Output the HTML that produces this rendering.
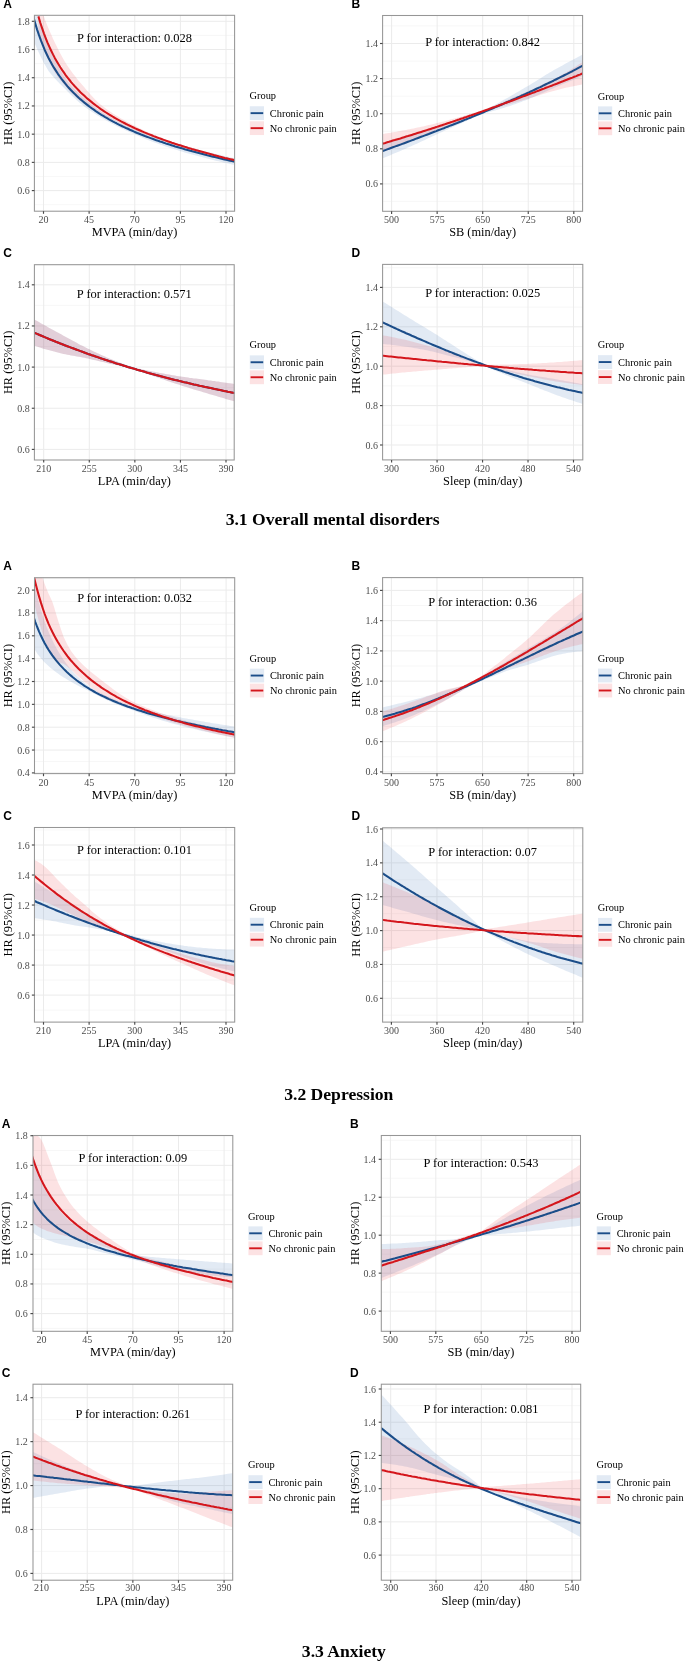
<!DOCTYPE html>
<html><head><meta charset="utf-8"><title>Spline plots</title><style>html,body{margin:0;padding:0;background:#fff;width:685px;height:1661px;overflow:hidden}svg{display:block;will-change:transform}</style></head><body>
<svg width="685" height="1661" viewBox="0 0 685 1661"><style>
.tk{font-family:"Liberation Serif",serif;font-size:10px;fill:#4d4d4d}
.at{font-family:"Liberation Serif",serif;font-size:12.35px;fill:#000}
.pt{font-family:"Liberation Serif",serif;font-size:12.45px;fill:#000}
.lg{font-family:"Liberation Serif",serif;font-size:10.4px;fill:#000}
.lt{font-family:"Liberation Sans",sans-serif;font-size:12px;font-weight:bold;fill:#000}
.cap{font-family:"Liberation Serif",serif;font-size:17.6px;font-weight:bold;fill:#000}
</style><defs><clipPath id="c1A"><rect x="34.4" y="15.3" width="200.2" height="195.9"/></clipPath><clipPath id="c1B"><rect x="382.6" y="15.5" width="200" height="195.8"/></clipPath><clipPath id="c1C"><rect x="34.4" y="264.7" width="199.8" height="195.3"/></clipPath><clipPath id="c1D"><rect x="382.6" y="264.4" width="200.2" height="195.5"/></clipPath><clipPath id="c2A"><rect x="34.5" y="577.7" width="200.2" height="195.9"/></clipPath><clipPath id="c2B"><rect x="382.6" y="577.6" width="200.2" height="196"/></clipPath><clipPath id="c2C"><rect x="34.45" y="827.5" width="200.25" height="194.6"/></clipPath><clipPath id="c2D"><rect x="382.6" y="827.8" width="200.2" height="194.3"/></clipPath><clipPath id="c3A"><rect x="33" y="1135.5" width="199.8" height="195.8"/></clipPath><clipPath id="c3B"><rect x="381.3" y="1135.5" width="199.2" height="195.8"/></clipPath><clipPath id="c3C"><rect x="33" y="1384.2" width="199.7" height="196"/></clipPath><clipPath id="c3D"><rect x="381.3" y="1384.2" width="199.4" height="196"/></clipPath></defs>
<rect width="685" height="1661" fill="#fff"/>
<line x1="34.4" y1="204.71" x2="234.6" y2="204.71" stroke="#f3f3f3" stroke-width="0.7"/>
<line x1="34.4" y1="176.49" x2="234.6" y2="176.49" stroke="#f3f3f3" stroke-width="0.7"/>
<line x1="34.4" y1="148.27" x2="234.6" y2="148.27" stroke="#f3f3f3" stroke-width="0.7"/>
<line x1="34.4" y1="120.06" x2="234.6" y2="120.06" stroke="#f3f3f3" stroke-width="0.7"/>
<line x1="34.4" y1="91.84" x2="234.6" y2="91.84" stroke="#f3f3f3" stroke-width="0.7"/>
<line x1="34.4" y1="63.63" x2="234.6" y2="63.63" stroke="#f3f3f3" stroke-width="0.7"/>
<line x1="34.4" y1="35.41" x2="234.6" y2="35.41" stroke="#f3f3f3" stroke-width="0.7"/>
<line x1="43.5" y1="15.3" x2="43.5" y2="211.2" stroke="#ebebeb" stroke-width="1"/>
<line x1="89.12" y1="15.3" x2="89.12" y2="211.2" stroke="#ebebeb" stroke-width="1"/>
<line x1="134.75" y1="15.3" x2="134.75" y2="211.2" stroke="#ebebeb" stroke-width="1"/>
<line x1="180.38" y1="15.3" x2="180.38" y2="211.2" stroke="#ebebeb" stroke-width="1"/>
<line x1="226" y1="15.3" x2="226" y2="211.2" stroke="#ebebeb" stroke-width="1"/>
<line x1="34.4" y1="190.6" x2="234.6" y2="190.6" stroke="#ebebeb" stroke-width="1"/>
<line x1="34.4" y1="162.38" x2="234.6" y2="162.38" stroke="#ebebeb" stroke-width="1"/>
<line x1="34.4" y1="134.17" x2="234.6" y2="134.17" stroke="#ebebeb" stroke-width="1"/>
<line x1="34.4" y1="105.95" x2="234.6" y2="105.95" stroke="#ebebeb" stroke-width="1"/>
<line x1="34.4" y1="77.73" x2="234.6" y2="77.73" stroke="#ebebeb" stroke-width="1"/>
<line x1="34.4" y1="49.52" x2="234.6" y2="49.52" stroke="#ebebeb" stroke-width="1"/>
<line x1="34.4" y1="21.3" x2="234.6" y2="21.3" stroke="#ebebeb" stroke-width="1"/>
<g clip-path="url(#c1A)">
<path d="M31.4,-18.7 33.3,-8.8 35.2,0.3 37.1,8.5 39,16 40.9,22.7 42.8,28.7 44.6,34.1 46.5,39.1 48.4,43.9 50.3,48.6 52.2,53.2 54.1,57.6 56,61.6 57.9,65.4 59.8,68.9 61.7,72.3 63.6,75.4 65.5,78.3 67.3,80.8 69.2,83.2 71.1,85.5 73,87.6 74.9,89.6 76.8,91.6 78.7,93.4 80.6,95.2 82.5,97 84.4,98.6 86.3,100.3 88.2,101.9 90,103.4 91.9,104.9 93.8,106.4 95.7,107.8 97.6,109.2 99.5,110.5 101.4,111.8 103.3,113 105.2,114.2 107.1,115.4 109,116.5 110.9,117.6 112.7,118.7 114.6,119.7 116.5,120.7 118.4,121.7 120.3,122.7 122.2,123.6 124.1,124.5 126,125.4 127.9,126.3 129.8,127.2 131.7,128 133.6,128.9 135.4,129.6 137.3,130.4 139.2,131.1 141.1,131.8 143,132.5 144.9,133.2 146.8,133.9 148.7,134.6 150.6,135.3 152.5,135.9 154.4,136.6 156.3,137.2 158.1,137.8 160,138.4 161.9,139 163.8,139.6 165.7,140.2 167.6,140.8 169.5,141.4 171.4,142 173.3,142.6 175.2,143.1 177.1,143.7 179,144.2 180.8,144.8 182.7,145.3 184.6,145.9 186.5,146.4 188.4,146.9 190.3,147.5 192.2,148 194.1,148.5 196,149 197.9,149.5 199.8,150 201.7,150.5 203.5,150.9 205.4,151.4 207.3,151.9 209.2,152.4 211.1,152.8 213,153.3 214.9,153.7 216.8,154.2 218.7,154.6 220.6,155.1 222.5,155.5 224.4,156 226.2,156.4 228.1,156.8 230,157.2 231.9,157.7 233.8,158.1 235.7,158.5 237.6,158.9 L237.6,165.7 235.7,165.2 233.8,164.8 231.9,164.4 230,164 228.1,163.6 226.2,163.1 224.4,162.7 222.5,162.2 220.6,161.8 218.7,161.3 216.8,160.9 214.9,160.4 213,160 211.1,159.5 209.2,159 207.3,158.5 205.4,158.1 203.5,157.6 201.7,157.1 199.8,156.6 197.9,156.1 196,155.6 194.1,155 192.2,154.5 190.3,154 188.4,153.5 186.5,152.9 184.6,152.4 182.7,151.8 180.8,151.3 179,150.7 177.1,150.1 175.2,149.5 173.3,148.9 171.4,148.3 169.5,147.7 167.6,147.1 165.7,146.4 163.8,145.8 161.9,145.1 160,144.4 158.1,143.8 156.3,143.1 154.4,142.4 152.5,141.7 150.6,140.9 148.7,140.2 146.8,139.4 144.9,138.7 143,137.9 141.1,137.1 139.2,136.3 137.3,135.5 135.4,134.6 133.6,133.8 131.7,133 129.8,132.2 127.9,131.3 126,130.5 124.1,129.6 122.2,128.7 120.3,127.8 118.4,126.9 116.5,125.9 114.6,125 112.7,124 110.9,123 109,121.9 107.1,120.9 105.2,119.8 103.3,118.8 101.4,117.7 99.5,116.6 97.6,115.4 95.7,114.3 93.8,113.1 91.9,111.8 90,110.5 88.2,109.2 86.3,107.9 84.4,106.5 82.5,105 80.6,103.5 78.7,101.9 76.8,100.2 74.9,98.5 73,96.8 71.1,95 69.2,93.1 67.3,91.2 65.5,89.2 63.6,87.4 61.7,85.6 59.8,83.7 57.9,81.8 56,79.8 54.1,77.7 52.2,75.6 50.3,73.3 48.4,70.7 46.5,67.6 44.6,64.3 42.8,60.7 40.9,56.9 39,53.1 37.1,49 35.2,44.5 33.3,39.5 31.4,33.9Z" fill="#3b6fb6" fill-opacity="0.15"/>
<path d="M38.4,0 40.2,6 42.1,11.4 43.9,16.6 45.7,21.5 47.5,26.1 49.4,30.4 51.2,34.6 53,38.7 54.8,42.6 56.7,46.3 58.5,50 60.3,53.5 62.2,57 64,60.2 65.8,63.2 67.6,66 69.5,68.7 71.3,71.2 73.1,73.7 75,76.1 76.8,78.4 78.6,80.7 80.4,82.8 82.3,85 84.1,87.1 85.9,89.2 87.7,91.3 89.6,93.4 91.4,95.5 93.2,97.5 95.1,99.4 96.9,101.2 98.7,102.9 100.5,104.4 102.4,105.9 104.2,107.3 106,108.7 107.8,110 109.7,111.3 111.5,112.5 113.3,113.7 115.2,114.9 117,116 118.8,117.1 120.6,118.2 122.5,119.3 124.3,120.3 126.1,121.3 127.9,122.3 129.8,123.3 131.6,124.3 133.4,125.2 135.3,126.1 137.1,127 138.9,127.9 140.7,128.8 142.6,129.7 144.4,130.5 146.2,131.4 148.1,132.2 149.9,133 151.7,133.8 153.5,134.6 155.4,135.4 157.2,136.1 159,136.9 160.8,137.6 162.7,138.3 164.5,139 166.3,139.7 168.2,140.4 170,141.1 171.8,141.8 173.6,142.4 175.5,143.1 177.3,143.7 179.1,144.3 180.9,144.9 182.8,145.5 184.6,146 186.4,146.6 188.3,147.1 190.1,147.7 191.9,148.2 193.7,148.7 195.6,149.2 197.4,149.8 199.2,150.3 201,150.8 202.9,151.3 204.7,151.8 206.5,152.2 208.4,152.7 210.2,153.2 212,153.7 213.8,154.2 215.7,154.6 217.5,155.1 219.3,155.5 221.2,156 223,156.4 224.8,156.9 226.6,157.3 228.5,157.8 230.3,158.2 232.1,158.6 233.9,159 235.8,159.5 237.6,159.9 L237.6,161.9 235.8,161.5 233.9,161.1 232.1,160.6 230.3,160.2 228.5,159.7 226.6,159.3 224.8,158.8 223,158.4 221.2,157.9 219.3,157.4 217.5,156.9 215.7,156.5 213.8,156 212,155.5 210.2,155 208.4,154.5 206.5,154 204.7,153.5 202.9,153 201,152.5 199.2,151.9 197.4,151.4 195.6,150.9 193.7,150.3 191.9,149.8 190.1,149.2 188.3,148.7 186.4,148.1 184.6,147.5 182.8,147 180.9,146.4 179.1,145.8 177.3,145.2 175.5,144.7 173.6,144.1 171.8,143.5 170,143 168.2,142.4 166.3,141.8 164.5,141.2 162.7,140.6 160.8,140 159,139.4 157.2,138.8 155.4,138.1 153.5,137.5 151.7,136.9 149.9,136.2 148.1,135.5 146.2,134.9 144.4,134.2 142.6,133.5 140.7,132.8 138.9,132 137.1,131.3 135.3,130.5 133.4,129.8 131.6,129 129.8,128.2 127.9,127.4 126.1,126.5 124.3,125.7 122.5,124.8 120.6,123.9 118.8,123 117,122.1 115.2,121.2 113.3,120.2 111.5,119.3 109.7,118.3 107.8,117.3 106,116.2 104.2,115.2 102.4,114.1 100.5,113.1 98.7,112 96.9,111 95.1,110 93.2,109.1 91.4,108.2 89.6,107.2 87.7,106.2 85.9,105 84.1,103.8 82.3,102.5 80.4,101 78.6,99.5 76.8,98 75,96.3 73.1,94.6 71.3,92.7 69.5,90.8 67.6,88.7 65.8,86.6 64,84.5 62.2,82.3 60.3,80.1 58.5,77.7 56.7,75.1 54.8,72.2 53,69.1 51.2,65.7 49.4,62.1 47.5,58 45.7,53.7 43.9,48.9 42.1,43.7 40.2,38 38.4,31.8Z" fill="#e8202a" fill-opacity="0.13"/>
<path d="M31.4,8.9 33.3,16.5 35.2,23.3 37.1,29.6 39,35.2 40.9,40.4 42.8,45.2 44.6,49.7 46.5,53.8 48.4,57.7 50.3,61.3 52.2,64.7 54.1,67.9 56,70.9 57.9,73.8 59.8,76.5 61.7,79.1 63.6,81.5 65.5,83.8 67.3,86.1 69.2,88.2 71.1,90.3 73,92.2 74.9,94.1 76.8,95.9 78.7,97.7 80.6,99.4 82.5,101 84.4,102.6 86.3,104.1 88.2,105.6 90,107 91.9,108.4 93.8,109.7 95.7,111.1 97.6,112.3 99.5,113.6 101.4,114.8 103.3,115.9 105.2,117.1 107.1,118.2 109,119.3 110.9,120.3 112.7,121.4 114.6,122.4 116.5,123.3 118.4,124.3 120.3,125.3 122.2,126.2 124.1,127.1 126,128 127.9,128.8 129.8,129.7 131.7,130.5 133.6,131.4 135.4,132.2 137.3,133 139.2,133.7 141.1,134.5 143,135.2 144.9,136 146.8,136.7 148.7,137.4 150.6,138.1 152.5,138.8 154.4,139.5 156.3,140.2 158.1,140.8 160,141.5 161.9,142.1 163.8,142.7 165.7,143.4 167.6,144 169.5,144.6 171.4,145.2 173.3,145.8 175.2,146.4 177.1,146.9 179,147.5 180.8,148.1 182.7,148.6 184.6,149.2 186.5,149.7 188.4,150.2 190.3,150.8 192.2,151.3 194.1,151.8 196,152.3 197.9,152.8 199.8,153.3 201.7,153.8 203.5,154.3 205.4,154.8 207.3,155.3 209.2,155.7 211.1,156.2 213,156.7 214.9,157.1 216.8,157.6 218.7,158 220.6,158.5 222.5,158.9 224.4,159.4 226.2,159.8 228.1,160.2 230,160.7 231.9,161.1 233.8,161.5 235.7,161.9 237.6,162.3" fill="none" stroke="#1b4d89" stroke-width="2.05" stroke-linejoin="round"/>
<path d="M38.4,16.4 40.2,22.5 42.1,28.1 43.9,33.3 45.7,38.1 47.5,42.6 49.4,46.8 51.2,50.7 53,54.4 54.8,57.9 56.7,61.2 58.5,64.3 60.3,67.2 62.2,70.1 64,72.7 65.8,75.3 67.6,77.7 69.5,80 71.3,82.3 73.1,84.4 75,86.5 76.8,88.4 78.6,90.3 80.4,92.2 82.3,93.9 84.1,95.6 85.9,97.3 87.7,98.9 89.6,100.4 91.4,101.9 93.2,103.4 95.1,104.8 96.9,106.2 98.7,107.5 100.5,108.8 102.4,110.1 104.2,111.3 106,112.5 107.8,113.7 109.7,114.8 111.5,115.9 113.3,117 115.2,118.1 117,119.1 118.8,120.1 120.6,121.1 122.5,122.1 124.3,123 126.1,124 127.9,124.9 129.8,125.8 131.6,126.6 133.4,127.5 135.3,128.4 137.1,129.2 138.9,130 140.7,130.8 142.6,131.6 144.4,132.4 146.2,133.1 148.1,133.9 149.9,134.6 151.7,135.3 153.5,136.1 155.4,136.8 157.2,137.5 159,138.1 160.8,138.8 162.7,139.5 164.5,140.1 166.3,140.8 168.2,141.4 170,142 171.8,142.7 173.6,143.3 175.5,143.9 177.3,144.5 179.1,145.1 180.9,145.6 182.8,146.2 184.6,146.8 186.4,147.3 188.3,147.9 190.1,148.4 191.9,149 193.7,149.5 195.6,150.1 197.4,150.6 199.2,151.1 201,151.6 202.9,152.1 204.7,152.6 206.5,153.1 208.4,153.6 210.2,154.1 212,154.6 213.8,155.1 215.7,155.5 217.5,156 219.3,156.5 221.2,156.9 223,157.4 224.8,157.9 226.6,158.3 228.5,158.8 230.3,159.2 232.1,159.6 233.9,160.1 235.8,160.5 237.6,160.9" fill="none" stroke="#d4161c" stroke-width="2.05" stroke-linejoin="round"/>
</g>
<rect x="34.4" y="15.3" width="200.2" height="195.9" fill="none" stroke="#969696" stroke-width="1.05"/>
<line x1="31.8" y1="190.6" x2="34.4" y2="190.6" stroke="#4a4a4a" stroke-width="1.15"/>
<text x="29.7" y="194.1" class="tk" text-anchor="end">0.6</text>
<line x1="31.8" y1="162.38" x2="34.4" y2="162.38" stroke="#4a4a4a" stroke-width="1.15"/>
<text x="29.7" y="165.88" class="tk" text-anchor="end">0.8</text>
<line x1="31.8" y1="134.17" x2="34.4" y2="134.17" stroke="#4a4a4a" stroke-width="1.15"/>
<text x="29.7" y="137.67" class="tk" text-anchor="end">1.0</text>
<line x1="31.8" y1="105.95" x2="34.4" y2="105.95" stroke="#4a4a4a" stroke-width="1.15"/>
<text x="29.7" y="109.45" class="tk" text-anchor="end">1.2</text>
<line x1="31.8" y1="77.73" x2="34.4" y2="77.73" stroke="#4a4a4a" stroke-width="1.15"/>
<text x="29.7" y="81.23" class="tk" text-anchor="end">1.4</text>
<line x1="31.8" y1="49.52" x2="34.4" y2="49.52" stroke="#4a4a4a" stroke-width="1.15"/>
<text x="29.7" y="53.02" class="tk" text-anchor="end">1.6</text>
<line x1="31.8" y1="21.3" x2="34.4" y2="21.3" stroke="#4a4a4a" stroke-width="1.15"/>
<text x="29.7" y="24.8" class="tk" text-anchor="end">1.8</text>
<line x1="43.5" y1="211.2" x2="43.5" y2="213.8" stroke="#4a4a4a" stroke-width="1.15"/>
<text x="43.5" y="223.2" class="tk" text-anchor="middle">20</text>
<line x1="89.12" y1="211.2" x2="89.12" y2="213.8" stroke="#4a4a4a" stroke-width="1.15"/>
<text x="89.12" y="223.2" class="tk" text-anchor="middle">45</text>
<line x1="134.75" y1="211.2" x2="134.75" y2="213.8" stroke="#4a4a4a" stroke-width="1.15"/>
<text x="134.75" y="223.2" class="tk" text-anchor="middle">70</text>
<line x1="180.38" y1="211.2" x2="180.38" y2="213.8" stroke="#4a4a4a" stroke-width="1.15"/>
<text x="180.38" y="223.2" class="tk" text-anchor="middle">95</text>
<line x1="226" y1="211.2" x2="226" y2="213.8" stroke="#4a4a4a" stroke-width="1.15"/>
<text x="226" y="223.2" class="tk" text-anchor="middle">120</text>
<text x="134.5" y="236.2" class="at" text-anchor="middle">MVPA (min/day)</text>
<text transform="translate(11.8,113.25) rotate(-90)" class="at" text-anchor="middle">HR (95%CI)</text>
<text x="134.5" y="41.9" class="pt" text-anchor="middle">P for interaction: 0.028</text>
<text x="3.2" y="7.9" class="lt">A</text>
<text x="249.5" y="99.35" class="lg">Group</text>
<rect x="249.8" y="106.25" width="14.2" height="13.8" fill="#3b6fb6" fill-opacity="0.15"/>
<line x1="250.6" y1="113.15" x2="263.2" y2="113.15" stroke="#1b4d89" stroke-width="1.9"/>
<text x="269.8" y="116.65" class="lg">Chronic pain</text>
<rect x="249.8" y="121.25" width="14.2" height="13.8" fill="#e8202a" fill-opacity="0.13"/>
<line x1="250.6" y1="128.15" x2="263.2" y2="128.15" stroke="#d4161c" stroke-width="1.9"/>
<text x="269.8" y="131.65" class="lg">No chronic pain</text>
<line x1="382.6" y1="201.45" x2="582.6" y2="201.45" stroke="#f3f3f3" stroke-width="0.7"/>
<line x1="382.6" y1="166.35" x2="582.6" y2="166.35" stroke="#f3f3f3" stroke-width="0.7"/>
<line x1="382.6" y1="131.25" x2="582.6" y2="131.25" stroke="#f3f3f3" stroke-width="0.7"/>
<line x1="382.6" y1="96.15" x2="582.6" y2="96.15" stroke="#f3f3f3" stroke-width="0.7"/>
<line x1="382.6" y1="61.05" x2="582.6" y2="61.05" stroke="#f3f3f3" stroke-width="0.7"/>
<line x1="382.6" y1="25.95" x2="582.6" y2="25.95" stroke="#f3f3f3" stroke-width="0.7"/>
<line x1="391.6" y1="15.5" x2="391.6" y2="211.3" stroke="#ebebeb" stroke-width="1"/>
<line x1="437.15" y1="15.5" x2="437.15" y2="211.3" stroke="#ebebeb" stroke-width="1"/>
<line x1="482.7" y1="15.5" x2="482.7" y2="211.3" stroke="#ebebeb" stroke-width="1"/>
<line x1="528.25" y1="15.5" x2="528.25" y2="211.3" stroke="#ebebeb" stroke-width="1"/>
<line x1="573.8" y1="15.5" x2="573.8" y2="211.3" stroke="#ebebeb" stroke-width="1"/>
<line x1="382.6" y1="183.9" x2="582.6" y2="183.9" stroke="#ebebeb" stroke-width="1"/>
<line x1="382.6" y1="148.8" x2="582.6" y2="148.8" stroke="#ebebeb" stroke-width="1"/>
<line x1="382.6" y1="113.7" x2="582.6" y2="113.7" stroke="#ebebeb" stroke-width="1"/>
<line x1="382.6" y1="78.6" x2="582.6" y2="78.6" stroke="#ebebeb" stroke-width="1"/>
<line x1="382.6" y1="43.5" x2="582.6" y2="43.5" stroke="#ebebeb" stroke-width="1"/>
<g clip-path="url(#c1B)">
<path d="M379.6,144.2 381.5,143.6 383.4,143.1 385.3,142.5 387.2,142 389,141.4 390.9,140.9 392.8,140.3 394.7,139.8 396.6,139.2 398.5,138.7 400.4,138.1 402.3,137.6 404.2,137 406.1,136.4 407.9,135.9 409.8,135.3 411.7,134.7 413.6,134.2 415.5,133.6 417.4,133 419.3,132.5 421.2,131.9 423.1,131.3 425,130.7 426.8,130.1 428.7,129.6 430.6,129 432.5,128.4 434.4,127.8 436.3,127.2 438.2,126.6 440.1,126 442,125.4 443.9,124.8 445.7,124.2 447.6,123.6 449.5,122.9 451.4,122.3 453.3,121.7 455.2,121.1 457.1,120.4 459,119.8 460.9,119.2 462.8,118.6 464.6,117.9 466.5,117.3 468.4,116.6 470.3,116 472.2,115.3 474.1,114.7 476,114 477.9,113.4 479.8,112.7 481.7,112 483.5,111.1 485.4,110 487.3,109 489.2,108 491.1,106.9 493,105.9 494.9,104.8 496.8,103.8 498.7,102.7 500.6,101.7 502.4,100.6 504.3,99.6 506.2,98.5 508.1,97.4 510,96.4 511.9,95.3 513.8,94.2 515.7,93.1 517.6,92 519.5,90.9 521.3,89.8 523.2,88.7 525.1,87.6 527,86.5 528.9,85.4 530.8,84.2 532.7,83.1 534.6,81.9 536.5,80.7 538.4,79.6 540.2,78.4 542.1,77.2 544,76 545.9,74.8 547.8,73.7 549.7,72.5 551.6,71.4 553.5,70.3 555.4,69.3 557.3,68.3 559.1,67.2 561,66.2 562.9,65.2 564.8,64.1 566.7,63.1 568.6,62.1 570.5,61 572.4,60 574.3,59 576.2,58 578,56.9 579.9,55.9 581.8,54.9 583.7,53.9 585.6,52.9 L585.6,74.8 583.7,75.5 581.8,76.3 579.9,77.1 578,77.9 576.2,78.6 574.3,79.4 572.4,80.2 570.5,81 568.6,81.7 566.7,82.5 564.8,83.3 562.9,84.1 561,84.9 559.1,85.7 557.3,86.5 555.4,87.3 553.5,88.2 551.6,89 549.7,89.8 547.8,90.7 545.9,91.5 544,92.4 542.1,93.2 540.2,94.1 538.4,94.9 536.5,95.7 534.6,96.5 532.7,97.4 530.8,98.1 528.9,98.9 527,99.7 525.1,100.4 523.2,101.1 521.3,101.9 519.5,102.6 517.6,103.3 515.7,103.9 513.8,104.6 511.9,105.2 510,105.9 508.1,106.5 506.2,107.1 504.3,107.7 502.4,108.3 500.6,108.8 498.7,109.4 496.8,110 494.9,110.5 493,111 491.1,111.5 489.2,112.1 487.3,112.5 485.4,113 483.5,113.5 481.7,114.1 479.8,114.9 477.9,115.7 476,116.6 474.1,117.4 472.2,118.3 470.3,119.2 468.4,120 466.5,120.9 464.6,121.7 462.8,122.6 460.9,123.4 459,124.3 457.1,125.1 455.2,126 453.3,126.8 451.4,127.7 449.5,128.6 447.6,129.4 445.7,130.3 443.9,131.1 442,132 440.1,132.8 438.2,133.7 436.3,134.5 434.4,135.4 432.5,136.3 430.6,137.2 428.7,138.1 426.8,139 425,139.9 423.1,140.7 421.2,141.6 419.3,142.5 417.4,143.4 415.5,144.3 413.6,145.1 411.7,146 409.8,146.8 407.9,147.6 406.1,148.4 404.2,149.3 402.3,150.1 400.4,150.9 398.5,151.7 396.6,152.5 394.7,153.3 392.8,154.1 390.9,154.9 389,155.7 387.2,156.4 385.3,157.2 383.4,158 381.5,158.7 379.6,159.5Z" fill="#3b6fb6" fill-opacity="0.15"/>
<path d="M379.6,134.5 381.5,134.2 383.4,133.9 385.3,133.6 387.2,133.3 389,133 390.9,132.7 392.8,132.3 394.7,132 396.6,131.7 398.5,131.3 400.4,131 402.3,130.6 404.2,130.3 406.1,129.9 407.9,129.6 409.8,129.2 411.7,128.8 413.6,128.4 415.5,128 417.4,127.6 419.3,127.2 421.2,126.8 423.1,126.4 425,126 426.8,125.6 428.7,125.1 430.6,124.7 432.5,124.2 434.4,123.8 436.3,123.3 438.2,122.8 440.1,122.3 442,121.8 443.9,121.4 445.7,120.9 447.6,120.4 449.5,119.8 451.4,119.3 453.3,118.8 455.2,118.3 457.1,117.8 459,117.2 460.9,116.7 462.8,116.2 464.6,115.6 466.5,115.1 468.4,114.5 470.3,113.9 472.2,113.4 474.1,112.8 476,112.2 477.9,111.6 479.8,111 481.7,110.4 483.5,109.7 485.4,109 487.3,108.2 489.2,107.5 491.1,106.7 493,106 494.9,105.2 496.8,104.4 498.7,103.7 500.6,102.9 502.4,102.1 504.3,101.3 506.2,100.5 508.1,99.7 510,98.9 511.9,98.1 513.8,97.3 515.7,96.5 517.6,95.7 519.5,94.9 521.3,94 523.2,93.2 525.1,92.4 527,91.5 528.9,90.7 530.8,89.9 532.7,89 534.6,88.2 536.5,87.3 538.4,86.5 540.2,85.6 542.1,84.7 544,83.8 545.9,83 547.8,82.1 549.7,81.1 551.6,80.2 553.5,79.3 555.4,78.3 557.3,77.3 559.1,76.3 561,75.3 562.9,74.2 564.8,73.2 566.7,72 568.6,70.9 570.5,69.8 572.4,68.6 574.3,67.4 576.2,66.2 578,65 579.9,63.8 581.8,62.5 583.7,61.3 585.6,60 L585.6,84 583.7,84.3 581.8,84.6 579.9,85 578,85.3 576.2,85.7 574.3,86 572.4,86.4 570.5,86.8 568.6,87.2 566.7,87.6 564.8,88 562.9,88.5 561,88.9 559.1,89.4 557.3,89.9 555.4,90.4 553.5,90.9 551.6,91.5 549.7,92 547.8,92.6 545.9,93.2 544,93.8 542.1,94.3 540.2,94.9 538.4,95.5 536.5,96.1 534.6,96.7 532.7,97.3 530.8,97.9 528.9,98.4 527,99 525.1,99.6 523.2,100.1 521.3,100.7 519.5,101.3 517.6,101.8 515.7,102.4 513.8,103 511.9,103.5 510,104.1 508.1,104.7 506.2,105.2 504.3,105.8 502.4,106.3 500.6,106.9 498.7,107.5 496.8,108 494.9,108.6 493,109.1 491.1,109.7 489.2,110.2 487.3,110.8 485.4,111.3 483.5,111.9 481.7,112.4 479.8,113.2 477.9,113.9 476,114.7 474.1,115.4 472.2,116.2 470.3,116.9 468.4,117.7 466.5,118.4 464.6,119.2 462.8,120 460.9,120.7 459,121.5 457.1,122.3 455.2,123.1 453.3,123.8 451.4,124.6 449.5,125.4 447.6,126.1 445.7,126.9 443.9,127.7 442,128.5 440.1,129.2 438.2,130 436.3,130.8 434.4,131.6 432.5,132.4 430.6,133.2 428.7,134 426.8,134.9 425,135.7 423.1,136.5 421.2,137.3 419.3,138.2 417.4,139 415.5,139.8 413.6,140.5 411.7,141.3 409.8,142 407.9,142.8 406.1,143.5 404.2,144.2 402.3,144.9 400.4,145.7 398.5,146.4 396.6,147.1 394.7,147.8 392.8,148.4 390.9,149.1 389,149.8 387.2,150.4 385.3,151.1 383.4,151.7 381.5,152.4 379.6,153Z" fill="#e8202a" fill-opacity="0.13"/>
<path d="M379.6,152.2 381.5,151.5 383.4,150.8 385.3,150.1 387.2,149.4 389,148.7 390.9,148 392.8,147.3 394.7,146.6 396.6,145.9 398.5,145.3 400.4,144.6 402.3,143.9 404.2,143.2 406.1,142.5 407.9,141.8 409.8,141.1 411.7,140.4 413.6,139.7 415.5,138.9 417.4,138.2 419.3,137.5 421.2,136.8 423.1,136.1 425,135.4 426.8,134.7 428.7,134 430.6,133.2 432.5,132.5 434.4,131.8 436.3,131.1 438.2,130.3 440.1,129.6 442,128.9 443.9,128.2 445.7,127.4 447.6,126.7 449.5,125.9 451.4,125.2 453.3,124.5 455.2,123.7 457.1,123 459,122.2 460.9,121.5 462.8,120.7 464.6,119.9 466.5,119.2 468.4,118.4 470.3,117.7 472.2,116.9 474.1,116.1 476,115.3 477.9,114.6 479.8,113.8 481.7,113 483.5,112.2 485.4,111.4 487.3,110.6 489.2,109.8 491.1,109 493,108.2 494.9,107.4 496.8,106.6 498.7,105.8 500.6,105 502.4,104.2 504.3,103.4 506.2,102.5 508.1,101.7 510,100.9 511.9,100 513.8,99.2 515.7,98.4 517.6,97.5 519.5,96.7 521.3,95.8 523.2,95 525.1,94.1 527,93.2 528.9,92.4 530.8,91.5 532.7,90.6 534.6,89.7 536.5,88.8 538.4,87.9 540.2,87.1 542.1,86.2 544,85.2 545.9,84.3 547.8,83.4 549.7,82.5 551.6,81.6 553.5,80.7 555.4,79.7 557.3,78.8 559.1,77.9 561,76.9 562.9,76 564.8,75 566.7,74.1 568.6,73.1 570.5,72.1 572.4,71.2 574.3,70.2 576.2,69.2 578,68.2 579.9,67.2 581.8,66.2 583.7,65.2 585.6,64.2" fill="none" stroke="#1b4d89" stroke-width="2.05" stroke-linejoin="round"/>
<path d="M379.6,144.5 381.5,143.9 383.4,143.4 385.3,142.9 387.2,142.3 389,141.8 390.9,141.2 392.8,140.6 394.7,140.1 396.6,139.5 398.5,138.9 400.4,138.4 402.3,137.8 404.2,137.2 406.1,136.6 407.9,136.1 409.8,135.5 411.7,134.9 413.6,134.3 415.5,133.7 417.4,133.1 419.3,132.5 421.2,131.9 423.1,131.3 425,130.7 426.8,130.1 428.7,129.5 430.6,128.9 432.5,128.3 434.4,127.7 436.3,127.1 438.2,126.4 440.1,125.8 442,125.2 443.9,124.6 445.7,123.9 447.6,123.3 449.5,122.7 451.4,122.1 453.3,121.4 455.2,120.8 457.1,120.1 459,119.5 460.9,118.8 462.8,118.2 464.6,117.5 466.5,116.9 468.4,116.2 470.3,115.6 472.2,114.9 474.1,114.3 476,113.6 477.9,112.9 479.8,112.3 481.7,111.6 483.5,110.9 485.4,110.3 487.3,109.6 489.2,108.9 491.1,108.2 493,107.5 494.9,106.9 496.8,106.2 498.7,105.5 500.6,104.8 502.4,104.1 504.3,103.4 506.2,102.7 508.1,102 510,101.4 511.9,100.7 513.8,100 515.7,99.3 517.6,98.6 519.5,97.8 521.3,97.1 523.2,96.4 525.1,95.7 527,95 528.9,94.3 530.8,93.6 532.7,92.9 534.6,92.2 536.5,91.4 538.4,90.7 540.2,90 542.1,89.3 544,88.6 545.9,87.8 547.8,87.1 549.7,86.4 551.6,85.7 553.5,84.9 555.4,84.2 557.3,83.5 559.1,82.7 561,82 562.9,81.3 564.8,80.5 566.7,79.8 568.6,79 570.5,78.3 572.4,77.6 574.3,76.8 576.2,76.1 578,75.3 579.9,74.6 581.8,73.8 583.7,73.1 585.6,72.3" fill="none" stroke="#d4161c" stroke-width="2.05" stroke-linejoin="round"/>
</g>
<rect x="382.6" y="15.5" width="200" height="195.8" fill="none" stroke="#969696" stroke-width="1.05"/>
<line x1="380" y1="183.9" x2="382.6" y2="183.9" stroke="#4a4a4a" stroke-width="1.15"/>
<text x="377.9" y="187.4" class="tk" text-anchor="end">0.6</text>
<line x1="380" y1="148.8" x2="382.6" y2="148.8" stroke="#4a4a4a" stroke-width="1.15"/>
<text x="377.9" y="152.3" class="tk" text-anchor="end">0.8</text>
<line x1="380" y1="113.7" x2="382.6" y2="113.7" stroke="#4a4a4a" stroke-width="1.15"/>
<text x="377.9" y="117.2" class="tk" text-anchor="end">1.0</text>
<line x1="380" y1="78.6" x2="382.6" y2="78.6" stroke="#4a4a4a" stroke-width="1.15"/>
<text x="377.9" y="82.1" class="tk" text-anchor="end">1.2</text>
<line x1="380" y1="43.5" x2="382.6" y2="43.5" stroke="#4a4a4a" stroke-width="1.15"/>
<text x="377.9" y="47" class="tk" text-anchor="end">1.4</text>
<line x1="391.6" y1="211.3" x2="391.6" y2="213.9" stroke="#4a4a4a" stroke-width="1.15"/>
<text x="391.6" y="223.3" class="tk" text-anchor="middle">500</text>
<line x1="437.15" y1="211.3" x2="437.15" y2="213.9" stroke="#4a4a4a" stroke-width="1.15"/>
<text x="437.15" y="223.3" class="tk" text-anchor="middle">575</text>
<line x1="482.7" y1="211.3" x2="482.7" y2="213.9" stroke="#4a4a4a" stroke-width="1.15"/>
<text x="482.7" y="223.3" class="tk" text-anchor="middle">650</text>
<line x1="528.25" y1="211.3" x2="528.25" y2="213.9" stroke="#4a4a4a" stroke-width="1.15"/>
<text x="528.25" y="223.3" class="tk" text-anchor="middle">725</text>
<line x1="573.8" y1="211.3" x2="573.8" y2="213.9" stroke="#4a4a4a" stroke-width="1.15"/>
<text x="573.8" y="223.3" class="tk" text-anchor="middle">800</text>
<text x="482.6" y="236.3" class="at" text-anchor="middle">SB (min/day)</text>
<text transform="translate(360,113.4) rotate(-90)" class="at" text-anchor="middle">HR (95%CI)</text>
<text x="482.6" y="45.7" class="pt" text-anchor="middle">P for interaction: 0.842</text>
<text x="351.4" y="8.1" class="lt">B</text>
<text x="597.7" y="99.5" class="lg">Group</text>
<rect x="598" y="106.4" width="14.2" height="13.8" fill="#3b6fb6" fill-opacity="0.15"/>
<line x1="598.8" y1="113.3" x2="611.4" y2="113.3" stroke="#1b4d89" stroke-width="1.9"/>
<text x="618" y="116.8" class="lg">Chronic pain</text>
<rect x="598" y="121.4" width="14.2" height="13.8" fill="#e8202a" fill-opacity="0.13"/>
<line x1="598.8" y1="128.3" x2="611.4" y2="128.3" stroke="#d4161c" stroke-width="1.9"/>
<text x="618" y="131.8" class="lg">No chronic pain</text>
<line x1="34.4" y1="428.82" x2="234.2" y2="428.82" stroke="#f3f3f3" stroke-width="0.7"/>
<line x1="34.4" y1="387.67" x2="234.2" y2="387.67" stroke="#f3f3f3" stroke-width="0.7"/>
<line x1="34.4" y1="346.52" x2="234.2" y2="346.52" stroke="#f3f3f3" stroke-width="0.7"/>
<line x1="34.4" y1="305.38" x2="234.2" y2="305.38" stroke="#f3f3f3" stroke-width="0.7"/>
<line x1="43.7" y1="264.7" x2="43.7" y2="460" stroke="#ebebeb" stroke-width="1"/>
<line x1="89.28" y1="264.7" x2="89.28" y2="460" stroke="#ebebeb" stroke-width="1"/>
<line x1="134.85" y1="264.7" x2="134.85" y2="460" stroke="#ebebeb" stroke-width="1"/>
<line x1="180.43" y1="264.7" x2="180.43" y2="460" stroke="#ebebeb" stroke-width="1"/>
<line x1="226" y1="264.7" x2="226" y2="460" stroke="#ebebeb" stroke-width="1"/>
<line x1="34.4" y1="449.4" x2="234.2" y2="449.4" stroke="#ebebeb" stroke-width="1"/>
<line x1="34.4" y1="408.25" x2="234.2" y2="408.25" stroke="#ebebeb" stroke-width="1"/>
<line x1="34.4" y1="367.1" x2="234.2" y2="367.1" stroke="#ebebeb" stroke-width="1"/>
<line x1="34.4" y1="325.95" x2="234.2" y2="325.95" stroke="#ebebeb" stroke-width="1"/>
<line x1="34.4" y1="284.8" x2="234.2" y2="284.8" stroke="#ebebeb" stroke-width="1"/>
<g clip-path="url(#c1C)">
<path d="M31.4,317.8 33.3,318.9 35.2,319.9 37.1,321 39,322.1 40.8,323.2 42.7,324.2 44.6,325.3 46.5,326.3 48.4,327.4 50.3,328.4 52.2,329.5 54.1,330.5 55.9,331.6 57.8,332.6 59.7,333.6 61.6,334.6 63.5,335.7 65.4,336.7 67.3,337.7 69.2,338.7 71,339.8 72.9,340.8 74.8,341.8 76.7,342.8 78.6,343.9 80.5,344.9 82.4,345.8 84.3,346.8 86.2,347.8 88,348.7 89.9,349.6 91.8,350.5 93.7,351.4 95.6,352.3 97.5,353.2 99.4,354 101.3,354.9 103.1,355.7 105,356.5 106.9,357.4 108.8,358.2 110.7,358.9 112.6,359.7 114.5,360.5 116.4,361.2 118.3,361.9 120.1,362.7 122,363.4 123.9,364.1 125.8,364.8 127.7,365.4 129.6,366.1 131.5,366.7 133.4,367.4 135.2,367.9 137.1,368.3 139,368.7 140.9,369.1 142.8,369.5 144.7,369.9 146.6,370.3 148.5,370.7 150.3,371.1 152.2,371.5 154.1,371.8 156,372.2 157.9,372.6 159.8,372.9 161.7,373.3 163.6,373.6 165.5,373.9 167.3,374.3 169.2,374.6 171.1,374.9 173,375.2 174.9,375.6 176.8,375.9 178.7,376.2 180.6,376.5 182.4,376.8 184.3,377.1 186.2,377.3 188.1,377.6 190,377.9 191.9,378.1 193.8,378.4 195.7,378.6 197.6,378.8 199.4,379.1 201.3,379.3 203.2,379.6 205.1,379.8 207,380.1 208.9,380.4 210.8,380.6 212.7,380.9 214.5,381.1 216.4,381.4 218.3,381.6 220.2,381.9 222.1,382.2 224,382.4 225.9,382.7 227.8,382.9 229.6,383.2 231.5,383.4 233.4,383.7 235.3,384 237.2,384.2 L237.2,402.2 235.3,401.6 233.4,401.1 231.5,400.5 229.6,400 227.8,399.4 225.9,398.9 224,398.3 222.1,397.8 220.2,397.2 218.3,396.7 216.4,396.1 214.5,395.5 212.7,395 210.8,394.4 208.9,393.9 207,393.3 205.1,392.7 203.2,392.2 201.3,391.6 199.4,391.1 197.6,390.5 195.7,389.9 193.8,389.4 191.9,388.8 190,388.2 188.1,387.6 186.2,387 184.3,386.5 182.4,385.9 180.6,385.3 178.7,384.6 176.8,384 174.9,383.4 173,382.8 171.1,382.2 169.2,381.5 167.3,380.9 165.5,380.2 163.6,379.6 161.7,378.9 159.8,378.3 157.9,377.6 156,377 154.1,376.3 152.2,375.6 150.3,374.9 148.5,374.2 146.6,373.5 144.7,372.8 142.8,372.1 140.9,371.4 139,370.7 137.1,370 135.2,369.3 133.4,368.7 131.5,368.3 129.6,367.9 127.7,367.5 125.8,367.1 123.9,366.8 122,366.4 120.1,366 118.3,365.6 116.4,365.1 114.5,364.7 112.6,364.3 110.7,363.9 108.8,363.5 106.9,363 105,362.6 103.1,362.1 101.3,361.7 99.4,361.2 97.5,360.8 95.6,360.3 93.7,359.9 91.8,359.4 89.9,359 88,358.6 86.2,358.2 84.3,357.8 82.4,357.5 80.5,357.1 78.6,356.8 76.7,356.5 74.8,356.1 72.9,355.8 71,355.4 69.2,355.1 67.3,354.7 65.4,354.3 63.5,353.9 61.6,353.4 59.7,353 57.8,352.5 55.9,352 54.1,351.5 52.2,351 50.3,350.5 48.4,350 46.5,349.5 44.6,348.9 42.7,348.4 40.8,347.8 39,347.2 37.1,346.6 35.2,346.1 33.3,345.4 31.4,344.8Z" fill="#3b6fb6" fill-opacity="0.15"/>
<path d="M31.4,317.8 33.3,318.9 35.2,319.9 37.1,321 39,322.1 40.8,323.2 42.7,324.2 44.6,325.3 46.5,326.3 48.4,327.4 50.3,328.4 52.2,329.5 54.1,330.5 55.9,331.6 57.8,332.6 59.7,333.6 61.6,334.6 63.5,335.7 65.4,336.7 67.3,337.7 69.2,338.7 71,339.8 72.9,340.8 74.8,341.8 76.7,342.8 78.6,343.9 80.5,344.9 82.4,345.8 84.3,346.8 86.2,347.8 88,348.7 89.9,349.6 91.8,350.5 93.7,351.4 95.6,352.3 97.5,353.2 99.4,354 101.3,354.9 103.1,355.7 105,356.5 106.9,357.4 108.8,358.2 110.7,358.9 112.6,359.7 114.5,360.5 116.4,361.2 118.3,361.9 120.1,362.7 122,363.4 123.9,364.1 125.8,364.8 127.7,365.4 129.6,366.1 131.5,366.7 133.4,367.4 135.2,367.9 137.1,368.3 139,368.7 140.9,369.1 142.8,369.5 144.7,369.9 146.6,370.3 148.5,370.7 150.3,371.1 152.2,371.5 154.1,371.8 156,372.2 157.9,372.6 159.8,372.9 161.7,373.3 163.6,373.6 165.5,373.9 167.3,374.3 169.2,374.6 171.1,374.9 173,375.2 174.9,375.6 176.8,375.9 178.7,376.2 180.6,376.5 182.4,376.8 184.3,377.1 186.2,377.3 188.1,377.6 190,377.9 191.9,378.1 193.8,378.4 195.7,378.6 197.6,378.8 199.4,379.1 201.3,379.3 203.2,379.6 205.1,379.8 207,380.1 208.9,380.4 210.8,380.6 212.7,380.9 214.5,381.1 216.4,381.4 218.3,381.6 220.2,381.9 222.1,382.2 224,382.4 225.9,382.7 227.8,382.9 229.6,383.2 231.5,383.4 233.4,383.7 235.3,384 237.2,384.2 L237.2,402.2 235.3,401.6 233.4,401.1 231.5,400.5 229.6,400 227.8,399.4 225.9,398.9 224,398.3 222.1,397.8 220.2,397.2 218.3,396.7 216.4,396.1 214.5,395.5 212.7,395 210.8,394.4 208.9,393.9 207,393.3 205.1,392.7 203.2,392.2 201.3,391.6 199.4,391.1 197.6,390.5 195.7,389.9 193.8,389.4 191.9,388.8 190,388.2 188.1,387.6 186.2,387 184.3,386.5 182.4,385.9 180.6,385.3 178.7,384.6 176.8,384 174.9,383.4 173,382.8 171.1,382.2 169.2,381.5 167.3,380.9 165.5,380.2 163.6,379.6 161.7,378.9 159.8,378.3 157.9,377.6 156,377 154.1,376.3 152.2,375.6 150.3,374.9 148.5,374.2 146.6,373.5 144.7,372.8 142.8,372.1 140.9,371.4 139,370.7 137.1,370 135.2,369.3 133.4,368.7 131.5,368.3 129.6,367.9 127.7,367.5 125.8,367.1 123.9,366.8 122,366.4 120.1,366 118.3,365.6 116.4,365.1 114.5,364.7 112.6,364.3 110.7,363.9 108.8,363.5 106.9,363 105,362.6 103.1,362.1 101.3,361.7 99.4,361.2 97.5,360.8 95.6,360.3 93.7,359.9 91.8,359.4 89.9,359 88,358.6 86.2,358.2 84.3,357.8 82.4,357.5 80.5,357.1 78.6,356.8 76.7,356.5 74.8,356.1 72.9,355.8 71,355.4 69.2,355.1 67.3,354.7 65.4,354.3 63.5,353.9 61.6,353.4 59.7,353 57.8,352.5 55.9,352 54.1,351.5 52.2,351 50.3,350.5 48.4,350 46.5,349.5 44.6,348.9 42.7,348.4 40.8,347.8 39,347.2 37.1,346.6 35.2,346.1 33.3,345.4 31.4,344.8Z" fill="#e8202a" fill-opacity="0.13"/>
<path d="M31.4,331.5 33.3,332.3 35.2,333.1 37.1,333.9 39,334.7 40.8,335.5 42.7,336.3 44.6,337.1 46.5,337.9 48.4,338.7 50.3,339.5 52.2,340.2 54.1,341 55.9,341.8 57.8,342.5 59.7,343.3 61.6,344 63.5,344.7 65.4,345.5 67.3,346.2 69.2,346.9 71,347.6 72.9,348.3 74.8,349 76.7,349.7 78.6,350.4 80.5,351.1 82.4,351.8 84.3,352.5 86.2,353.2 88,353.9 89.9,354.5 91.8,355.2 93.7,355.8 95.6,356.5 97.5,357.1 99.4,357.8 101.3,358.4 103.1,359.1 105,359.7 106.9,360.3 108.8,360.9 110.7,361.5 112.6,362.1 114.5,362.8 116.4,363.4 118.3,363.9 120.1,364.5 122,365.1 123.9,365.7 125.8,366.3 127.7,366.9 129.6,367.4 131.5,368 133.4,368.6 135.2,369.1 137.1,369.7 139,370.2 140.9,370.8 142.8,371.3 144.7,371.8 146.6,372.4 148.5,372.9 150.3,373.4 152.2,373.9 154.1,374.4 156,375 157.9,375.5 159.8,376 161.7,376.5 163.6,377 165.5,377.5 167.3,377.9 169.2,378.4 171.1,378.9 173,379.4 174.9,379.9 176.8,380.3 178.7,380.8 180.6,381.2 182.4,381.7 184.3,382.2 186.2,382.6 188.1,383.1 190,383.5 191.9,383.9 193.8,384.4 195.7,384.8 197.6,385.2 199.4,385.7 201.3,386.1 203.2,386.5 205.1,386.9 207,387.3 208.9,387.7 210.8,388.1 212.7,388.5 214.5,388.9 216.4,389.3 218.3,389.7 220.2,390.1 222.1,390.5 224,390.9 225.9,391.3 227.8,391.7 229.6,392 231.5,392.4 233.4,392.8 235.3,393.1 237.2,393.5" fill="none" stroke="#1b4d89" stroke-width="2.05" stroke-linejoin="round"/>
<path d="M31.4,331.5 33.3,332.3 35.2,333.1 37.1,333.9 39,334.7 40.8,335.5 42.7,336.3 44.6,337.1 46.5,337.9 48.4,338.7 50.3,339.5 52.2,340.2 54.1,341 55.9,341.8 57.8,342.5 59.7,343.3 61.6,344 63.5,344.7 65.4,345.5 67.3,346.2 69.2,346.9 71,347.6 72.9,348.3 74.8,349 76.7,349.7 78.6,350.4 80.5,351.1 82.4,351.8 84.3,352.5 86.2,353.2 88,353.9 89.9,354.5 91.8,355.2 93.7,355.8 95.6,356.5 97.5,357.1 99.4,357.8 101.3,358.4 103.1,359.1 105,359.7 106.9,360.3 108.8,360.9 110.7,361.5 112.6,362.1 114.5,362.8 116.4,363.4 118.3,363.9 120.1,364.5 122,365.1 123.9,365.7 125.8,366.3 127.7,366.9 129.6,367.4 131.5,368 133.4,368.6 135.2,369.1 137.1,369.7 139,370.2 140.9,370.8 142.8,371.3 144.7,371.8 146.6,372.4 148.5,372.9 150.3,373.4 152.2,373.9 154.1,374.4 156,375 157.9,375.5 159.8,376 161.7,376.5 163.6,377 165.5,377.5 167.3,377.9 169.2,378.4 171.1,378.9 173,379.4 174.9,379.9 176.8,380.3 178.7,380.8 180.6,381.2 182.4,381.7 184.3,382.2 186.2,382.6 188.1,383.1 190,383.5 191.9,383.9 193.8,384.4 195.7,384.8 197.6,385.2 199.4,385.7 201.3,386.1 203.2,386.5 205.1,386.9 207,387.3 208.9,387.7 210.8,388.1 212.7,388.5 214.5,388.9 216.4,389.3 218.3,389.7 220.2,390.1 222.1,390.5 224,390.9 225.9,391.3 227.8,391.7 229.6,392 231.5,392.4 233.4,392.8 235.3,393.1 237.2,393.5" fill="none" stroke="#d4161c" stroke-width="2.05" stroke-linejoin="round"/>
</g>
<rect x="34.4" y="264.7" width="199.8" height="195.3" fill="none" stroke="#969696" stroke-width="1.05"/>
<line x1="31.8" y1="449.4" x2="34.4" y2="449.4" stroke="#4a4a4a" stroke-width="1.15"/>
<text x="29.7" y="452.9" class="tk" text-anchor="end">0.6</text>
<line x1="31.8" y1="408.25" x2="34.4" y2="408.25" stroke="#4a4a4a" stroke-width="1.15"/>
<text x="29.7" y="411.75" class="tk" text-anchor="end">0.8</text>
<line x1="31.8" y1="367.1" x2="34.4" y2="367.1" stroke="#4a4a4a" stroke-width="1.15"/>
<text x="29.7" y="370.6" class="tk" text-anchor="end">1.0</text>
<line x1="31.8" y1="325.95" x2="34.4" y2="325.95" stroke="#4a4a4a" stroke-width="1.15"/>
<text x="29.7" y="329.45" class="tk" text-anchor="end">1.2</text>
<line x1="31.8" y1="284.8" x2="34.4" y2="284.8" stroke="#4a4a4a" stroke-width="1.15"/>
<text x="29.7" y="288.3" class="tk" text-anchor="end">1.4</text>
<line x1="43.7" y1="460" x2="43.7" y2="462.6" stroke="#4a4a4a" stroke-width="1.15"/>
<text x="43.7" y="472" class="tk" text-anchor="middle">210</text>
<line x1="89.28" y1="460" x2="89.28" y2="462.6" stroke="#4a4a4a" stroke-width="1.15"/>
<text x="89.28" y="472" class="tk" text-anchor="middle">255</text>
<line x1="134.85" y1="460" x2="134.85" y2="462.6" stroke="#4a4a4a" stroke-width="1.15"/>
<text x="134.85" y="472" class="tk" text-anchor="middle">300</text>
<line x1="180.43" y1="460" x2="180.43" y2="462.6" stroke="#4a4a4a" stroke-width="1.15"/>
<text x="180.43" y="472" class="tk" text-anchor="middle">345</text>
<line x1="226" y1="460" x2="226" y2="462.6" stroke="#4a4a4a" stroke-width="1.15"/>
<text x="226" y="472" class="tk" text-anchor="middle">390</text>
<text x="134.3" y="485" class="at" text-anchor="middle">LPA (min/day)</text>
<text transform="translate(11.8,362.35) rotate(-90)" class="at" text-anchor="middle">HR (95%CI)</text>
<text x="134.3" y="297.6" class="pt" text-anchor="middle">P for interaction: 0.571</text>
<text x="3.2" y="257.3" class="lt">C</text>
<text x="249.5" y="348.45" class="lg">Group</text>
<rect x="249.8" y="355.35" width="14.2" height="13.8" fill="#3b6fb6" fill-opacity="0.15"/>
<line x1="250.6" y1="362.25" x2="263.2" y2="362.25" stroke="#1b4d89" stroke-width="1.9"/>
<text x="269.8" y="365.75" class="lg">Chronic pain</text>
<rect x="249.8" y="370.35" width="14.2" height="13.8" fill="#e8202a" fill-opacity="0.13"/>
<line x1="250.6" y1="377.25" x2="263.2" y2="377.25" stroke="#d4161c" stroke-width="1.9"/>
<text x="269.8" y="380.75" class="lg">No chronic pain</text>
<line x1="382.6" y1="425.3" x2="582.8" y2="425.3" stroke="#f3f3f3" stroke-width="0.7"/>
<line x1="382.6" y1="385.9" x2="582.8" y2="385.9" stroke="#f3f3f3" stroke-width="0.7"/>
<line x1="382.6" y1="346.5" x2="582.8" y2="346.5" stroke="#f3f3f3" stroke-width="0.7"/>
<line x1="382.6" y1="307.1" x2="582.8" y2="307.1" stroke="#f3f3f3" stroke-width="0.7"/>
<line x1="382.6" y1="267.7" x2="582.8" y2="267.7" stroke="#f3f3f3" stroke-width="0.7"/>
<line x1="391.6" y1="264.4" x2="391.6" y2="459.9" stroke="#ebebeb" stroke-width="1"/>
<line x1="437.08" y1="264.4" x2="437.08" y2="459.9" stroke="#ebebeb" stroke-width="1"/>
<line x1="482.55" y1="264.4" x2="482.55" y2="459.9" stroke="#ebebeb" stroke-width="1"/>
<line x1="528.02" y1="264.4" x2="528.02" y2="459.9" stroke="#ebebeb" stroke-width="1"/>
<line x1="573.5" y1="264.4" x2="573.5" y2="459.9" stroke="#ebebeb" stroke-width="1"/>
<line x1="382.6" y1="445" x2="582.8" y2="445" stroke="#ebebeb" stroke-width="1"/>
<line x1="382.6" y1="405.6" x2="582.8" y2="405.6" stroke="#ebebeb" stroke-width="1"/>
<line x1="382.6" y1="366.2" x2="582.8" y2="366.2" stroke="#ebebeb" stroke-width="1"/>
<line x1="382.6" y1="326.8" x2="582.8" y2="326.8" stroke="#ebebeb" stroke-width="1"/>
<line x1="382.6" y1="287.4" x2="582.8" y2="287.4" stroke="#ebebeb" stroke-width="1"/>
<g clip-path="url(#c1D)">
<path d="M379.6,299.5 381.5,300.7 383.4,301.9 385.3,303.1 387.2,304.3 389.1,305.4 391,306.6 392.8,307.8 394.7,309 396.6,310.2 398.5,311.3 400.4,312.5 402.3,313.7 404.2,314.9 406.1,316 408,317.2 409.9,318.4 411.8,319.5 413.7,320.7 415.5,321.9 417.4,323 419.3,324.2 421.2,325.3 423.1,326.5 425,327.6 426.9,328.8 428.8,329.9 430.7,331.1 432.6,332.2 434.5,333.4 436.4,334.6 438.2,335.8 440.1,337 442,338.2 443.9,339.4 445.8,340.6 447.7,341.9 449.6,343.1 451.5,344.3 453.4,345.6 455.3,346.8 457.2,348 459.1,349.2 460.9,350.4 462.8,351.6 464.7,352.8 466.6,354 468.5,355.2 470.4,356.3 472.3,357.5 474.2,358.7 476.1,359.8 478,361 479.9,362.1 481.8,363.3 483.6,363.9 485.5,364.4 487.4,364.9 489.3,365.4 491.2,366 493.1,366.5 495,367 496.9,367.5 498.8,367.9 500.7,368.4 502.6,368.9 504.5,369.4 506.3,369.8 508.2,370.3 510.1,370.7 512,371.1 513.9,371.6 515.8,372 517.7,372.4 519.6,372.8 521.5,373.2 523.4,373.6 525.3,374 527.2,374.4 529,374.8 530.9,375.1 532.8,375.5 534.7,375.8 536.6,376.1 538.5,376.4 540.4,376.7 542.3,377 544.2,377.3 546.1,377.6 548,377.9 549.9,378.2 551.7,378.5 553.6,378.8 555.5,379.2 557.4,379.6 559.3,379.9 561.2,380.3 563.1,380.6 565,380.9 566.9,381.3 568.8,381.6 570.7,382 572.6,382.3 574.4,382.7 576.3,383 578.2,383.3 580.1,383.7 582,384.1 583.9,384.4 585.8,384.8 L585.8,404.8 583.9,404.2 582,403.7 580.1,403.1 578.2,402.5 576.3,401.9 574.4,401.2 572.6,400.6 570.7,400 568.8,399.4 566.9,398.7 565,398.1 563.1,397.4 561.2,396.7 559.3,396.1 557.4,395.4 555.5,394.7 553.6,394 551.7,393.3 549.9,392.6 548,391.8 546.1,391.1 544.2,390.4 542.3,389.6 540.4,388.9 538.5,388.1 536.6,387.3 534.7,386.6 532.8,385.8 530.9,385.1 529,384.3 527.2,383.6 525.3,382.8 523.4,382.1 521.5,381.3 519.6,380.6 517.7,379.8 515.8,379 513.9,378.3 512,377.5 510.1,376.7 508.2,376 506.3,375.2 504.5,374.4 502.6,373.6 500.7,372.8 498.8,372 496.9,371.2 495,370.5 493.1,369.7 491.2,368.9 489.3,368.1 487.4,367.3 485.5,366.5 483.6,365.7 481.8,364.9 479.9,364.3 478,363.7 476.1,363.2 474.2,362.6 472.3,362 470.4,361.5 468.5,360.9 466.6,360.4 464.7,359.9 462.8,359.4 460.9,358.8 459.1,358.3 457.2,357.8 455.3,357.3 453.4,356.9 451.5,356.4 449.6,355.9 447.7,355.4 445.8,354.9 443.9,354.4 442,353.9 440.1,353.5 438.2,353 436.4,352.5 434.5,352 432.6,351.6 430.7,351.2 428.8,350.7 426.9,350.3 425,349.9 423.1,349.6 421.2,349.2 419.3,348.9 417.4,348.5 415.5,348.2 413.7,347.9 411.8,347.6 409.9,347.3 408,347 406.1,346.7 404.2,346.4 402.3,346.2 400.4,345.9 398.5,345.7 396.6,345.5 394.7,345.2 392.8,345 391,344.8 389.1,344.6 387.2,344.4 385.3,344.3 383.4,344.1 381.5,343.9 379.6,343.7Z" fill="#3b6fb6" fill-opacity="0.15"/>
<path d="M379.6,334.8 381.5,335.1 383.4,335.4 385.3,335.8 387.2,336.1 389.1,336.4 391,336.8 392.8,337.2 394.7,337.6 396.6,338 398.5,338.4 400.4,338.8 402.3,339.2 404.2,339.6 406.1,340.1 408,340.5 409.9,341 411.8,341.5 413.7,341.9 415.5,342.4 417.4,342.9 419.3,343.4 421.2,343.9 423.1,344.4 425,344.9 426.9,345.4 428.8,346 430.7,346.5 432.6,347 434.5,347.5 436.4,348.1 438.2,348.6 440.1,349.2 442,349.7 443.9,350.3 445.8,350.9 447.7,351.5 449.6,352.2 451.5,352.8 453.4,353.5 455.3,354.2 457.2,354.8 459.1,355.5 460.9,356.3 462.8,357 464.7,357.7 466.6,358.5 468.5,359.2 470.4,360 472.3,360.7 474.2,361.5 476.1,362.3 478,363.1 479.9,363.9 481.8,364.7 483.6,364.8 485.5,364.8 487.4,364.8 489.3,364.8 491.2,364.8 493.1,364.7 495,364.7 496.9,364.7 498.8,364.7 500.7,364.6 502.6,364.6 504.5,364.6 506.3,364.5 508.2,364.5 510.1,364.4 512,364.4 513.9,364.3 515.8,364.3 517.7,364.2 519.6,364.1 521.5,364.1 523.4,364 525.3,363.9 527.2,363.9 529,363.8 530.9,363.7 532.8,363.6 534.7,363.5 536.6,363.4 538.5,363.3 540.4,363.2 542.3,363.1 544.2,363 546.1,362.9 548,362.8 549.9,362.6 551.7,362.5 553.6,362.4 555.5,362.3 557.4,362.1 559.3,362 561.2,361.9 563.1,361.7 565,361.6 566.9,361.4 568.8,361.3 570.7,361.1 572.6,361 574.4,360.8 576.3,360.7 578.2,360.5 580.1,360.3 582,360.2 583.9,360 585.8,359.8 L585.8,385.3 583.9,385.1 582,384.9 580.1,384.7 578.2,384.5 576.3,384.3 574.4,384.1 572.6,383.8 570.7,383.6 568.8,383.3 566.9,383.1 565,382.8 563.1,382.5 561.2,382.2 559.3,382 557.4,381.7 555.5,381.4 553.6,381.1 551.7,380.8 549.9,380.4 548,380.1 546.1,379.7 544.2,379.4 542.3,379 540.4,378.6 538.5,378.2 536.6,377.8 534.7,377.4 532.8,377.1 530.9,376.7 529,376.3 527.2,375.9 525.3,375.5 523.4,375.1 521.5,374.7 519.6,374.3 517.7,373.9 515.8,373.5 513.9,373.1 512,372.7 510.1,372.3 508.2,371.9 506.3,371.5 504.5,371.1 502.6,370.7 500.7,370.2 498.8,369.8 496.9,369.4 495,369 493.1,368.6 491.2,368.1 489.3,367.7 487.4,367.3 485.5,366.8 483.6,366.4 481.8,366 479.9,366.2 478,366.3 476.1,366.5 474.2,366.6 472.3,366.8 470.4,366.9 468.5,367.1 466.6,367.2 464.7,367.4 462.8,367.5 460.9,367.7 459.1,367.8 457.2,368 455.3,368.2 453.4,368.3 451.5,368.5 449.6,368.6 447.7,368.8 445.8,368.9 443.9,369.1 442,369.2 440.1,369.4 438.2,369.5 436.4,369.7 434.5,369.8 432.6,370 430.7,370.2 428.8,370.3 426.9,370.5 425,370.6 423.1,370.8 421.2,370.9 419.3,371.1 417.4,371.2 415.5,371.4 413.7,371.6 411.8,371.7 409.9,371.9 408,372.1 406.1,372.3 404.2,372.5 402.3,372.6 400.4,372.8 398.5,373 396.6,373.2 394.7,373.4 392.8,373.6 391,373.8 389.1,374 387.2,374.2 385.3,374.4 383.4,374.6 381.5,374.8 379.6,375Z" fill="#e8202a" fill-opacity="0.13"/>
<path d="M379.6,321 381.5,321.9 383.4,322.8 385.3,323.6 387.2,324.5 389.1,325.4 391,326.3 392.8,327.1 394.7,328 396.6,328.9 398.5,329.7 400.4,330.6 402.3,331.5 404.2,332.3 406.1,333.2 408,334 409.9,334.8 411.8,335.7 413.7,336.5 415.5,337.3 417.4,338.2 419.3,339 421.2,339.8 423.1,340.6 425,341.4 426.9,342.3 428.8,343.1 430.7,343.9 432.6,344.7 434.5,345.5 436.4,346.3 438.2,347 440.1,347.8 442,348.6 443.9,349.4 445.8,350.2 447.7,350.9 449.6,351.7 451.5,352.4 453.4,353.2 455.3,354 457.2,354.7 459.1,355.4 460.9,356.2 462.8,356.9 464.7,357.6 466.6,358.4 468.5,359.1 470.4,359.8 472.3,360.5 474.2,361.2 476.1,361.9 478,362.6 479.9,363.3 481.8,364 483.6,364.7 485.5,365.4 487.4,366 489.3,366.7 491.2,367.4 493.1,368 495,368.7 496.9,369.3 498.8,370 500.7,370.6 502.6,371.2 504.5,371.9 506.3,372.5 508.2,373.1 510.1,373.7 512,374.3 513.9,374.9 515.8,375.5 517.7,376.1 519.6,376.7 521.5,377.3 523.4,377.9 525.3,378.4 527.2,379 529,379.5 530.9,380.1 532.8,380.6 534.7,381.2 536.6,381.7 538.5,382.2 540.4,382.8 542.3,383.3 544.2,383.8 546.1,384.3 548,384.8 549.9,385.3 551.7,385.8 553.6,386.2 555.5,386.7 557.4,387.2 559.3,387.6 561.2,388.1 563.1,388.5 565,389 566.9,389.4 568.8,389.9 570.7,390.3 572.6,390.7 574.4,391.1 576.3,391.5 578.2,391.9 580.1,392.3 582,392.7 583.9,393 585.8,393.4" fill="none" stroke="#1b4d89" stroke-width="2.05" stroke-linejoin="round"/>
<path d="M379.6,355.4 381.5,355.6 383.4,355.8 385.3,356 387.2,356.2 389.1,356.4 391,356.6 392.8,356.8 394.7,357 396.6,357.2 398.5,357.4 400.4,357.6 402.3,357.8 404.2,358 406.1,358.2 408,358.3 409.9,358.5 411.8,358.7 413.7,358.9 415.5,359.1 417.4,359.3 419.3,359.5 421.2,359.7 423.1,359.9 425,360.1 426.9,360.3 428.8,360.4 430.7,360.6 432.6,360.8 434.5,361 436.4,361.2 438.2,361.4 440.1,361.6 442,361.8 443.9,361.9 445.8,362.1 447.7,362.3 449.6,362.5 451.5,362.7 453.4,362.8 455.3,363 457.2,363.2 459.1,363.4 460.9,363.6 462.8,363.7 464.7,363.9 466.6,364.1 468.5,364.3 470.4,364.4 472.3,364.6 474.2,364.8 476.1,365 478,365.1 479.9,365.3 481.8,365.5 483.6,365.6 485.5,365.8 487.4,366 489.3,366.2 491.2,366.3 493.1,366.5 495,366.7 496.9,366.8 498.8,367 500.7,367.1 502.6,367.3 504.5,367.5 506.3,367.6 508.2,367.8 510.1,367.9 512,368.1 513.9,368.3 515.8,368.4 517.7,368.6 519.6,368.7 521.5,368.9 523.4,369 525.3,369.2 527.2,369.3 529,369.5 530.9,369.6 532.8,369.8 534.7,369.9 536.6,370.1 538.5,370.2 540.4,370.4 542.3,370.5 544.2,370.6 546.1,370.8 548,370.9 549.9,371.1 551.7,371.2 553.6,371.3 555.5,371.5 557.4,371.6 559.3,371.7 561.2,371.9 563.1,372 565,372.1 566.9,372.3 568.8,372.4 570.7,372.5 572.6,372.6 574.4,372.8 576.3,372.9 578.2,373 580.1,373.1 582,373.3 583.9,373.4 585.8,373.5" fill="none" stroke="#d4161c" stroke-width="2.05" stroke-linejoin="round"/>
</g>
<rect x="382.6" y="264.4" width="200.2" height="195.5" fill="none" stroke="#969696" stroke-width="1.05"/>
<line x1="380" y1="445" x2="382.6" y2="445" stroke="#4a4a4a" stroke-width="1.15"/>
<text x="377.9" y="448.5" class="tk" text-anchor="end">0.6</text>
<line x1="380" y1="405.6" x2="382.6" y2="405.6" stroke="#4a4a4a" stroke-width="1.15"/>
<text x="377.9" y="409.1" class="tk" text-anchor="end">0.8</text>
<line x1="380" y1="366.2" x2="382.6" y2="366.2" stroke="#4a4a4a" stroke-width="1.15"/>
<text x="377.9" y="369.7" class="tk" text-anchor="end">1.0</text>
<line x1="380" y1="326.8" x2="382.6" y2="326.8" stroke="#4a4a4a" stroke-width="1.15"/>
<text x="377.9" y="330.3" class="tk" text-anchor="end">1.2</text>
<line x1="380" y1="287.4" x2="382.6" y2="287.4" stroke="#4a4a4a" stroke-width="1.15"/>
<text x="377.9" y="290.9" class="tk" text-anchor="end">1.4</text>
<line x1="391.6" y1="459.9" x2="391.6" y2="462.5" stroke="#4a4a4a" stroke-width="1.15"/>
<text x="391.6" y="471.9" class="tk" text-anchor="middle">300</text>
<line x1="437.08" y1="459.9" x2="437.08" y2="462.5" stroke="#4a4a4a" stroke-width="1.15"/>
<text x="437.08" y="471.9" class="tk" text-anchor="middle">360</text>
<line x1="482.55" y1="459.9" x2="482.55" y2="462.5" stroke="#4a4a4a" stroke-width="1.15"/>
<text x="482.55" y="471.9" class="tk" text-anchor="middle">420</text>
<line x1="528.02" y1="459.9" x2="528.02" y2="462.5" stroke="#4a4a4a" stroke-width="1.15"/>
<text x="528.02" y="471.9" class="tk" text-anchor="middle">480</text>
<line x1="573.5" y1="459.9" x2="573.5" y2="462.5" stroke="#4a4a4a" stroke-width="1.15"/>
<text x="573.5" y="471.9" class="tk" text-anchor="middle">540</text>
<text x="482.7" y="484.9" class="at" text-anchor="middle">Sleep (min/day)</text>
<text transform="translate(360,362.15) rotate(-90)" class="at" text-anchor="middle">HR (95%CI)</text>
<text x="482.7" y="296.7" class="pt" text-anchor="middle">P for interaction: 0.025</text>
<text x="351.4" y="257" class="lt">D</text>
<text x="597.7" y="348.25" class="lg">Group</text>
<rect x="598" y="355.15" width="14.2" height="13.8" fill="#3b6fb6" fill-opacity="0.15"/>
<line x1="598.8" y1="362.05" x2="611.4" y2="362.05" stroke="#1b4d89" stroke-width="1.9"/>
<text x="618" y="365.55" class="lg">Chronic pain</text>
<rect x="598" y="370.15" width="14.2" height="13.8" fill="#e8202a" fill-opacity="0.13"/>
<line x1="598.8" y1="377.05" x2="611.4" y2="377.05" stroke="#d4161c" stroke-width="1.9"/>
<text x="618" y="380.55" class="lg">No chronic pain</text>
<line x1="34.5" y1="761.48" x2="234.7" y2="761.48" stroke="#f3f3f3" stroke-width="0.7"/>
<line x1="34.5" y1="738.62" x2="234.7" y2="738.62" stroke="#f3f3f3" stroke-width="0.7"/>
<line x1="34.5" y1="715.77" x2="234.7" y2="715.77" stroke="#f3f3f3" stroke-width="0.7"/>
<line x1="34.5" y1="692.92" x2="234.7" y2="692.92" stroke="#f3f3f3" stroke-width="0.7"/>
<line x1="34.5" y1="670.08" x2="234.7" y2="670.08" stroke="#f3f3f3" stroke-width="0.7"/>
<line x1="34.5" y1="647.23" x2="234.7" y2="647.23" stroke="#f3f3f3" stroke-width="0.7"/>
<line x1="34.5" y1="624.38" x2="234.7" y2="624.38" stroke="#f3f3f3" stroke-width="0.7"/>
<line x1="34.5" y1="601.53" x2="234.7" y2="601.53" stroke="#f3f3f3" stroke-width="0.7"/>
<line x1="34.5" y1="578.67" x2="234.7" y2="578.67" stroke="#f3f3f3" stroke-width="0.7"/>
<line x1="43.5" y1="577.7" x2="43.5" y2="773.6" stroke="#ebebeb" stroke-width="1"/>
<line x1="89.15" y1="577.7" x2="89.15" y2="773.6" stroke="#ebebeb" stroke-width="1"/>
<line x1="134.8" y1="577.7" x2="134.8" y2="773.6" stroke="#ebebeb" stroke-width="1"/>
<line x1="180.45" y1="577.7" x2="180.45" y2="773.6" stroke="#ebebeb" stroke-width="1"/>
<line x1="226.1" y1="577.7" x2="226.1" y2="773.6" stroke="#ebebeb" stroke-width="1"/>
<line x1="34.5" y1="772.9" x2="234.7" y2="772.9" stroke="#ebebeb" stroke-width="1"/>
<line x1="34.5" y1="750.05" x2="234.7" y2="750.05" stroke="#ebebeb" stroke-width="1"/>
<line x1="34.5" y1="727.2" x2="234.7" y2="727.2" stroke="#ebebeb" stroke-width="1"/>
<line x1="34.5" y1="704.35" x2="234.7" y2="704.35" stroke="#ebebeb" stroke-width="1"/>
<line x1="34.5" y1="681.5" x2="234.7" y2="681.5" stroke="#ebebeb" stroke-width="1"/>
<line x1="34.5" y1="658.65" x2="234.7" y2="658.65" stroke="#ebebeb" stroke-width="1"/>
<line x1="34.5" y1="635.8" x2="234.7" y2="635.8" stroke="#ebebeb" stroke-width="1"/>
<line x1="34.5" y1="612.95" x2="234.7" y2="612.95" stroke="#ebebeb" stroke-width="1"/>
<line x1="34.5" y1="590.1" x2="234.7" y2="590.1" stroke="#ebebeb" stroke-width="1"/>
<g clip-path="url(#c2A)">
<path d="M31.5,571.2 33.4,580.2 35.3,588.6 37.2,596.3 39.1,603.5 41,610.1 42.9,616.2 44.7,621.8 46.6,626.9 48.5,631.6 50.4,636 52.3,640.1 54.2,644 56.1,647.6 58,650.9 59.9,654.1 61.8,657.1 63.7,659.9 65.6,662.6 67.4,665.1 69.3,667.5 71.2,669.8 73.1,671.9 75,673.9 76.9,675.8 78.8,677.6 80.7,679.4 82.6,681.1 84.5,682.7 86.4,684.3 88.3,685.7 90.1,687.1 92,688.3 93.9,689.4 95.8,690.5 97.7,691.5 99.6,692.5 101.5,693.5 103.4,694.4 105.3,695.3 107.2,696.2 109.1,697.1 111,697.9 112.8,698.7 114.7,699.6 116.6,700.3 118.5,701.1 120.4,701.9 122.3,702.6 124.2,703.3 126.1,704 128,704.7 129.9,705.4 131.8,706 133.7,706.7 135.5,707.3 137.4,707.8 139.3,708.3 141.2,708.8 143.1,709.3 145,709.7 146.9,710.2 148.8,710.7 150.7,711.1 152.6,711.6 154.5,712 156.4,712.4 158.2,712.8 160.1,713.3 162,713.7 163.9,714.1 165.8,714.5 167.7,714.9 169.6,715.3 171.5,715.6 173.4,716 175.3,716.4 177.2,716.8 179.1,717.1 180.9,717.5 182.8,717.9 184.7,718.2 186.6,718.6 188.5,719 190.4,719.3 192.3,719.6 194.2,720 196.1,720.3 198,720.6 199.9,721 201.8,721.3 203.6,721.6 205.5,721.9 207.4,722.3 209.3,722.6 211.2,722.9 213.1,723.2 215,723.5 216.9,723.8 218.8,724.1 220.7,724.4 222.6,724.7 224.5,725 226.3,725.3 228.2,725.6 230.1,725.9 232,726.2 233.9,726.5 235.8,726.8 237.7,727.1 L237.7,738.1 235.8,737.8 233.9,737.5 232,737.1 230.1,736.8 228.2,736.4 226.3,736 224.5,735.7 222.6,735.3 220.7,734.9 218.8,734.5 216.9,734.2 215,733.8 213.1,733.4 211.2,733 209.3,732.5 207.4,732.1 205.5,731.7 203.6,731.3 201.8,730.9 199.9,730.4 198,730 196.1,729.5 194.2,729.1 192.3,728.6 190.4,728.2 188.5,727.7 186.6,727.2 184.7,726.8 182.8,726.3 180.9,725.8 179.1,725.3 177.2,724.8 175.3,724.3 173.4,723.7 171.5,723.2 169.6,722.7 167.7,722.1 165.8,721.6 163.9,721 162,720.4 160.1,719.8 158.2,719.2 156.4,718.6 154.5,718 152.6,717.4 150.7,716.7 148.8,716.1 146.9,715.4 145,714.8 143.1,714.1 141.2,713.4 139.3,712.7 137.4,712 135.5,711.3 133.7,710.6 131.8,709.9 129.9,709.3 128,708.6 126.1,707.9 124.2,707.2 122.3,706.5 120.4,705.8 118.5,705 116.6,704.3 114.7,703.5 112.8,702.7 111,701.9 109.1,701.1 107.2,700.2 105.3,699.3 103.4,698.4 101.5,697.5 99.6,696.6 97.7,695.6 95.8,694.6 93.9,693.6 92,692.5 90.1,691.6 88.3,690.6 86.4,689.7 84.5,688.8 82.6,687.9 80.7,687 78.8,686 76.9,685.1 75,684 73.1,682.9 71.2,681.8 69.3,680.8 67.4,679.7 65.6,678.5 63.7,677.4 61.8,676.2 59.9,674.9 58,673.6 56.1,672.2 54.2,670.8 52.3,669.3 50.4,667.7 48.5,666.1 46.6,664.3 44.7,662.4 42.9,660.4 41,658.3 39.1,656 37.2,653.4 35.3,650.5 33.4,647.1 31.5,643.2Z" fill="#3b6fb6" fill-opacity="0.15"/>
<path d="M31.5,537.3 33.4,545.9 35.3,553.9 37.2,561.3 39.1,568 41,573.7 42.9,579 44.7,584.1 46.6,588.9 48.5,593.4 50.4,597.6 52.3,601.8 54.2,607.4 56.1,613.9 58,620.2 59.9,626 61.8,631.7 63.7,636.9 65.6,641.1 67.4,644.8 69.3,648.1 71.2,651.2 73.1,653.8 75,656.2 76.9,658.4 78.8,660.5 80.7,662.5 82.6,664.4 84.5,666.3 86.4,668 88.3,669.6 90.1,671.2 92,672.7 93.9,674.2 95.8,675.7 97.7,677.2 99.6,678.7 101.5,680.2 103.4,681.7 105.3,683.2 107.2,684.6 109.1,686.1 111,687.5 112.8,688.9 114.7,690.3 116.6,691.7 118.5,693 120.4,694.3 122.3,695.6 124.2,696.8 126.1,698 128,699.1 129.9,700.2 131.8,701.2 133.7,702.1 135.5,703 137.4,703.8 139.3,704.7 141.2,705.5 143.1,706.3 145,707.1 146.9,707.9 148.8,708.6 150.7,709.4 152.6,710.1 154.5,710.8 156.4,711.5 158.2,712.2 160.1,712.9 162,713.6 163.9,714.2 165.8,714.8 167.7,715.5 169.6,716.1 171.5,716.7 173.4,717.3 175.3,717.8 177.2,718.4 179.1,718.9 180.9,719.5 182.8,720 184.7,720.5 186.6,721 188.5,721.5 190.4,722 192.3,722.5 194.2,723 196.1,723.4 198,723.9 199.9,724.3 201.8,724.7 203.6,725.2 205.5,725.6 207.4,726 209.3,726.4 211.2,726.8 213.1,727.1 215,727.5 216.9,727.9 218.8,728.2 220.7,728.6 222.6,728.9 224.5,729.2 226.3,729.6 228.2,729.9 230.1,730.2 232,730.5 233.9,730.8 235.8,731.1 237.7,731.4 L237.7,738.7 235.8,738.3 233.9,737.9 232,737.5 230.1,737.1 228.2,736.6 226.3,736.2 224.5,735.8 222.6,735.3 220.7,734.9 218.8,734.4 216.9,734 215,733.5 213.1,733.1 211.2,732.6 209.3,732.2 207.4,731.7 205.5,731.2 203.6,730.7 201.8,730.3 199.9,729.8 198,729.3 196.1,728.8 194.2,728.3 192.3,727.8 190.4,727.3 188.5,726.8 186.6,726.3 184.7,725.7 182.8,725.2 180.9,724.7 179.1,724.1 177.2,723.6 175.3,723 173.4,722.5 171.5,721.9 169.6,721.3 167.7,720.7 165.8,720.1 163.9,719.5 162,718.9 160.1,718.3 158.2,717.7 156.4,717 154.5,716.4 152.6,715.7 150.7,715 148.8,714.3 146.9,713.6 145,712.9 143.1,712.2 141.2,711.5 139.3,710.7 137.4,709.9 135.5,709.1 133.7,708.3 131.8,707.6 129.9,706.8 128,706.1 126.1,705.3 124.2,704.6 122.3,703.9 120.4,703.2 118.5,702.4 116.6,701.7 114.7,700.9 112.8,700.1 111,699.3 109.1,698.4 107.2,697.5 105.3,696.6 103.4,695.6 101.5,694.5 99.6,693.4 97.7,692.2 95.8,690.9 93.9,689.6 92,688.1 90.1,686.6 88.3,685.1 86.4,683.5 84.5,681.9 82.6,680.3 80.7,678.6 78.8,676.9 76.9,675.2 75,673.4 73.1,671.5 71.2,669.8 69.3,668.2 67.4,666.7 65.6,665.2 63.7,663.9 61.8,663.2 59.9,662.6 58,661.7 56.1,660.9 54.2,659.8 52.3,657.6 50.4,653.8 48.5,649.7 46.6,645.1 44.7,640.1 42.9,634.6 41,628.6 39.1,621.9 37.2,615.1 35.3,607.8 33.4,599.9 31.5,591.3Z" fill="#e8202a" fill-opacity="0.13"/>
<path d="M31.5,610.3 33.4,616.4 35.3,622 37.2,627 39.1,631.6 41,635.8 42.9,639.7 44.7,643.3 46.6,646.6 48.5,649.7 50.4,652.6 52.3,655.4 54.2,657.9 56.1,660.4 58,662.7 59.9,664.9 61.8,666.9 63.7,668.9 65.6,670.8 67.4,672.6 69.3,674.3 71.2,675.9 73.1,677.5 75,679 76.9,680.5 78.8,681.9 80.7,683.2 82.6,684.5 84.5,685.8 86.4,687 88.3,688.2 90.1,689.3 92,690.4 93.9,691.5 95.8,692.6 97.7,693.6 99.6,694.6 101.5,695.5 103.4,696.4 105.3,697.3 107.2,698.2 109.1,699.1 111,699.9 112.8,700.7 114.7,701.5 116.6,702.3 118.5,703.1 120.4,703.8 122.3,704.6 124.2,705.3 126.1,706 128,706.7 129.9,707.3 131.8,708 133.7,708.6 135.5,709.3 137.4,709.9 139.3,710.5 141.2,711.1 143.1,711.7 145,712.3 146.9,712.9 148.8,713.4 150.7,714 152.6,714.5 154.5,715 156.4,715.6 158.2,716.1 160.1,716.6 162,717.1 163.9,717.6 165.8,718.1 167.7,718.6 169.6,719 171.5,719.5 173.4,720 175.3,720.4 177.2,720.9 179.1,721.3 180.9,721.7 182.8,722.2 184.7,722.6 186.6,723 188.5,723.4 190.4,723.8 192.3,724.2 194.2,724.6 196.1,725 198,725.4 199.9,725.8 201.8,726.2 203.6,726.6 205.5,727 207.4,727.3 209.3,727.7 211.2,728.1 213.1,728.4 215,728.8 216.9,729.1 218.8,729.5 220.7,729.8 222.6,730.2 224.5,730.5 226.3,730.8 228.2,731.2 230.1,731.5 232,731.8 233.9,732.2 235.8,732.5 237.7,732.8" fill="none" stroke="#1b4d89" stroke-width="2.05" stroke-linejoin="round"/>
<path d="M31.5,565.8 33.4,574.4 35.3,582.4 37.2,589.8 39.1,596.6 41,602.9 42.9,608.7 44.7,614 46.6,619 48.5,623.6 50.4,627.8 52.3,631.8 54.2,635.5 56.1,638.9 58,642.2 59.9,645.3 61.8,648.2 63.7,651 65.6,653.6 67.4,656.1 69.3,658.5 71.2,660.8 73.1,662.9 75,665 76.9,667 78.8,669 80.7,670.8 82.6,672.6 84.5,674.3 86.4,676 88.3,677.6 90.1,679.1 92,680.7 93.9,682.1 95.8,683.5 97.7,684.9 99.6,686.2 101.5,687.6 103.4,688.8 105.3,690 107.2,691.2 109.1,692.4 111,693.6 112.8,694.7 114.7,695.7 116.6,696.8 118.5,697.8 120.4,698.8 122.3,699.8 124.2,700.8 126.1,701.7 128,702.6 129.9,703.5 131.8,704.4 133.7,705.3 135.5,706.1 137.4,706.9 139.3,707.7 141.2,708.5 143.1,709.3 145,710.1 146.9,710.8 148.8,711.5 150.7,712.3 152.6,713 154.5,713.6 156.4,714.3 158.2,715 160.1,715.6 162,716.3 163.9,716.9 165.8,717.5 167.7,718.1 169.6,718.7 171.5,719.3 173.4,719.9 175.3,720.5 177.2,721 179.1,721.6 180.9,722.1 182.8,722.6 184.7,723.2 186.6,723.7 188.5,724.2 190.4,724.7 192.3,725.2 194.2,725.7 196.1,726.2 198,726.6 199.9,727.1 201.8,727.5 203.6,728 205.5,728.4 207.4,728.9 209.3,729.3 211.2,729.7 213.1,730.2 215,730.6 216.9,731 218.8,731.4 220.7,731.8 222.6,732.2 224.5,732.6 226.3,732.9 228.2,733.3 230.1,733.7 232,734.1 233.9,734.4 235.8,734.8 237.7,735.1" fill="none" stroke="#d4161c" stroke-width="2.05" stroke-linejoin="round"/>
</g>
<rect x="34.5" y="577.7" width="200.2" height="195.9" fill="none" stroke="#969696" stroke-width="1.05"/>
<line x1="31.9" y1="772.9" x2="34.5" y2="772.9" stroke="#4a4a4a" stroke-width="1.15"/>
<text x="29.8" y="776.4" class="tk" text-anchor="end">0.4</text>
<line x1="31.9" y1="750.05" x2="34.5" y2="750.05" stroke="#4a4a4a" stroke-width="1.15"/>
<text x="29.8" y="753.55" class="tk" text-anchor="end">0.6</text>
<line x1="31.9" y1="727.2" x2="34.5" y2="727.2" stroke="#4a4a4a" stroke-width="1.15"/>
<text x="29.8" y="730.7" class="tk" text-anchor="end">0.8</text>
<line x1="31.9" y1="704.35" x2="34.5" y2="704.35" stroke="#4a4a4a" stroke-width="1.15"/>
<text x="29.8" y="707.85" class="tk" text-anchor="end">1.0</text>
<line x1="31.9" y1="681.5" x2="34.5" y2="681.5" stroke="#4a4a4a" stroke-width="1.15"/>
<text x="29.8" y="685" class="tk" text-anchor="end">1.2</text>
<line x1="31.9" y1="658.65" x2="34.5" y2="658.65" stroke="#4a4a4a" stroke-width="1.15"/>
<text x="29.8" y="662.15" class="tk" text-anchor="end">1.4</text>
<line x1="31.9" y1="635.8" x2="34.5" y2="635.8" stroke="#4a4a4a" stroke-width="1.15"/>
<text x="29.8" y="639.3" class="tk" text-anchor="end">1.6</text>
<line x1="31.9" y1="612.95" x2="34.5" y2="612.95" stroke="#4a4a4a" stroke-width="1.15"/>
<text x="29.8" y="616.45" class="tk" text-anchor="end">1.8</text>
<line x1="31.9" y1="590.1" x2="34.5" y2="590.1" stroke="#4a4a4a" stroke-width="1.15"/>
<text x="29.8" y="593.6" class="tk" text-anchor="end">2.0</text>
<line x1="43.5" y1="773.6" x2="43.5" y2="776.2" stroke="#4a4a4a" stroke-width="1.15"/>
<text x="43.5" y="785.6" class="tk" text-anchor="middle">20</text>
<line x1="89.15" y1="773.6" x2="89.15" y2="776.2" stroke="#4a4a4a" stroke-width="1.15"/>
<text x="89.15" y="785.6" class="tk" text-anchor="middle">45</text>
<line x1="134.8" y1="773.6" x2="134.8" y2="776.2" stroke="#4a4a4a" stroke-width="1.15"/>
<text x="134.8" y="785.6" class="tk" text-anchor="middle">70</text>
<line x1="180.45" y1="773.6" x2="180.45" y2="776.2" stroke="#4a4a4a" stroke-width="1.15"/>
<text x="180.45" y="785.6" class="tk" text-anchor="middle">95</text>
<line x1="226.1" y1="773.6" x2="226.1" y2="776.2" stroke="#4a4a4a" stroke-width="1.15"/>
<text x="226.1" y="785.6" class="tk" text-anchor="middle">120</text>
<text x="134.6" y="798.6" class="at" text-anchor="middle">MVPA (min/day)</text>
<text transform="translate(11.9,675.65) rotate(-90)" class="at" text-anchor="middle">HR (95%CI)</text>
<text x="134.6" y="601.8" class="pt" text-anchor="middle">P for interaction: 0.032</text>
<text x="3.3" y="570.3" class="lt">A</text>
<text x="249.6" y="661.75" class="lg">Group</text>
<rect x="249.9" y="668.65" width="14.2" height="13.8" fill="#3b6fb6" fill-opacity="0.15"/>
<line x1="250.7" y1="675.55" x2="263.3" y2="675.55" stroke="#1b4d89" stroke-width="1.9"/>
<text x="269.9" y="679.05" class="lg">Chronic pain</text>
<rect x="249.9" y="683.65" width="14.2" height="13.8" fill="#e8202a" fill-opacity="0.13"/>
<line x1="250.7" y1="690.55" x2="263.3" y2="690.55" stroke="#d4161c" stroke-width="1.9"/>
<text x="269.9" y="694.05" class="lg">No chronic pain</text>
<line x1="382.6" y1="756.77" x2="582.8" y2="756.77" stroke="#f3f3f3" stroke-width="0.7"/>
<line x1="382.6" y1="726.52" x2="582.8" y2="726.52" stroke="#f3f3f3" stroke-width="0.7"/>
<line x1="382.6" y1="696.27" x2="582.8" y2="696.27" stroke="#f3f3f3" stroke-width="0.7"/>
<line x1="382.6" y1="666.02" x2="582.8" y2="666.02" stroke="#f3f3f3" stroke-width="0.7"/>
<line x1="382.6" y1="635.78" x2="582.8" y2="635.78" stroke="#f3f3f3" stroke-width="0.7"/>
<line x1="382.6" y1="605.52" x2="582.8" y2="605.52" stroke="#f3f3f3" stroke-width="0.7"/>
<line x1="391.4" y1="577.6" x2="391.4" y2="773.6" stroke="#ebebeb" stroke-width="1"/>
<line x1="436.98" y1="577.6" x2="436.98" y2="773.6" stroke="#ebebeb" stroke-width="1"/>
<line x1="482.55" y1="577.6" x2="482.55" y2="773.6" stroke="#ebebeb" stroke-width="1"/>
<line x1="528.12" y1="577.6" x2="528.12" y2="773.6" stroke="#ebebeb" stroke-width="1"/>
<line x1="573.7" y1="577.6" x2="573.7" y2="773.6" stroke="#ebebeb" stroke-width="1"/>
<line x1="382.6" y1="771.9" x2="582.8" y2="771.9" stroke="#ebebeb" stroke-width="1"/>
<line x1="382.6" y1="741.65" x2="582.8" y2="741.65" stroke="#ebebeb" stroke-width="1"/>
<line x1="382.6" y1="711.4" x2="582.8" y2="711.4" stroke="#ebebeb" stroke-width="1"/>
<line x1="382.6" y1="681.15" x2="582.8" y2="681.15" stroke="#ebebeb" stroke-width="1"/>
<line x1="382.6" y1="650.9" x2="582.8" y2="650.9" stroke="#ebebeb" stroke-width="1"/>
<line x1="382.6" y1="620.65" x2="582.8" y2="620.65" stroke="#ebebeb" stroke-width="1"/>
<line x1="382.6" y1="590.4" x2="582.8" y2="590.4" stroke="#ebebeb" stroke-width="1"/>
<g clip-path="url(#c2B)">
<path d="M379.6,708.1 381.5,707.7 383.4,707.2 385.3,706.8 387.2,706.3 389.1,705.9 391,705.4 392.8,705 394.7,704.5 396.6,704.1 398.5,703.6 400.4,703.2 402.3,702.7 404.2,702.2 406.1,701.7 408,701.3 409.9,700.8 411.8,700.3 413.7,699.8 415.5,699.3 417.4,698.8 419.3,698.3 421.2,697.7 423.1,697.2 425,696.7 426.9,696.1 428.8,695.6 430.7,695 432.6,694.5 434.5,693.9 436.4,693.4 438.2,692.8 440.1,692.2 442,691.6 443.9,691.1 445.8,690.6 447.7,690 449.6,689.5 451.5,689 453.4,688.5 455.3,687.9 457.2,687.4 459.1,686.9 460.9,686.4 462.8,685.9 464.7,685.4 466.6,684.9 468.5,684.4 470.4,683.8 472.3,682.6 474.2,681.4 476.1,680.2 478,679.1 479.9,677.9 481.8,676.7 483.6,675.5 485.5,674.4 487.4,673.2 489.3,672 491.2,670.8 493.1,669.7 495,668.5 496.9,667.3 498.8,666.2 500.7,665 502.6,663.8 504.5,662.7 506.3,661.5 508.2,660.3 510.1,659.2 512,658 513.9,656.9 515.8,655.8 517.7,654.6 519.6,653.5 521.5,652.3 523.4,651.2 525.3,650.1 527.2,648.9 529,647.8 530.9,646.7 532.8,645.5 534.7,644.4 536.6,643.3 538.5,642.2 540.4,641.1 542.3,640 544.2,638.9 546.1,637.8 548,636.6 549.9,635.5 551.7,634.3 553.6,633.2 555.5,632 557.4,630.7 559.3,629.4 561.2,628.1 563.1,626.8 565,625.4 566.9,624 568.8,622.5 570.7,621.1 572.6,619.6 574.4,618.1 576.3,616.5 578.2,615 580.1,613.4 582,611.9 583.9,610.3 585.8,608.7 L585.8,651.1 583.9,651.2 582,651.3 580.1,651.5 578.2,651.6 576.3,651.8 574.4,652 572.6,652.2 570.7,652.5 568.8,652.8 566.9,653.1 565,653.4 563.1,653.8 561.2,654.2 559.3,654.6 557.4,655.1 555.5,655.6 553.6,656.1 551.7,656.6 549.9,657.2 548,657.8 546.1,658.5 544.2,659.1 542.3,659.8 540.4,660.5 538.5,661.1 536.6,661.8 534.7,662.5 532.8,663.1 530.9,663.8 529,664.4 527.2,665 525.3,665.6 523.4,666.1 521.5,666.6 519.6,667.1 517.7,667.7 515.8,668.2 513.9,668.7 512,669.3 510.1,669.8 508.2,670.4 506.3,671.1 504.5,671.8 502.6,672.5 500.7,673.3 498.8,674 496.9,674.7 495,675.5 493.1,676.2 491.2,677 489.3,677.7 487.4,678.5 485.5,679.3 483.6,680.1 481.8,680.9 479.9,681.7 478,682.5 476.1,683.3 474.2,684.1 472.3,685 470.4,685.8 468.5,686.9 466.6,688 464.7,689.2 462.8,690.3 460.9,691.4 459.1,692.5 457.2,693.6 455.3,694.7 453.4,695.8 451.5,696.8 449.6,697.9 447.7,698.9 445.8,699.9 443.9,700.9 442,701.9 440.1,702.9 438.2,703.8 436.4,704.8 434.5,705.7 432.6,706.6 430.7,707.5 428.8,708.4 426.9,709.3 425,710.2 423.1,711 421.2,711.9 419.3,712.7 417.4,713.6 415.5,714.4 413.7,715.2 411.8,716 409.9,716.7 408,717.5 406.1,718.2 404.2,719 402.3,719.7 400.4,720.4 398.5,721.1 396.6,721.7 394.7,722.4 392.8,723 391,723.6 389.1,724.2 387.2,724.8 385.3,725.3 383.4,725.9 381.5,726.4 379.6,726.9Z" fill="#3b6fb6" fill-opacity="0.15"/>
<path d="M379.6,712.4 381.5,711.8 383.4,711.3 385.3,710.7 387.2,710.1 389.1,709.6 391,709 392.8,708.4 394.7,707.8 396.6,707.2 398.5,706.6 400.4,705.9 402.3,705.3 404.2,704.7 406.1,704 408,703.4 409.9,702.8 411.8,702.1 413.7,701.4 415.5,700.8 417.4,700.1 419.3,699.4 421.2,698.7 423.1,698 425,697.3 426.9,696.6 428.8,695.9 430.7,695.2 432.6,694.5 434.5,693.8 436.4,693 438.2,692.3 440.1,691.6 442,691 443.9,690.4 445.8,689.8 447.7,689.3 449.6,688.8 451.5,688.3 453.4,687.9 455.3,687.5 457.2,687.1 459.1,686.7 460.9,686.3 462.8,685.9 464.7,685.6 466.6,685.2 468.5,684.8 470.4,684.2 472.3,682.8 474.2,681.4 476.1,680 478,678.6 479.9,677.2 481.8,675.8 483.6,674.4 485.5,672.9 487.4,671.5 489.3,670 491.2,668.6 493.1,667.1 495,665.6 496.9,664.2 498.8,662.7 500.7,661.2 502.6,659.7 504.5,658.2 506.3,656.6 508.2,655.1 510.1,653.6 512,652.1 513.9,650.6 515.8,649 517.7,647.5 519.6,645.9 521.5,644.4 523.4,642.8 525.3,641.2 527.2,639.5 529,637.9 530.9,636.2 532.8,634.4 534.7,632.6 536.6,630.8 538.5,628.9 540.4,627.1 542.3,625.2 544.2,623.3 546.1,621.5 548,619.7 549.9,617.9 551.7,616.2 553.6,614.5 555.5,613 557.4,611.4 559.3,609.9 561.2,608.3 563.1,606.8 565,605.3 566.9,603.8 568.8,602.4 570.7,600.9 572.6,599.5 574.4,598.1 576.3,596.7 578.2,595.3 580.1,594 582,592.7 583.9,591.5 585.8,590.2 L585.8,643.4 583.9,643.8 582,644.2 580.1,644.6 578.2,645 576.3,645.4 574.4,645.8 572.6,646.3 570.7,646.8 568.8,647.2 566.9,647.7 565,648.3 563.1,648.8 561.2,649.4 559.3,649.9 557.4,650.5 555.5,651.1 553.6,651.8 551.7,652.4 549.9,653.1 548,653.7 546.1,654.4 544.2,655.1 542.3,655.9 540.4,656.6 538.5,657.3 536.6,658 534.7,658.7 532.8,659.5 530.9,660.2 529,660.9 527.2,661.6 525.3,662.2 523.4,662.9 521.5,663.5 519.6,664.2 517.7,664.8 515.8,665.4 513.9,666.1 512,666.8 510.1,667.5 508.2,668.2 506.3,669 504.5,669.8 502.6,670.6 500.7,671.4 498.8,672.2 496.9,673.1 495,673.9 493.1,674.7 491.2,675.6 489.3,676.4 487.4,677.3 485.5,678.1 483.6,679 481.8,679.8 479.9,680.7 478,681.6 476.1,682.5 474.2,683.4 472.3,684.4 470.4,685.3 468.5,686.4 466.6,687.6 464.7,688.8 462.8,690 460.9,691.2 459.1,692.4 457.2,693.5 455.3,694.7 453.4,695.8 451.5,696.9 449.6,698.1 447.7,699.2 445.8,700.3 443.9,701.4 442,702.4 440.1,703.5 438.2,704.6 436.4,705.6 434.5,706.7 432.6,707.7 430.7,708.7 428.8,709.8 426.9,710.8 425,711.8 423.1,712.8 421.2,713.7 419.3,714.7 417.4,715.7 415.5,716.6 413.7,717.5 411.8,718.5 409.9,719.4 408,720.3 406.1,721.2 404.2,722 402.3,722.9 400.4,723.8 398.5,724.6 396.6,725.4 394.7,726.2 392.8,727.1 391,727.8 389.1,728.6 387.2,729.4 385.3,730.2 383.4,730.9 381.5,731.6 379.6,732.3Z" fill="#e8202a" fill-opacity="0.13"/>
<path d="M379.6,717.6 381.5,717.1 383.4,716.7 385.3,716.2 387.2,715.7 389.1,715.2 391,714.7 392.8,714.2 394.7,713.7 396.6,713.1 398.5,712.6 400.4,712 402.3,711.4 404.2,710.8 406.1,710.2 408,709.6 409.9,709 411.8,708.4 413.7,707.7 415.5,707.1 417.4,706.4 419.3,705.7 421.2,705 423.1,704.3 425,703.6 426.9,702.9 428.8,702.2 430.7,701.5 432.6,700.7 434.5,700 436.4,699.2 438.2,698.5 440.1,697.7 442,696.9 443.9,696.1 445.8,695.3 447.7,694.5 449.6,693.7 451.5,692.9 453.4,692.1 455.3,691.3 457.2,690.4 459.1,689.6 460.9,688.8 462.8,687.9 464.7,687.1 466.6,686.2 468.5,685.3 470.4,684.5 472.3,683.6 474.2,682.7 476.1,681.8 478,681 479.9,680.1 481.8,679.2 483.6,678.3 485.5,677.4 487.4,676.5 489.3,675.6 491.2,674.7 493.1,673.8 495,672.8 496.9,671.9 498.8,671 500.7,670.1 502.6,669.2 504.5,668.3 506.3,667.3 508.2,666.4 510.1,665.5 512,664.6 513.9,663.7 515.8,662.7 517.7,661.8 519.6,660.9 521.5,660 523.4,659.1 525.3,658.1 527.2,657.2 529,656.3 530.9,655.4 532.8,654.5 534.7,653.6 536.6,652.6 538.5,651.7 540.4,650.8 542.3,649.9 544.2,649 546.1,648.1 548,647.2 549.9,646.3 551.7,645.5 553.6,644.6 555.5,643.7 557.4,642.8 559.3,641.9 561.2,641.1 563.1,640.2 565,639.4 566.9,638.5 568.8,637.7 570.7,636.8 572.6,636 574.4,635.2 576.3,634.3 578.2,633.5 580.1,632.7 582,631.9 583.9,631.1 585.8,630.3" fill="none" stroke="#1b4d89" stroke-width="2.05" stroke-linejoin="round"/>
<path d="M379.6,721 381.5,720.4 383.4,719.9 385.3,719.3 387.2,718.7 389.1,718.1 391,717.5 392.8,716.9 394.7,716.3 396.6,715.6 398.5,715 400.4,714.3 402.3,713.7 404.2,713 406.1,712.3 408,711.6 409.9,710.9 411.8,710.2 413.7,709.4 415.5,708.7 417.4,707.9 419.3,707.2 421.2,706.4 423.1,705.6 425,704.8 426.9,704 428.8,703.2 430.7,702.4 432.6,701.6 434.5,700.8 436.4,699.9 438.2,699.1 440.1,698.2 442,697.3 443.9,696.5 445.8,695.6 447.7,694.7 449.6,693.8 451.5,692.9 453.4,692 455.3,691 457.2,690.1 459.1,689.2 460.9,688.2 462.8,687.3 464.7,686.3 466.6,685.4 468.5,684.4 470.4,683.4 472.3,682.4 474.2,681.5 476.1,680.5 478,679.5 479.9,678.5 481.8,677.4 483.6,676.4 485.5,675.4 487.4,674.4 489.3,673.3 491.2,672.3 493.1,671.3 495,670.2 496.9,669.2 498.8,668.1 500.7,667 502.6,666 504.5,664.9 506.3,663.8 508.2,662.7 510.1,661.7 512,660.6 513.9,659.5 515.8,658.4 517.7,657.3 519.6,656.2 521.5,655.1 523.4,654 525.3,652.9 527.2,651.8 529,650.6 530.9,649.5 532.8,648.4 534.7,647.3 536.6,646.2 538.5,645 540.4,643.9 542.3,642.8 544.2,641.6 546.1,640.5 548,639.4 549.9,638.2 551.7,637.1 553.6,635.9 555.5,634.8 557.4,633.6 559.3,632.5 561.2,631.4 563.1,630.2 565,629.1 566.9,627.9 568.8,626.8 570.7,625.6 572.6,624.5 574.4,623.3 576.3,622.2 578.2,621 580.1,619.9 582,618.8 583.9,617.6 585.8,616.5" fill="none" stroke="#d4161c" stroke-width="2.05" stroke-linejoin="round"/>
</g>
<rect x="382.6" y="577.6" width="200.2" height="196" fill="none" stroke="#969696" stroke-width="1.05"/>
<line x1="380" y1="771.9" x2="382.6" y2="771.9" stroke="#4a4a4a" stroke-width="1.15"/>
<text x="377.9" y="775.4" class="tk" text-anchor="end">0.4</text>
<line x1="380" y1="741.65" x2="382.6" y2="741.65" stroke="#4a4a4a" stroke-width="1.15"/>
<text x="377.9" y="745.15" class="tk" text-anchor="end">0.6</text>
<line x1="380" y1="711.4" x2="382.6" y2="711.4" stroke="#4a4a4a" stroke-width="1.15"/>
<text x="377.9" y="714.9" class="tk" text-anchor="end">0.8</text>
<line x1="380" y1="681.15" x2="382.6" y2="681.15" stroke="#4a4a4a" stroke-width="1.15"/>
<text x="377.9" y="684.65" class="tk" text-anchor="end">1.0</text>
<line x1="380" y1="650.9" x2="382.6" y2="650.9" stroke="#4a4a4a" stroke-width="1.15"/>
<text x="377.9" y="654.4" class="tk" text-anchor="end">1.2</text>
<line x1="380" y1="620.65" x2="382.6" y2="620.65" stroke="#4a4a4a" stroke-width="1.15"/>
<text x="377.9" y="624.15" class="tk" text-anchor="end">1.4</text>
<line x1="380" y1="590.4" x2="382.6" y2="590.4" stroke="#4a4a4a" stroke-width="1.15"/>
<text x="377.9" y="593.9" class="tk" text-anchor="end">1.6</text>
<line x1="391.4" y1="773.6" x2="391.4" y2="776.2" stroke="#4a4a4a" stroke-width="1.15"/>
<text x="391.4" y="785.6" class="tk" text-anchor="middle">500</text>
<line x1="436.98" y1="773.6" x2="436.98" y2="776.2" stroke="#4a4a4a" stroke-width="1.15"/>
<text x="436.98" y="785.6" class="tk" text-anchor="middle">575</text>
<line x1="482.55" y1="773.6" x2="482.55" y2="776.2" stroke="#4a4a4a" stroke-width="1.15"/>
<text x="482.55" y="785.6" class="tk" text-anchor="middle">650</text>
<line x1="528.12" y1="773.6" x2="528.12" y2="776.2" stroke="#4a4a4a" stroke-width="1.15"/>
<text x="528.12" y="785.6" class="tk" text-anchor="middle">725</text>
<line x1="573.7" y1="773.6" x2="573.7" y2="776.2" stroke="#4a4a4a" stroke-width="1.15"/>
<text x="573.7" y="785.6" class="tk" text-anchor="middle">800</text>
<text x="482.7" y="798.6" class="at" text-anchor="middle">SB (min/day)</text>
<text transform="translate(360,675.6) rotate(-90)" class="at" text-anchor="middle">HR (95%CI)</text>
<text x="482.7" y="605.6" class="pt" text-anchor="middle">P for interaction: 0.36</text>
<text x="351.4" y="570.2" class="lt">B</text>
<text x="597.7" y="661.7" class="lg">Group</text>
<rect x="598" y="668.6" width="14.2" height="13.8" fill="#3b6fb6" fill-opacity="0.15"/>
<line x1="598.8" y1="675.5" x2="611.4" y2="675.5" stroke="#1b4d89" stroke-width="1.9"/>
<text x="618" y="679" class="lg">Chronic pain</text>
<rect x="598" y="683.6" width="14.2" height="13.8" fill="#e8202a" fill-opacity="0.13"/>
<line x1="598.8" y1="690.5" x2="611.4" y2="690.5" stroke="#d4161c" stroke-width="1.9"/>
<text x="618" y="694" class="lg">No chronic pain</text>
<line x1="34.45" y1="1010.11" x2="234.7" y2="1010.11" stroke="#f3f3f3" stroke-width="0.7"/>
<line x1="34.45" y1="980.09" x2="234.7" y2="980.09" stroke="#f3f3f3" stroke-width="0.7"/>
<line x1="34.45" y1="950.07" x2="234.7" y2="950.07" stroke="#f3f3f3" stroke-width="0.7"/>
<line x1="34.45" y1="920.05" x2="234.7" y2="920.05" stroke="#f3f3f3" stroke-width="0.7"/>
<line x1="34.45" y1="890.03" x2="234.7" y2="890.03" stroke="#f3f3f3" stroke-width="0.7"/>
<line x1="34.45" y1="860.01" x2="234.7" y2="860.01" stroke="#f3f3f3" stroke-width="0.7"/>
<line x1="34.45" y1="829.99" x2="234.7" y2="829.99" stroke="#f3f3f3" stroke-width="0.7"/>
<line x1="43.5" y1="827.5" x2="43.5" y2="1022.1" stroke="#ebebeb" stroke-width="1"/>
<line x1="89.12" y1="827.5" x2="89.12" y2="1022.1" stroke="#ebebeb" stroke-width="1"/>
<line x1="134.75" y1="827.5" x2="134.75" y2="1022.1" stroke="#ebebeb" stroke-width="1"/>
<line x1="180.38" y1="827.5" x2="180.38" y2="1022.1" stroke="#ebebeb" stroke-width="1"/>
<line x1="226" y1="827.5" x2="226" y2="1022.1" stroke="#ebebeb" stroke-width="1"/>
<line x1="34.45" y1="995.1" x2="234.7" y2="995.1" stroke="#ebebeb" stroke-width="1"/>
<line x1="34.45" y1="965.08" x2="234.7" y2="965.08" stroke="#ebebeb" stroke-width="1"/>
<line x1="34.45" y1="935.06" x2="234.7" y2="935.06" stroke="#ebebeb" stroke-width="1"/>
<line x1="34.45" y1="905.04" x2="234.7" y2="905.04" stroke="#ebebeb" stroke-width="1"/>
<line x1="34.45" y1="875.02" x2="234.7" y2="875.02" stroke="#ebebeb" stroke-width="1"/>
<line x1="34.45" y1="845" x2="234.7" y2="845" stroke="#ebebeb" stroke-width="1"/>
<g clip-path="url(#c2C)">
<path d="M31.5,879.7 33.3,880.8 35.2,882 37.1,883.1 39,884.3 40.9,885.5 42.8,886.7 44.7,887.9 46.6,889 48.5,890.2 50.4,891.4 52.3,892.6 54.2,893.8 56,895.1 57.9,896.3 59.8,897.5 61.7,898.8 63.6,900.1 65.5,901.3 67.4,902.6 69.3,903.9 71.2,905.1 73.1,906.3 75,907.5 76.9,908.8 78.8,910 80.6,911.2 82.5,912.4 84.4,913.6 86.3,914.8 88.2,915.9 90.1,917.1 92,918.2 93.9,919.2 95.8,920.3 97.7,921.3 99.6,922.3 101.5,923.2 103.4,924.2 105.2,925.2 107.1,926.1 109,927 110.9,927.9 112.8,928.8 114.7,929.7 116.6,930.5 118.5,931.3 120.4,932.2 122.3,932.9 124.2,933.6 126.1,934.1 128,934.6 129.8,935.1 131.7,935.6 133.6,936.1 135.5,936.6 137.4,937 139.3,937.5 141.2,937.9 143.1,938.3 145,938.7 146.9,939.2 148.8,939.6 150.7,940 152.6,940.4 154.4,940.7 156.3,941.1 158.2,941.5 160.1,941.8 162,942.2 163.9,942.5 165.8,942.9 167.7,943.2 169.6,943.5 171.5,943.8 173.4,944.2 175.3,944.5 177.1,944.8 179,945 180.9,945.3 182.8,945.6 184.7,945.9 186.6,946.1 188.5,946.4 190.4,946.6 192.3,946.8 194.2,947 196.1,947.2 198,947.4 199.9,947.6 201.7,947.7 203.6,947.9 205.5,948.1 207.4,948.2 209.3,948.4 211.2,948.5 213.1,948.7 215,948.8 216.9,948.9 218.8,949 220.7,949.1 222.6,949.2 224.5,949.3 226.3,949.4 228.2,949.4 230.1,949.5 232,949.5 233.9,949.6 235.8,949.6 237.7,949.7 L237.7,972.1 235.8,971.7 233.9,971.3 232,970.9 230.1,970.5 228.2,970 226.3,969.6 224.5,969.1 222.6,968.7 220.7,968.2 218.8,967.7 216.9,967.2 215,966.7 213.1,966.2 211.2,965.7 209.3,965.2 207.4,964.6 205.5,964.1 203.6,963.5 201.7,962.9 199.9,962.4 198,961.8 196.1,961.2 194.2,960.5 192.3,959.9 190.4,959.3 188.5,958.6 186.6,958 184.7,957.4 182.8,956.7 180.9,956.1 179,955.4 177.1,954.8 175.3,954.1 173.4,953.5 171.5,952.8 169.6,952.1 167.7,951.5 165.8,950.8 163.9,950.1 162,949.4 160.1,948.7 158.2,948 156.3,947.3 154.4,946.6 152.6,945.9 150.7,945.2 148.8,944.5 146.9,943.8 145,943 143.1,942.3 141.2,941.6 139.3,940.8 137.4,940.1 135.5,939.3 133.6,938.6 131.7,937.8 129.8,937 128,936.3 126.1,935.5 124.2,934.7 122.3,934.2 120.4,933.7 118.5,933.3 116.6,932.8 114.7,932.4 112.8,932 110.9,931.6 109,931.2 107.1,930.8 105.2,930.5 103.4,930.1 101.5,929.7 99.6,929.3 97.7,929 95.8,928.6 93.9,928.2 92,927.9 90.1,927.6 88.2,927.3 86.3,927.1 84.4,926.8 82.5,926.6 80.6,926.3 78.8,926 76.9,925.7 75,925.4 73.1,925.1 71.2,924.7 69.3,924.3 67.4,923.9 65.5,923.5 63.6,923.2 61.7,922.8 59.8,922.4 57.9,922 56,921.6 54.2,921.3 52.3,920.9 50.4,920.6 48.5,920.3 46.6,920 44.7,919.7 42.8,919.4 40.9,919.1 39,918.8 37.1,918.6 35.2,918.3 33.3,918.1 31.5,917.8Z" fill="#3b6fb6" fill-opacity="0.15"/>
<path d="M31.5,858.8 33.3,859.5 35.2,860.4 37.1,861.3 39,862.4 40.9,863.6 42.8,865 44.7,866.5 46.6,868.2 48.5,870.1 50.4,872.1 52.3,874.1 54.2,876.1 56,878 57.9,879.9 59.8,881.8 61.7,883.7 63.6,885.5 65.5,887.4 67.4,889.2 69.3,891.1 71.2,892.9 73.1,894.6 75,896.4 76.9,898 78.8,899.6 80.6,901.2 82.5,902.8 84.4,904.4 86.3,906.1 88.2,907.8 90.1,909.6 92,911.4 93.9,913.1 95.8,914.6 97.7,916 99.6,917.5 101.5,918.9 103.4,920.3 105.2,921.6 107.1,923 109,924.3 110.9,925.6 112.8,926.8 114.7,928 116.6,929.1 118.5,930.2 120.4,931.3 122.3,932.3 124.2,933.2 126.1,934 128,934.8 129.8,935.6 131.7,936.4 133.6,937.1 135.5,937.9 137.4,938.6 139.3,939.4 141.2,940.1 143.1,940.8 145,941.5 146.9,942.2 148.8,942.9 150.7,943.6 152.6,944.3 154.4,945 156.3,945.6 158.2,946.3 160.1,946.9 162,947.6 163.9,948.2 165.8,948.8 167.7,949.4 169.6,950 171.5,950.6 173.4,951.2 175.3,951.8 177.1,952.4 179,953 180.9,953.6 182.8,954.1 184.7,954.7 186.6,955.3 188.5,955.9 190.4,956.4 192.3,957 194.2,957.5 196.1,958.1 198,958.6 199.9,959.1 201.7,959.6 203.6,960.1 205.5,960.6 207.4,961.1 209.3,961.6 211.2,962 213.1,962.4 215,962.8 216.9,963.2 218.8,963.5 220.7,963.9 222.6,964.2 224.5,964.5 226.3,964.8 228.2,965.1 230.1,965.4 232,965.6 233.9,965.9 235.8,966.1 237.7,966.4 L237.7,986.5 235.8,985.8 233.9,985.1 232,984.4 230.1,983.7 228.2,983 226.3,982.2 224.5,981.5 222.6,980.8 220.7,980 218.8,979.3 216.9,978.5 215,977.8 213.1,977 211.2,976.2 209.3,975.5 207.4,974.7 205.5,973.9 203.6,973.1 201.7,972.3 199.9,971.4 198,970.6 196.1,969.7 194.2,968.9 192.3,968 190.4,967.2 188.5,966.3 186.6,965.5 184.7,964.6 182.8,963.7 180.9,962.9 179,962.1 177.1,961.2 175.3,960.4 173.4,959.5 171.5,958.7 169.6,957.8 167.7,956.9 165.8,956 163.9,955.2 162,954.3 160.1,953.4 158.2,952.5 156.3,951.6 154.4,950.7 152.6,949.7 150.7,948.8 148.8,947.9 146.9,946.9 145,946 143.1,945.1 141.2,944.1 139.3,943.1 137.4,942.2 135.5,941.2 133.6,940.2 131.7,939.3 129.8,938.3 128,937.3 126.1,936.3 124.2,935.3 122.3,934.6 120.4,934 118.5,933.4 116.6,932.8 114.7,932.1 112.8,931.5 110.9,930.8 109,930.2 107.1,929.5 105.2,928.8 103.4,928.1 101.5,927.4 99.6,926.7 97.7,925.9 95.8,925.2 93.9,924.4 92,923.6 90.1,922.8 88.2,922 86.3,921.2 84.4,920.4 82.5,919.5 80.6,918.7 78.8,917.8 76.9,916.9 75,916 73.1,915.1 71.2,914.2 69.3,913.3 67.4,912.4 65.5,911.4 63.6,910.5 61.7,909.5 59.8,908.6 57.9,907.7 56,906.8 54.2,905.9 52.3,905.1 50.4,904.3 48.5,903.5 46.6,902.8 44.7,902.1 42.8,901.4 40.9,900.8 39,900.2 37.1,899.6 35.2,899 33.3,898.5 31.5,897.9Z" fill="#e8202a" fill-opacity="0.13"/>
<path d="M31.5,899.6 33.3,900.5 35.2,901.3 37.1,902.2 39,903 40.9,903.8 42.8,904.6 44.7,905.4 46.6,906.2 48.5,907.1 50.4,907.9 52.3,908.6 54.2,909.4 56,910.2 57.9,911 59.8,911.8 61.7,912.5 63.6,913.3 65.5,914.1 67.4,914.8 69.3,915.6 71.2,916.3 73.1,917 75,917.8 76.9,918.5 78.8,919.2 80.6,919.9 82.5,920.6 84.4,921.3 86.3,922 88.2,922.7 90.1,923.4 92,924.1 93.9,924.8 95.8,925.5 97.7,926.1 99.6,926.8 101.5,927.5 103.4,928.1 105.2,928.8 107.1,929.4 109,930 110.9,930.7 112.8,931.3 114.7,931.9 116.6,932.6 118.5,933.2 120.4,933.8 122.3,934.4 124.2,935 126.1,935.6 128,936.2 129.8,936.8 131.7,937.3 133.6,937.9 135.5,938.5 137.4,939 139.3,939.6 141.2,940.2 143.1,940.7 145,941.3 146.9,941.8 148.8,942.3 150.7,942.9 152.6,943.4 154.4,943.9 156.3,944.4 158.2,944.9 160.1,945.4 162,946 163.9,946.4 165.8,946.9 167.7,947.4 169.6,947.9 171.5,948.4 173.4,948.9 175.3,949.3 177.1,949.8 179,950.2 180.9,950.7 182.8,951.2 184.7,951.6 186.6,952 188.5,952.5 190.4,952.9 192.3,953.3 194.2,953.7 196.1,954.2 198,954.6 199.9,955 201.7,955.4 203.6,955.8 205.5,956.2 207.4,956.6 209.3,956.9 211.2,957.3 213.1,957.7 215,958.1 216.9,958.4 218.8,958.8 220.7,959.1 222.6,959.5 224.5,959.8 226.3,960.2 228.2,960.5 230.1,960.8 232,961.2 233.9,961.5 235.8,961.8 237.7,962.1" fill="none" stroke="#1b4d89" stroke-width="2.05" stroke-linejoin="round"/>
<path d="M31.5,873.3 33.3,874.9 35.2,876.6 37.1,878.2 39,879.8 40.9,881.4 42.8,882.9 44.7,884.5 46.6,886 48.5,887.5 50.4,889 52.3,890.5 54.2,891.9 56,893.4 57.9,894.8 59.8,896.2 61.7,897.6 63.6,899 65.5,900.3 67.4,901.7 69.3,903 71.2,904.3 73.1,905.6 75,906.9 76.9,908.1 78.8,909.4 80.6,910.6 82.5,911.8 84.4,913 86.3,914.2 88.2,915.4 90.1,916.6 92,917.7 93.9,918.8 95.8,919.9 97.7,921 99.6,922.1 101.5,923.2 103.4,924.3 105.2,925.3 107.1,926.4 109,927.4 110.9,928.4 112.8,929.4 114.7,930.4 116.6,931.4 118.5,932.3 120.4,933.3 122.3,934.2 124.2,935.2 126.1,936.1 128,937 129.8,937.9 131.7,938.8 133.6,939.6 135.5,940.5 137.4,941.4 139.3,942.2 141.2,943 143.1,943.9 145,944.7 146.9,945.5 148.8,946.3 150.7,947.1 152.6,947.9 154.4,948.6 156.3,949.4 158.2,950.1 160.1,950.9 162,951.6 163.9,952.4 165.8,953.1 167.7,953.8 169.6,954.5 171.5,955.2 173.4,955.9 175.3,956.6 177.1,957.3 179,957.9 180.9,958.6 182.8,959.2 184.7,959.9 186.6,960.5 188.5,961.2 190.4,961.8 192.3,962.5 194.2,963.1 196.1,963.7 198,964.3 199.9,964.9 201.7,965.5 203.6,966.1 205.5,966.7 207.4,967.3 209.3,967.9 211.2,968.5 213.1,969.1 215,969.7 216.9,970.2 218.8,970.8 220.7,971.4 222.6,971.9 224.5,972.5 226.3,973.1 228.2,973.6 230.1,974.2 232,974.7 233.9,975.3 235.8,975.8 237.7,976.4" fill="none" stroke="#d4161c" stroke-width="2.05" stroke-linejoin="round"/>
</g>
<rect x="34.45" y="827.5" width="200.25" height="194.6" fill="none" stroke="#969696" stroke-width="1.05"/>
<line x1="31.85" y1="995.1" x2="34.45" y2="995.1" stroke="#4a4a4a" stroke-width="1.15"/>
<text x="29.75" y="998.6" class="tk" text-anchor="end">0.6</text>
<line x1="31.85" y1="965.08" x2="34.45" y2="965.08" stroke="#4a4a4a" stroke-width="1.15"/>
<text x="29.75" y="968.58" class="tk" text-anchor="end">0.8</text>
<line x1="31.85" y1="935.06" x2="34.45" y2="935.06" stroke="#4a4a4a" stroke-width="1.15"/>
<text x="29.75" y="938.56" class="tk" text-anchor="end">1.0</text>
<line x1="31.85" y1="905.04" x2="34.45" y2="905.04" stroke="#4a4a4a" stroke-width="1.15"/>
<text x="29.75" y="908.54" class="tk" text-anchor="end">1.2</text>
<line x1="31.85" y1="875.02" x2="34.45" y2="875.02" stroke="#4a4a4a" stroke-width="1.15"/>
<text x="29.75" y="878.52" class="tk" text-anchor="end">1.4</text>
<line x1="31.85" y1="845" x2="34.45" y2="845" stroke="#4a4a4a" stroke-width="1.15"/>
<text x="29.75" y="848.5" class="tk" text-anchor="end">1.6</text>
<line x1="43.5" y1="1022.1" x2="43.5" y2="1024.7" stroke="#4a4a4a" stroke-width="1.15"/>
<text x="43.5" y="1034.1" class="tk" text-anchor="middle">210</text>
<line x1="89.12" y1="1022.1" x2="89.12" y2="1024.7" stroke="#4a4a4a" stroke-width="1.15"/>
<text x="89.12" y="1034.1" class="tk" text-anchor="middle">255</text>
<line x1="134.75" y1="1022.1" x2="134.75" y2="1024.7" stroke="#4a4a4a" stroke-width="1.15"/>
<text x="134.75" y="1034.1" class="tk" text-anchor="middle">300</text>
<line x1="180.38" y1="1022.1" x2="180.38" y2="1024.7" stroke="#4a4a4a" stroke-width="1.15"/>
<text x="180.38" y="1034.1" class="tk" text-anchor="middle">345</text>
<line x1="226" y1="1022.1" x2="226" y2="1024.7" stroke="#4a4a4a" stroke-width="1.15"/>
<text x="226" y="1034.1" class="tk" text-anchor="middle">390</text>
<text x="134.57" y="1047.1" class="at" text-anchor="middle">LPA (min/day)</text>
<text transform="translate(11.85,924.8) rotate(-90)" class="at" text-anchor="middle">HR (95%CI)</text>
<text x="134.57" y="854.2" class="pt" text-anchor="middle">P for interaction: 0.101</text>
<text x="3.25" y="820.1" class="lt">C</text>
<text x="249.55" y="910.9" class="lg">Group</text>
<rect x="249.85" y="917.8" width="14.2" height="13.8" fill="#3b6fb6" fill-opacity="0.15"/>
<line x1="250.65" y1="924.7" x2="263.25" y2="924.7" stroke="#1b4d89" stroke-width="1.9"/>
<text x="269.85" y="928.2" class="lg">Chronic pain</text>
<rect x="249.85" y="932.8" width="14.2" height="13.8" fill="#e8202a" fill-opacity="0.13"/>
<line x1="250.65" y1="939.7" x2="263.25" y2="939.7" stroke="#d4161c" stroke-width="1.9"/>
<text x="269.85" y="943.2" class="lg">No chronic pain</text>
<line x1="382.6" y1="1015.23" x2="582.8" y2="1015.23" stroke="#f3f3f3" stroke-width="0.7"/>
<line x1="382.6" y1="981.37" x2="582.8" y2="981.37" stroke="#f3f3f3" stroke-width="0.7"/>
<line x1="382.6" y1="947.51" x2="582.8" y2="947.51" stroke="#f3f3f3" stroke-width="0.7"/>
<line x1="382.6" y1="913.65" x2="582.8" y2="913.65" stroke="#f3f3f3" stroke-width="0.7"/>
<line x1="382.6" y1="879.79" x2="582.8" y2="879.79" stroke="#f3f3f3" stroke-width="0.7"/>
<line x1="382.6" y1="845.93" x2="582.8" y2="845.93" stroke="#f3f3f3" stroke-width="0.7"/>
<line x1="391.4" y1="827.8" x2="391.4" y2="1022.1" stroke="#ebebeb" stroke-width="1"/>
<line x1="436.98" y1="827.8" x2="436.98" y2="1022.1" stroke="#ebebeb" stroke-width="1"/>
<line x1="482.55" y1="827.8" x2="482.55" y2="1022.1" stroke="#ebebeb" stroke-width="1"/>
<line x1="528.12" y1="827.8" x2="528.12" y2="1022.1" stroke="#ebebeb" stroke-width="1"/>
<line x1="573.7" y1="827.8" x2="573.7" y2="1022.1" stroke="#ebebeb" stroke-width="1"/>
<line x1="382.6" y1="998.3" x2="582.8" y2="998.3" stroke="#ebebeb" stroke-width="1"/>
<line x1="382.6" y1="964.44" x2="582.8" y2="964.44" stroke="#ebebeb" stroke-width="1"/>
<line x1="382.6" y1="930.58" x2="582.8" y2="930.58" stroke="#ebebeb" stroke-width="1"/>
<line x1="382.6" y1="896.72" x2="582.8" y2="896.72" stroke="#ebebeb" stroke-width="1"/>
<line x1="382.6" y1="862.86" x2="582.8" y2="862.86" stroke="#ebebeb" stroke-width="1"/>
<line x1="382.6" y1="829" x2="582.8" y2="829" stroke="#ebebeb" stroke-width="1"/>
<g clip-path="url(#c2D)">
<path d="M379.6,838.3 381.5,839.8 383.4,841.3 385.3,842.9 387.2,844.5 389.1,846 391,847.6 392.8,849.2 394.7,850.8 396.6,852.4 398.5,854 400.4,855.6 402.3,857.2 404.2,858.8 406.1,860.4 408,862 409.9,863.7 411.8,865.3 413.7,866.9 415.5,868.6 417.4,870.2 419.3,871.9 421.2,873.6 423.1,875.3 425,877 426.9,878.7 428.8,880.4 430.7,882.1 432.6,883.8 434.5,885.5 436.4,887.2 438.2,888.9 440.1,890.5 442,892.2 443.9,893.8 445.8,895.5 447.7,897.2 449.6,898.8 451.5,900.5 453.4,902.2 455.3,903.8 457.2,905.5 459.1,907.2 460.9,908.9 462.8,910.6 464.7,912.3 466.6,914 468.5,915.8 470.4,917.5 472.3,919.3 474.2,921.1 476.1,922.9 478,924.7 479.9,926.5 481.8,928.3 483.6,929.1 485.5,929.9 487.4,930.6 489.3,931.2 491.2,931.9 493.1,932.5 495,933.1 496.9,933.7 498.8,934.3 500.7,934.9 502.6,935.4 504.5,935.9 506.3,936.4 508.2,936.9 510.1,937.4 512,937.8 513.9,938.3 515.8,938.7 517.7,939.1 519.6,939.5 521.5,939.9 523.4,940.3 525.3,940.7 527.2,941 529,941.4 530.9,941.7 532.8,941.9 534.7,942.2 536.6,942.4 538.5,942.6 540.4,942.7 542.3,942.8 544.2,943 546.1,943.1 548,943.2 549.9,943.2 551.7,943.3 553.6,943.4 555.5,943.5 557.4,943.6 559.3,943.7 561.2,943.8 563.1,943.9 565,943.9 566.9,944 568.8,944.1 570.7,944.1 572.6,944.1 574.4,944.2 576.3,944.2 578.2,944.2 580.1,944.2 582,944.2 583.9,944.2 585.8,944.2 L585.8,979 583.9,978.3 582,977.5 580.1,976.7 578.2,975.9 576.3,975.1 574.4,974.3 572.6,973.6 570.7,972.8 568.8,972 566.9,971.2 565,970.4 563.1,969.6 561.2,968.8 559.3,967.9 557.4,967.1 555.5,966.3 553.6,965.5 551.7,964.7 549.9,963.9 548,963.1 546.1,962.3 544.2,961.5 542.3,960.6 540.4,959.8 538.5,959 536.6,958.1 534.7,957.3 532.8,956.4 530.9,955.6 529,954.7 527.2,953.8 525.3,952.9 523.4,951.9 521.5,951 519.6,950.1 517.7,949.1 515.8,948.2 513.9,947.2 512,946.2 510.1,945.2 508.2,944.2 506.3,943.2 504.5,942.2 502.6,941.2 500.7,940.2 498.8,939.1 496.9,938.1 495,937 493.1,936 491.2,934.9 489.3,933.8 487.4,932.7 485.5,931.6 483.6,930.5 481.8,929.5 479.9,929.1 478,928.8 476.1,928.5 474.2,928.2 472.3,927.8 470.4,927.5 468.5,927.1 466.6,926.8 464.7,926.4 462.8,926 460.9,925.6 459.1,925.3 457.2,924.9 455.3,924.4 453.4,924 451.5,923.6 449.6,923.2 447.7,922.8 445.8,922.3 443.9,921.9 442,921.4 440.1,921 438.2,920.5 436.4,920 434.5,919.5 432.6,919 430.7,918.5 428.8,918 426.9,917.5 425,916.9 423.1,916.4 421.2,915.9 419.3,915.3 417.4,914.8 415.5,914.2 413.7,913.7 411.8,913.2 409.9,912.6 408,912.1 406.1,911.6 404.2,911 402.3,910.5 400.4,910 398.5,909.5 396.6,908.9 394.7,908.4 392.8,907.9 391,907.3 389.1,906.8 387.2,906.3 385.3,905.8 383.4,905.2 381.5,904.7 379.6,904.2Z" fill="#3b6fb6" fill-opacity="0.15"/>
<path d="M379.6,881.1 381.5,881.9 383.4,882.6 385.3,883.4 387.2,884.1 389.1,884.9 391,885.6 392.8,886.4 394.7,887.1 396.6,887.9 398.5,888.7 400.4,889.5 402.3,890.3 404.2,891 406.1,891.8 408,892.6 409.9,893.4 411.8,894.2 413.7,895 415.5,895.8 417.4,896.7 419.3,897.5 421.2,898.3 423.1,899.1 425,900 426.9,900.8 428.8,901.6 430.7,902.5 432.6,903.4 434.5,904.3 436.4,905.2 438.2,906.1 440.1,907 442,907.9 443.9,908.9 445.8,909.9 447.7,910.9 449.6,911.9 451.5,912.9 453.4,913.9 455.3,915 457.2,916 459.1,917 460.9,918.1 462.8,919.1 464.7,920.1 466.6,921.2 468.5,922.2 470.4,923.3 472.3,924.3 474.2,925.4 476.1,926.4 478,927.5 479.9,928.6 481.8,929.7 483.6,929.5 485.5,929.2 487.4,928.9 489.3,928.6 491.2,928.3 493.1,928 495,927.7 496.9,927.4 498.8,927.1 500.7,926.8 502.6,926.5 504.5,926.2 506.3,925.9 508.2,925.6 510.1,925.3 512,925 513.9,924.7 515.8,924.4 517.7,924.1 519.6,923.8 521.5,923.5 523.4,923.2 525.3,922.9 527.2,922.6 529,922.2 530.9,921.9 532.8,921.6 534.7,921.3 536.6,921 538.5,920.7 540.4,920.4 542.3,920.1 544.2,919.8 546.1,919.4 548,919.1 549.9,918.8 551.7,918.5 553.6,918.2 555.5,917.9 557.4,917.6 559.3,917.3 561.2,917 563.1,916.7 565,916.4 566.9,916.1 568.8,915.8 570.7,915.5 572.6,915.2 574.4,914.9 576.3,914.6 578.2,914.3 580.1,914 582,913.7 583.9,913.4 585.8,913.1 L585.8,959.5 583.9,959.1 582,958.6 580.1,958.2 578.2,957.7 576.3,957.3 574.4,956.8 572.6,956.3 570.7,955.8 568.8,955.3 566.9,954.8 565,954.3 563.1,953.8 561.2,953.3 559.3,952.7 557.4,952.2 555.5,951.7 553.6,951.1 551.7,950.5 549.9,949.9 548,949.3 546.1,948.6 544.2,948 542.3,947.3 540.4,946.6 538.5,946 536.6,945.3 534.7,944.7 532.8,944.1 530.9,943.5 529,942.9 527.2,942.4 525.3,941.8 523.4,941.3 521.5,940.7 519.6,940.2 517.7,939.7 515.8,939.2 513.9,938.6 512,938.1 510.1,937.6 508.2,937.1 506.3,936.6 504.5,936.1 502.6,935.6 500.7,935.2 498.8,934.7 496.9,934.2 495,933.7 493.1,933.3 491.2,932.9 489.3,932.4 487.4,932 485.5,931.6 483.6,931.2 481.8,930.9 479.9,931.3 478,931.7 476.1,932.1 474.2,932.5 472.3,932.9 470.4,933.3 468.5,933.7 466.6,934 464.7,934.4 462.8,934.8 460.9,935.2 459.1,935.5 457.2,935.8 455.3,936.2 453.4,936.5 451.5,936.8 449.6,937.1 447.7,937.5 445.8,937.8 443.9,938.1 442,938.5 440.1,938.8 438.2,939.2 436.4,939.5 434.5,939.9 432.6,940.3 430.7,940.7 428.8,941.1 426.9,941.5 425,942 423.1,942.4 421.2,942.8 419.3,943.2 417.4,943.7 415.5,944.1 413.7,944.5 411.8,945 409.9,945.4 408,945.8 406.1,946.3 404.2,946.7 402.3,947.1 400.4,947.6 398.5,948 396.6,948.4 394.7,948.9 392.8,949.3 391,949.7 389.1,950.2 387.2,950.6 385.3,951.1 383.4,951.5 381.5,952 379.6,952.4Z" fill="#e8202a" fill-opacity="0.13"/>
<path d="M379.6,871.4 381.5,872.6 383.4,873.9 385.3,875.2 387.2,876.4 389.1,877.6 391,878.8 392.8,880.1 394.7,881.3 396.6,882.5 398.5,883.7 400.4,884.9 402.3,886 404.2,887.2 406.1,888.4 408,889.5 409.9,890.7 411.8,891.8 413.7,892.9 415.5,894.1 417.4,895.2 419.3,896.3 421.2,897.4 423.1,898.5 425,899.6 426.9,900.7 428.8,901.7 430.7,902.8 432.6,903.8 434.5,904.9 436.4,905.9 438.2,907 440.1,908 442,909 443.9,910 445.8,911 447.7,912 449.6,913 451.5,914 453.4,915 455.3,915.9 457.2,916.9 459.1,917.8 460.9,918.8 462.8,919.7 464.7,920.6 466.6,921.5 468.5,922.5 470.4,923.4 472.3,924.3 474.2,925.1 476.1,926 478,926.9 479.9,927.8 481.8,928.6 483.6,929.5 485.5,930.3 487.4,931.2 489.3,932 491.2,932.8 493.1,933.6 495,934.4 496.9,935.2 498.8,936 500.7,936.8 502.6,937.6 504.5,938.3 506.3,939.1 508.2,939.9 510.1,940.6 512,941.3 513.9,942.1 515.8,942.8 517.7,943.5 519.6,944.2 521.5,944.9 523.4,945.6 525.3,946.3 527.2,947 529,947.7 530.9,948.3 532.8,949 534.7,949.6 536.6,950.3 538.5,950.9 540.4,951.5 542.3,952.2 544.2,952.8 546.1,953.4 548,954 549.9,954.6 551.7,955.2 553.6,955.7 555.5,956.3 557.4,956.9 559.3,957.4 561.2,958 563.1,958.5 565,959 566.9,959.6 568.8,960.1 570.7,960.6 572.6,961.1 574.4,961.6 576.3,962.1 578.2,962.6 580.1,963.1 582,963.5 583.9,964 585.8,964.4" fill="none" stroke="#1b4d89" stroke-width="2.05" stroke-linejoin="round"/>
<path d="M379.6,919.5 381.5,919.8 383.4,920 385.3,920.2 387.2,920.5 389.1,920.7 391,921 392.8,921.2 394.7,921.4 396.6,921.7 398.5,921.9 400.4,922.1 402.3,922.3 404.2,922.6 406.1,922.8 408,923 409.9,923.2 411.8,923.4 413.7,923.7 415.5,923.9 417.4,924.1 419.3,924.3 421.2,924.5 423.1,924.7 425,924.9 426.9,925.1 428.8,925.3 430.7,925.5 432.6,925.7 434.5,925.9 436.4,926 438.2,926.2 440.1,926.4 442,926.6 443.9,926.8 445.8,927 447.7,927.1 449.6,927.3 451.5,927.5 453.4,927.7 455.3,927.8 457.2,928 459.1,928.2 460.9,928.3 462.8,928.5 464.7,928.7 466.6,928.8 468.5,929 470.4,929.2 472.3,929.3 474.2,929.5 476.1,929.6 478,929.8 479.9,929.9 481.8,930.1 483.6,930.2 485.5,930.4 487.4,930.5 489.3,930.7 491.2,930.8 493.1,930.9 495,931.1 496.9,931.2 498.8,931.4 500.7,931.5 502.6,931.6 504.5,931.8 506.3,931.9 508.2,932 510.1,932.2 512,932.3 513.9,932.4 515.8,932.5 517.7,932.7 519.6,932.8 521.5,932.9 523.4,933 525.3,933.1 527.2,933.3 529,933.4 530.9,933.5 532.8,933.6 534.7,933.7 536.6,933.8 538.5,934 540.4,934.1 542.3,934.2 544.2,934.3 546.1,934.4 548,934.5 549.9,934.6 551.7,934.7 553.6,934.8 555.5,934.9 557.4,935 559.3,935.2 561.2,935.3 563.1,935.4 565,935.5 566.9,935.6 568.8,935.7 570.7,935.8 572.6,935.9 574.4,936 576.3,936.1 578.2,936.1 580.1,936.2 582,936.3 583.9,936.4 585.8,936.5" fill="none" stroke="#d4161c" stroke-width="2.05" stroke-linejoin="round"/>
</g>
<rect x="382.6" y="827.8" width="200.2" height="194.3" fill="none" stroke="#969696" stroke-width="1.05"/>
<line x1="380" y1="998.3" x2="382.6" y2="998.3" stroke="#4a4a4a" stroke-width="1.15"/>
<text x="377.9" y="1001.8" class="tk" text-anchor="end">0.6</text>
<line x1="380" y1="964.44" x2="382.6" y2="964.44" stroke="#4a4a4a" stroke-width="1.15"/>
<text x="377.9" y="967.94" class="tk" text-anchor="end">0.8</text>
<line x1="380" y1="930.58" x2="382.6" y2="930.58" stroke="#4a4a4a" stroke-width="1.15"/>
<text x="377.9" y="934.08" class="tk" text-anchor="end">1.0</text>
<line x1="380" y1="896.72" x2="382.6" y2="896.72" stroke="#4a4a4a" stroke-width="1.15"/>
<text x="377.9" y="900.22" class="tk" text-anchor="end">1.2</text>
<line x1="380" y1="862.86" x2="382.6" y2="862.86" stroke="#4a4a4a" stroke-width="1.15"/>
<text x="377.9" y="866.36" class="tk" text-anchor="end">1.4</text>
<line x1="380" y1="829" x2="382.6" y2="829" stroke="#4a4a4a" stroke-width="1.15"/>
<text x="377.9" y="832.5" class="tk" text-anchor="end">1.6</text>
<line x1="391.4" y1="1022.1" x2="391.4" y2="1024.7" stroke="#4a4a4a" stroke-width="1.15"/>
<text x="391.4" y="1034.1" class="tk" text-anchor="middle">300</text>
<line x1="436.98" y1="1022.1" x2="436.98" y2="1024.7" stroke="#4a4a4a" stroke-width="1.15"/>
<text x="436.98" y="1034.1" class="tk" text-anchor="middle">360</text>
<line x1="482.55" y1="1022.1" x2="482.55" y2="1024.7" stroke="#4a4a4a" stroke-width="1.15"/>
<text x="482.55" y="1034.1" class="tk" text-anchor="middle">420</text>
<line x1="528.12" y1="1022.1" x2="528.12" y2="1024.7" stroke="#4a4a4a" stroke-width="1.15"/>
<text x="528.12" y="1034.1" class="tk" text-anchor="middle">480</text>
<line x1="573.7" y1="1022.1" x2="573.7" y2="1024.7" stroke="#4a4a4a" stroke-width="1.15"/>
<text x="573.7" y="1034.1" class="tk" text-anchor="middle">540</text>
<text x="482.7" y="1047.1" class="at" text-anchor="middle">Sleep (min/day)</text>
<text transform="translate(360,924.95) rotate(-90)" class="at" text-anchor="middle">HR (95%CI)</text>
<text x="482.7" y="856.1" class="pt" text-anchor="middle">P for interaction: 0.07</text>
<text x="351.4" y="820.4" class="lt">D</text>
<text x="597.7" y="911.05" class="lg">Group</text>
<rect x="598" y="917.95" width="14.2" height="13.8" fill="#3b6fb6" fill-opacity="0.15"/>
<line x1="598.8" y1="924.85" x2="611.4" y2="924.85" stroke="#1b4d89" stroke-width="1.9"/>
<text x="618" y="928.35" class="lg">Chronic pain</text>
<rect x="598" y="932.95" width="14.2" height="13.8" fill="#e8202a" fill-opacity="0.13"/>
<line x1="598.8" y1="939.85" x2="611.4" y2="939.85" stroke="#d4161c" stroke-width="1.9"/>
<text x="618" y="943.35" class="lg">No chronic pain</text>
<line x1="33" y1="1328.42" x2="232.8" y2="1328.42" stroke="#f3f3f3" stroke-width="0.7"/>
<line x1="33" y1="1298.77" x2="232.8" y2="1298.77" stroke="#f3f3f3" stroke-width="0.7"/>
<line x1="33" y1="1269.12" x2="232.8" y2="1269.12" stroke="#f3f3f3" stroke-width="0.7"/>
<line x1="33" y1="1239.47" x2="232.8" y2="1239.47" stroke="#f3f3f3" stroke-width="0.7"/>
<line x1="33" y1="1209.83" x2="232.8" y2="1209.83" stroke="#f3f3f3" stroke-width="0.7"/>
<line x1="33" y1="1180.17" x2="232.8" y2="1180.17" stroke="#f3f3f3" stroke-width="0.7"/>
<line x1="33" y1="1150.53" x2="232.8" y2="1150.53" stroke="#f3f3f3" stroke-width="0.7"/>
<line x1="41.6" y1="1135.5" x2="41.6" y2="1331.3" stroke="#ebebeb" stroke-width="1"/>
<line x1="87.22" y1="1135.5" x2="87.22" y2="1331.3" stroke="#ebebeb" stroke-width="1"/>
<line x1="132.85" y1="1135.5" x2="132.85" y2="1331.3" stroke="#ebebeb" stroke-width="1"/>
<line x1="178.47" y1="1135.5" x2="178.47" y2="1331.3" stroke="#ebebeb" stroke-width="1"/>
<line x1="224.1" y1="1135.5" x2="224.1" y2="1331.3" stroke="#ebebeb" stroke-width="1"/>
<line x1="33" y1="1313.6" x2="232.8" y2="1313.6" stroke="#ebebeb" stroke-width="1"/>
<line x1="33" y1="1283.95" x2="232.8" y2="1283.95" stroke="#ebebeb" stroke-width="1"/>
<line x1="33" y1="1254.3" x2="232.8" y2="1254.3" stroke="#ebebeb" stroke-width="1"/>
<line x1="33" y1="1224.65" x2="232.8" y2="1224.65" stroke="#ebebeb" stroke-width="1"/>
<line x1="33" y1="1195" x2="232.8" y2="1195" stroke="#ebebeb" stroke-width="1"/>
<line x1="33" y1="1165.35" x2="232.8" y2="1165.35" stroke="#ebebeb" stroke-width="1"/>
<line x1="33" y1="1135.7" x2="232.8" y2="1135.7" stroke="#ebebeb" stroke-width="1"/>
<g clip-path="url(#c3A)">
<path d="M30,1149.5 31.9,1156 33.8,1161.9 35.7,1167.5 37.6,1172.7 39.4,1177.5 41.3,1181.9 43.2,1186 45.1,1189.6 47,1193 48.9,1196.1 50.8,1199 52.7,1201.7 54.5,1204.2 56.4,1206.7 58.3,1209 60.2,1211.3 62.1,1213.5 64,1215.6 65.9,1217.6 67.8,1219.4 69.6,1221.1 71.5,1222.7 73.4,1224.1 75.3,1225.5 77.2,1226.8 79.1,1228 81,1229.2 82.9,1230.3 84.8,1231.4 86.6,1232.5 88.5,1233.5 90.4,1234.6 92.3,1235.6 94.2,1236.7 96.1,1237.7 98,1238.7 99.9,1239.7 101.7,1240.7 103.6,1241.6 105.5,1242.6 107.4,1243.5 109.3,1244.5 111.2,1245.4 113.1,1246.3 115,1247.2 116.9,1248 118.7,1248.9 120.6,1249.8 122.5,1250.6 124.4,1251.5 126.3,1252.3 128.2,1253.1 130.1,1254 132,1254.8 133.8,1255.2 135.7,1255.4 137.6,1255.6 139.5,1255.8 141.4,1255.9 143.3,1256.1 145.2,1256.3 147.1,1256.5 148.9,1256.7 150.8,1256.9 152.7,1257 154.6,1257.2 156.5,1257.4 158.4,1257.5 160.3,1257.7 162.2,1257.9 164.1,1258 165.9,1258.2 167.8,1258.4 169.7,1258.5 171.6,1258.7 173.5,1258.8 175.4,1259 177.3,1259.2 179.2,1259.3 181,1259.5 182.9,1259.6 184.8,1259.8 186.7,1259.9 188.6,1260.1 190.5,1260.2 192.4,1260.4 194.3,1260.5 196.2,1260.7 198,1260.8 199.9,1261 201.8,1261.1 203.7,1261.3 205.6,1261.4 207.5,1261.5 209.4,1261.7 211.3,1261.8 213.1,1262 215,1262.1 216.9,1262.3 218.8,1262.4 220.7,1262.6 222.6,1262.7 224.5,1262.8 226.4,1263 228.2,1263.1 230.1,1263.3 232,1263.4 233.9,1263.6 235.8,1263.7 L235.8,1277.5 233.9,1277.4 232,1277.3 230.1,1277.1 228.2,1277 226.4,1276.9 224.5,1276.7 222.6,1276.6 220.7,1276.4 218.8,1276.2 216.9,1276.1 215,1275.9 213.1,1275.7 211.3,1275.5 209.4,1275.3 207.5,1275.1 205.6,1274.8 203.7,1274.6 201.8,1274.4 199.9,1274.1 198,1273.9 196.2,1273.6 194.3,1273.3 192.4,1273.1 190.5,1272.8 188.6,1272.5 186.7,1272.2 184.8,1271.9 182.9,1271.6 181,1271.3 179.2,1270.9 177.3,1270.6 175.4,1270.2 173.5,1269.8 171.6,1269.4 169.7,1269 167.8,1268.6 165.9,1268.1 164.1,1267.7 162.2,1267.2 160.3,1266.7 158.4,1266.3 156.5,1265.8 154.6,1265.3 152.7,1264.8 150.8,1264.3 148.9,1263.7 147.1,1263.2 145.2,1262.7 143.3,1262.2 141.4,1261.7 139.5,1261.3 137.6,1260.8 135.7,1260.3 133.8,1259.8 132,1259.4 130.1,1258.9 128.2,1258.5 126.3,1258 124.4,1257.6 122.5,1257.1 120.6,1256.7 118.7,1256.3 116.9,1255.8 115,1255.4 113.1,1254.9 111.2,1254.5 109.3,1254 107.4,1253.6 105.5,1253.1 103.6,1252.7 101.7,1252.2 99.9,1251.7 98,1251.2 96.1,1250.7 94.2,1250.2 92.3,1249.7 90.4,1249.3 88.5,1248.9 86.6,1248.6 84.8,1248.3 82.9,1248.1 81,1247.8 79.1,1247.6 77.2,1247.3 75.3,1246.9 73.4,1246.6 71.5,1246.3 69.6,1245.9 67.8,1245.6 65.9,1245.2 64,1244.8 62.1,1244.4 60.2,1243.9 58.3,1243.5 56.4,1242.9 54.5,1242.4 52.7,1241.8 50.8,1241.1 48.9,1240.5 47,1239.8 45.1,1239 43.2,1238.3 41.3,1237.5 39.4,1236.6 37.6,1235.6 35.7,1234.5 33.8,1233.1 31.9,1231.5 30,1229.6Z" fill="#3b6fb6" fill-opacity="0.15"/>
<path d="M30,1117 31.9,1123.4 33.8,1129.2 35.7,1133.5 37.6,1135.7 39.4,1137.2 41.3,1139.5 43.2,1143.5 45.1,1148.2 47,1153.2 48.9,1158.2 50.8,1163 52.7,1167.9 54.5,1173.2 56.4,1178.3 58.3,1182.9 60.2,1186.8 62.1,1190.4 64,1193.7 65.9,1196.8 67.8,1199.7 69.6,1202.5 71.5,1205 73.4,1207.4 75.3,1209.6 77.2,1211.8 79.1,1213.8 81,1215.7 82.9,1217.6 84.8,1219.3 86.6,1221 88.5,1222.6 90.4,1224.1 92.3,1225.7 94.2,1227.2 96.1,1228.6 98,1230.1 99.9,1231.5 101.7,1232.9 103.6,1234.3 105.5,1235.7 107.4,1237 109.3,1238.3 111.2,1239.6 113.1,1240.9 115,1242.2 116.9,1243.5 118.7,1244.7 120.6,1245.9 122.5,1247.2 124.4,1248.4 126.3,1249.6 128.2,1250.8 130.1,1252 132,1253.2 133.8,1253.9 135.7,1254.5 137.6,1255 139.5,1255.6 141.4,1256.1 143.3,1256.7 145.2,1257.2 147.1,1257.7 148.9,1258.2 150.8,1258.7 152.7,1259.2 154.6,1259.7 156.5,1260.2 158.4,1260.6 160.3,1261.1 162.2,1261.6 164.1,1262 165.9,1262.5 167.8,1262.9 169.7,1263.4 171.6,1263.8 173.5,1264.2 175.4,1264.7 177.3,1265.1 179.2,1265.5 181,1266 182.9,1266.4 184.8,1266.8 186.7,1267.2 188.6,1267.6 190.5,1268 192.4,1268.4 194.3,1268.8 196.2,1269.2 198,1269.6 199.9,1269.9 201.8,1270.3 203.7,1270.7 205.6,1271.1 207.5,1271.4 209.4,1271.8 211.3,1272.2 213.1,1272.5 215,1272.9 216.9,1273.2 218.8,1273.6 220.7,1274 222.6,1274.3 224.5,1274.7 226.4,1275 228.2,1275.4 230.1,1275.7 232,1276.1 233.9,1276.4 235.8,1276.8 L235.8,1289.6 233.9,1289.2 232,1288.7 230.1,1288.2 228.2,1287.8 226.4,1287.3 224.5,1286.8 222.6,1286.3 220.7,1285.8 218.8,1285.3 216.9,1284.8 215,1284.4 213.1,1283.9 211.3,1283.3 209.4,1282.8 207.5,1282.3 205.6,1281.8 203.7,1281.3 201.8,1280.8 199.9,1280.2 198,1279.7 196.2,1279.2 194.3,1278.6 192.4,1278.1 190.5,1277.5 188.6,1277 186.7,1276.4 184.8,1275.9 182.9,1275.3 181,1274.7 179.2,1274.1 177.3,1273.6 175.4,1273 173.5,1272.4 171.6,1271.8 169.7,1271.2 167.8,1270.5 165.9,1269.9 164.1,1269.3 162.2,1268.7 160.3,1268 158.4,1267.4 156.5,1266.7 154.6,1266 152.7,1265.4 150.8,1264.7 148.9,1264 147.1,1263.3 145.2,1262.6 143.3,1261.8 141.4,1261.1 139.5,1260.4 137.6,1259.6 135.7,1258.8 133.8,1258.1 132,1257.3 130.1,1256.6 128.2,1255.9 126.3,1255.2 124.4,1254.4 122.5,1253.7 120.6,1253 118.7,1252.3 116.9,1251.6 115,1250.8 113.1,1250.1 111.2,1249.3 109.3,1248.5 107.4,1247.8 105.5,1247.1 103.6,1246.4 101.7,1245.8 99.9,1245.2 98,1244.7 96.1,1244.1 94.2,1243.6 92.3,1243 90.4,1242.5 88.5,1241.9 86.6,1241.3 84.8,1240.7 82.9,1240.2 81,1239.6 79.1,1239.1 77.2,1238.6 75.3,1238.2 73.4,1237.7 71.5,1237.2 69.6,1236.7 67.8,1236.3 65.9,1235.9 64,1235.5 62.1,1235.1 60.2,1234.7 58.3,1234.2 56.4,1233.7 54.5,1233.2 52.7,1232.7 50.8,1232.1 48.9,1231.5 47,1230.9 45.1,1230.1 43.2,1229.3 41.3,1228.5 39.4,1227.6 37.6,1226.5 35.7,1225.1 33.8,1223.5 31.9,1221.5 30,1218.9Z" fill="#e8202a" fill-opacity="0.13"/>
<path d="M30,1194.5 31.9,1198.3 33.8,1201.7 35.7,1204.8 37.6,1207.7 39.4,1210.2 41.3,1212.6 43.2,1214.9 45.1,1216.9 47,1218.9 48.9,1220.7 50.8,1222.4 52.7,1224 54.5,1225.5 56.4,1226.9 58.3,1228.3 60.2,1229.6 62.1,1230.8 64,1232 65.9,1233.2 67.8,1234.2 69.6,1235.3 71.5,1236.3 73.4,1237.3 75.3,1238.2 77.2,1239.1 79.1,1240 81,1240.8 82.9,1241.6 84.8,1242.4 86.6,1243.2 88.5,1243.9 90.4,1244.7 92.3,1245.4 94.2,1246.1 96.1,1246.7 98,1247.4 99.9,1248 101.7,1248.6 103.6,1249.3 105.5,1249.9 107.4,1250.4 109.3,1251 111.2,1251.6 113.1,1252.1 115,1252.6 116.9,1253.2 118.7,1253.7 120.6,1254.2 122.5,1254.7 124.4,1255.2 126.3,1255.7 128.2,1256.1 130.1,1256.6 132,1257.1 133.8,1257.5 135.7,1258 137.6,1258.4 139.5,1258.8 141.4,1259.2 143.3,1259.7 145.2,1260.1 147.1,1260.5 148.9,1260.9 150.8,1261.3 152.7,1261.7 154.6,1262.1 156.5,1262.4 158.4,1262.8 160.3,1263.2 162.2,1263.6 164.1,1263.9 165.9,1264.3 167.8,1264.6 169.7,1265 171.6,1265.3 173.5,1265.7 175.4,1266 177.3,1266.4 179.2,1266.7 181,1267 182.9,1267.4 184.8,1267.7 186.7,1268 188.6,1268.3 190.5,1268.6 192.4,1269 194.3,1269.3 196.2,1269.6 198,1269.9 199.9,1270.2 201.8,1270.5 203.7,1270.8 205.6,1271.1 207.5,1271.4 209.4,1271.7 211.3,1272 213.1,1272.2 215,1272.5 216.9,1272.8 218.8,1273.1 220.7,1273.4 222.6,1273.6 224.5,1273.9 226.4,1274.2 228.2,1274.5 230.1,1274.7 232,1275 233.9,1275.3 235.8,1275.5" fill="none" stroke="#1b4d89" stroke-width="2.05" stroke-linejoin="round"/>
<path d="M30,1149 31.9,1155.4 33.8,1161.2 35.7,1166.5 37.6,1171.3 39.4,1175.8 41.3,1179.9 43.2,1183.7 45.1,1187.2 47,1190.5 48.9,1193.6 50.8,1196.6 52.7,1199.3 54.5,1201.9 56.4,1204.4 58.3,1206.7 60.2,1209 62.1,1211.1 64,1213.1 65.9,1215.1 67.8,1216.9 69.6,1218.7 71.5,1220.4 73.4,1222.1 75.3,1223.6 77.2,1225.2 79.1,1226.7 81,1228.1 82.9,1229.5 84.8,1230.8 86.6,1232.1 88.5,1233.3 90.4,1234.6 92.3,1235.7 94.2,1236.9 96.1,1238 98,1239.1 99.9,1240.1 101.7,1241.2 103.6,1242.2 105.5,1243.2 107.4,1244.1 109.3,1245 111.2,1246 113.1,1246.9 115,1247.7 116.9,1248.6 118.7,1249.4 120.6,1250.2 122.5,1251 124.4,1251.8 126.3,1252.6 128.2,1253.3 130.1,1254.1 132,1254.8 133.8,1255.5 135.7,1256.2 137.6,1256.9 139.5,1257.6 141.4,1258.3 143.3,1258.9 145.2,1259.6 147.1,1260.2 148.9,1260.8 150.8,1261.5 152.7,1262.1 154.6,1262.7 156.5,1263.2 158.4,1263.8 160.3,1264.4 162.2,1265 164.1,1265.5 165.9,1266.1 167.8,1266.6 169.7,1267.1 171.6,1267.7 173.5,1268.2 175.4,1268.7 177.3,1269.2 179.2,1269.7 181,1270.2 182.9,1270.7 184.8,1271.2 186.7,1271.7 188.6,1272.1 190.5,1272.6 192.4,1273.1 194.3,1273.5 196.2,1274 198,1274.4 199.9,1274.9 201.8,1275.3 203.7,1275.8 205.6,1276.2 207.5,1276.6 209.4,1277 211.3,1277.4 213.1,1277.9 215,1278.3 216.9,1278.7 218.8,1279.1 220.7,1279.5 222.6,1279.9 224.5,1280.3 226.4,1280.6 228.2,1281 230.1,1281.4 232,1281.8 233.9,1282.2 235.8,1282.5" fill="none" stroke="#d4161c" stroke-width="2.05" stroke-linejoin="round"/>
</g>
<rect x="33" y="1135.5" width="199.8" height="195.8" fill="none" stroke="#969696" stroke-width="1.05"/>
<line x1="30.4" y1="1313.6" x2="33" y2="1313.6" stroke="#4a4a4a" stroke-width="1.15"/>
<text x="27.7" y="1317.1" class="tk" text-anchor="end">0.6</text>
<line x1="30.4" y1="1283.95" x2="33" y2="1283.95" stroke="#4a4a4a" stroke-width="1.15"/>
<text x="27.7" y="1287.45" class="tk" text-anchor="end">0.8</text>
<line x1="30.4" y1="1254.3" x2="33" y2="1254.3" stroke="#4a4a4a" stroke-width="1.15"/>
<text x="27.7" y="1257.8" class="tk" text-anchor="end">1.0</text>
<line x1="30.4" y1="1224.65" x2="33" y2="1224.65" stroke="#4a4a4a" stroke-width="1.15"/>
<text x="27.7" y="1228.15" class="tk" text-anchor="end">1.2</text>
<line x1="30.4" y1="1195" x2="33" y2="1195" stroke="#4a4a4a" stroke-width="1.15"/>
<text x="27.7" y="1198.5" class="tk" text-anchor="end">1.4</text>
<line x1="30.4" y1="1165.35" x2="33" y2="1165.35" stroke="#4a4a4a" stroke-width="1.15"/>
<text x="27.7" y="1168.85" class="tk" text-anchor="end">1.6</text>
<line x1="30.4" y1="1135.7" x2="33" y2="1135.7" stroke="#4a4a4a" stroke-width="1.15"/>
<text x="27.7" y="1139.2" class="tk" text-anchor="end">1.8</text>
<line x1="41.6" y1="1331.3" x2="41.6" y2="1333.9" stroke="#4a4a4a" stroke-width="1.15"/>
<text x="41.6" y="1342.5" class="tk" text-anchor="middle">20</text>
<line x1="87.22" y1="1331.3" x2="87.22" y2="1333.9" stroke="#4a4a4a" stroke-width="1.15"/>
<text x="87.22" y="1342.5" class="tk" text-anchor="middle">45</text>
<line x1="132.85" y1="1331.3" x2="132.85" y2="1333.9" stroke="#4a4a4a" stroke-width="1.15"/>
<text x="132.85" y="1342.5" class="tk" text-anchor="middle">70</text>
<line x1="178.47" y1="1331.3" x2="178.47" y2="1333.9" stroke="#4a4a4a" stroke-width="1.15"/>
<text x="178.47" y="1342.5" class="tk" text-anchor="middle">95</text>
<line x1="224.1" y1="1331.3" x2="224.1" y2="1333.9" stroke="#4a4a4a" stroke-width="1.15"/>
<text x="224.1" y="1342.5" class="tk" text-anchor="middle">120</text>
<text x="132.9" y="1356.3" class="at" text-anchor="middle">MVPA (min/day)</text>
<text transform="translate(10.4,1233.4) rotate(-90)" class="at" text-anchor="middle">HR (95%CI)</text>
<text x="132.9" y="1162.3" class="pt" text-anchor="middle">P for interaction: 0.09</text>
<text x="1.8" y="1128.1" class="lt">A</text>
<text x="248.1" y="1219.5" class="lg">Group</text>
<rect x="248.4" y="1226.4" width="14.2" height="13.8" fill="#3b6fb6" fill-opacity="0.15"/>
<line x1="249.2" y1="1233.3" x2="261.8" y2="1233.3" stroke="#1b4d89" stroke-width="1.9"/>
<text x="268.4" y="1236.8" class="lg">Chronic pain</text>
<rect x="248.4" y="1241.4" width="14.2" height="13.8" fill="#e8202a" fill-opacity="0.13"/>
<line x1="249.2" y1="1248.3" x2="261.8" y2="1248.3" stroke="#d4161c" stroke-width="1.9"/>
<text x="268.4" y="1251.8" class="lg">No chronic pain</text>
<line x1="381.3" y1="1330.07" x2="580.5" y2="1330.07" stroke="#f3f3f3" stroke-width="0.7"/>
<line x1="381.3" y1="1292.12" x2="580.5" y2="1292.12" stroke="#f3f3f3" stroke-width="0.7"/>
<line x1="381.3" y1="1254.17" x2="580.5" y2="1254.17" stroke="#f3f3f3" stroke-width="0.7"/>
<line x1="381.3" y1="1216.22" x2="580.5" y2="1216.22" stroke="#f3f3f3" stroke-width="0.7"/>
<line x1="381.3" y1="1178.27" x2="580.5" y2="1178.27" stroke="#f3f3f3" stroke-width="0.7"/>
<line x1="381.3" y1="1140.32" x2="580.5" y2="1140.32" stroke="#f3f3f3" stroke-width="0.7"/>
<line x1="390.4" y1="1135.5" x2="390.4" y2="1331.3" stroke="#ebebeb" stroke-width="1"/>
<line x1="435.8" y1="1135.5" x2="435.8" y2="1331.3" stroke="#ebebeb" stroke-width="1"/>
<line x1="481.2" y1="1135.5" x2="481.2" y2="1331.3" stroke="#ebebeb" stroke-width="1"/>
<line x1="526.6" y1="1135.5" x2="526.6" y2="1331.3" stroke="#ebebeb" stroke-width="1"/>
<line x1="572" y1="1135.5" x2="572" y2="1331.3" stroke="#ebebeb" stroke-width="1"/>
<line x1="381.3" y1="1311.1" x2="580.5" y2="1311.1" stroke="#ebebeb" stroke-width="1"/>
<line x1="381.3" y1="1273.15" x2="580.5" y2="1273.15" stroke="#ebebeb" stroke-width="1"/>
<line x1="381.3" y1="1235.2" x2="580.5" y2="1235.2" stroke="#ebebeb" stroke-width="1"/>
<line x1="381.3" y1="1197.25" x2="580.5" y2="1197.25" stroke="#ebebeb" stroke-width="1"/>
<line x1="381.3" y1="1159.3" x2="580.5" y2="1159.3" stroke="#ebebeb" stroke-width="1"/>
<g clip-path="url(#c3B)">
<path d="M378.3,1244.1 380.2,1244 382.1,1244 383.9,1243.9 385.8,1243.9 387.7,1243.8 389.6,1243.7 391.5,1243.6 393.4,1243.5 395.2,1243.5 397.1,1243.4 399,1243.3 400.9,1243.2 402.8,1243.1 404.7,1243 406.5,1242.8 408.4,1242.7 410.3,1242.6 412.2,1242.5 414.1,1242.3 416,1242.2 417.8,1242 419.7,1241.9 421.6,1241.7 423.5,1241.6 425.4,1241.4 427.2,1241.2 429.1,1241.1 431,1240.9 432.9,1240.7 434.8,1240.5 436.7,1240.4 438.5,1240.2 440.4,1240.1 442.3,1240.1 444.2,1240 446.1,1239.9 448,1239.8 449.8,1239.7 451.7,1239.6 453.6,1239.4 455.5,1239.2 457.4,1239 459.3,1238.6 461.1,1238.2 463,1237.8 464.9,1237.3 466.8,1236.9 468.7,1236.4 470.5,1235.9 472.4,1235.4 474.3,1234.9 476.2,1234.4 478.1,1233.8 480,1233.3 481.8,1232.5 483.7,1231.2 485.6,1230 487.5,1228.8 489.4,1227.6 491.3,1226.4 493.1,1225.3 495,1224.1 496.9,1222.9 498.8,1221.8 500.7,1220.7 502.5,1219.5 504.4,1218.4 506.3,1217.3 508.2,1216.2 510.1,1215.1 512,1214 513.8,1212.9 515.7,1211.9 517.6,1210.8 519.5,1209.8 521.4,1208.7 523.3,1207.7 525.1,1206.7 527,1205.7 528.9,1204.7 530.8,1203.7 532.7,1202.7 534.6,1201.7 536.4,1200.8 538.3,1199.8 540.2,1198.9 542.1,1197.9 544,1197 545.8,1196.1 547.7,1195.1 549.6,1194.2 551.5,1193.3 553.4,1192.4 555.3,1191.5 557.1,1190.6 559,1189.7 560.9,1188.8 562.8,1187.9 564.7,1187 566.6,1186.1 568.4,1185.2 570.3,1184.4 572.2,1183.5 574.1,1182.6 576,1181.8 577.9,1180.9 579.7,1180 581.6,1179.2 583.5,1178.4 L583.5,1225.4 581.6,1225.6 579.7,1225.8 577.9,1226 576,1226.2 574.1,1226.4 572.2,1226.6 570.3,1226.8 568.4,1227 566.6,1227.2 564.7,1227.4 562.8,1227.6 560.9,1227.8 559,1228 557.1,1228.3 555.3,1228.5 553.4,1228.7 551.5,1228.9 549.6,1229.1 547.7,1229.3 545.8,1229.5 544,1229.7 542.1,1229.9 540.2,1230.2 538.3,1230.4 536.4,1230.6 534.6,1230.8 532.7,1231 530.8,1231.2 528.9,1231.4 527,1231.6 525.1,1231.8 523.3,1231.9 521.4,1232.1 519.5,1232.3 517.6,1232.5 515.7,1232.7 513.8,1232.8 512,1233 510.1,1233.2 508.2,1233.3 506.3,1233.5 504.4,1233.7 502.5,1233.8 500.7,1234 498.8,1234.1 496.9,1234.3 495,1234.4 493.1,1234.6 491.3,1234.7 489.4,1234.9 487.5,1235 485.6,1235.2 483.7,1235.3 481.8,1235.4 480,1235.8 478.1,1236.5 476.2,1237.2 474.3,1237.9 472.4,1238.6 470.5,1239.3 468.7,1240 466.8,1240.8 464.9,1241.5 463,1242.3 461.1,1243.1 459.3,1243.9 457.4,1244.7 455.5,1245.6 453.6,1246.5 451.7,1247.5 449.8,1248.5 448,1249.4 446.1,1250.4 444.2,1251.4 442.3,1252.4 440.4,1253.3 438.5,1254.2 436.7,1255.1 434.8,1256 432.9,1256.8 431,1257.7 429.1,1258.5 427.2,1259.3 425.4,1260.1 423.5,1260.9 421.6,1261.7 419.7,1262.5 417.8,1263.3 416,1264.1 414.1,1264.9 412.2,1265.7 410.3,1266.5 408.4,1267.2 406.5,1268 404.7,1268.8 402.8,1269.5 400.9,1270.3 399,1271.1 397.1,1271.8 395.2,1272.6 393.4,1273.3 391.5,1274.1 389.6,1274.8 387.7,1275.5 385.8,1276.3 383.9,1277 382.1,1277.7 380.2,1278.4 378.3,1279.1Z" fill="#3b6fb6" fill-opacity="0.15"/>
<path d="M378.3,1249.1 380.2,1249.1 382.1,1249.1 383.9,1249.1 385.8,1249 387.7,1249 389.6,1248.9 391.5,1248.8 393.4,1248.8 395.2,1248.7 397.1,1248.6 399,1248.5 400.9,1248.4 402.8,1248.3 404.7,1248.1 406.5,1248 408.4,1247.8 410.3,1247.7 412.2,1247.5 414.1,1247.4 416,1247.3 417.8,1247.2 419.7,1247 421.6,1246.9 423.5,1246.7 425.4,1246.6 427.2,1246.4 429.1,1246.1 431,1245.8 432.9,1245.5 434.8,1245.1 436.7,1244.7 438.5,1244.2 440.4,1243.7 442.3,1243.1 444.2,1242.6 446.1,1242.1 448,1241.5 449.8,1241 451.7,1240.4 453.6,1239.8 455.5,1239.3 457.4,1238.7 459.3,1238.1 461.1,1237.5 463,1237 464.9,1236.4 466.8,1235.9 468.7,1235.3 470.5,1234.7 472.4,1234.1 474.3,1233.6 476.2,1233 478.1,1232.4 480,1231.8 481.8,1230.9 483.7,1229.4 485.6,1228 487.5,1226.6 489.4,1225.2 491.3,1223.8 493.1,1222.4 495,1221 496.9,1219.7 498.8,1218.3 500.7,1217 502.5,1215.7 504.4,1214.5 506.3,1213.2 508.2,1212 510.1,1210.7 512,1209.5 513.8,1208.3 515.7,1207.1 517.6,1205.9 519.5,1204.7 521.4,1203.5 523.3,1202.3 525.1,1201.1 527,1199.8 528.9,1198.6 530.8,1197.4 532.7,1196.1 534.6,1194.9 536.4,1193.6 538.3,1192.4 540.2,1191.1 542.1,1189.8 544,1188.6 545.8,1187.3 547.7,1186.1 549.6,1184.8 551.5,1183.6 553.4,1182.3 555.3,1181.1 557.1,1179.8 559,1178.6 560.9,1177.3 562.8,1176.1 564.7,1174.8 566.6,1173.6 568.4,1172.4 570.3,1171.1 572.2,1169.9 574.1,1168.6 576,1167.4 577.9,1166.1 579.7,1164.9 581.6,1163.7 583.5,1162.4 L583.5,1217.3 581.6,1217.6 579.7,1217.8 577.9,1218 576,1218.3 574.1,1218.5 572.2,1218.7 570.3,1219 568.4,1219.2 566.6,1219.5 564.7,1219.7 562.8,1220 560.9,1220.3 559,1220.5 557.1,1220.8 555.3,1221.1 553.4,1221.4 551.5,1221.7 549.6,1222 547.7,1222.3 545.8,1222.6 544,1222.9 542.1,1223.2 540.2,1223.6 538.3,1223.9 536.4,1224.2 534.6,1224.5 532.7,1224.9 530.8,1225.2 528.9,1225.5 527,1225.8 525.1,1226.1 523.3,1226.4 521.4,1226.7 519.5,1227.1 517.6,1227.4 515.7,1227.7 513.8,1228 512,1228.3 510.1,1228.6 508.2,1228.9 506.3,1229.2 504.4,1229.5 502.5,1229.8 500.7,1230.1 498.8,1230.4 496.9,1230.7 495,1231 493.1,1231.3 491.3,1231.6 489.4,1231.9 487.5,1232.2 485.6,1232.5 483.7,1232.8 481.8,1233.1 480,1233.7 478.1,1234.5 476.2,1235.4 474.3,1236.3 472.4,1237.2 470.5,1238.1 468.7,1239 466.8,1239.9 464.9,1240.8 463,1241.8 461.1,1242.7 459.3,1243.6 457.4,1244.6 455.5,1245.6 453.6,1246.6 451.7,1247.6 449.8,1248.6 448,1249.6 446.1,1250.6 444.2,1251.6 442.3,1252.7 440.4,1253.7 438.5,1254.6 436.7,1255.6 434.8,1256.6 432.9,1257.6 431,1258.5 429.1,1259.5 427.2,1260.5 425.4,1261.4 423.5,1262.4 421.6,1263.3 419.7,1264.2 417.8,1265.2 416,1266.1 414.1,1267 412.2,1267.9 410.3,1268.8 408.4,1269.6 406.5,1270.5 404.7,1271.3 402.8,1272.2 400.9,1273 399,1273.8 397.1,1274.6 395.2,1275.4 393.4,1276.2 391.5,1277 389.6,1277.8 387.7,1278.6 385.8,1279.4 383.9,1280.1 382.1,1280.9 380.2,1281.6 378.3,1282.4Z" fill="#e8202a" fill-opacity="0.13"/>
<path d="M378.3,1262.6 380.2,1262.1 382.1,1261.6 383.9,1261.1 385.8,1260.7 387.7,1260.2 389.6,1259.7 391.5,1259.2 393.4,1258.7 395.2,1258.3 397.1,1257.8 399,1257.3 400.9,1256.8 402.8,1256.3 404.7,1255.8 406.5,1255.3 408.4,1254.8 410.3,1254.3 412.2,1253.8 414.1,1253.3 416,1252.8 417.8,1252.3 419.7,1251.8 421.6,1251.3 423.5,1250.8 425.4,1250.3 427.2,1249.8 429.1,1249.3 431,1248.8 432.9,1248.3 434.8,1247.8 436.7,1247.3 438.5,1246.7 440.4,1246.2 442.3,1245.7 444.2,1245.2 446.1,1244.7 448,1244.1 449.8,1243.6 451.7,1243.1 453.6,1242.6 455.5,1242 457.4,1241.5 459.3,1241 461.1,1240.4 463,1239.9 464.9,1239.3 466.8,1238.8 468.7,1238.3 470.5,1237.7 472.4,1237.2 474.3,1236.6 476.2,1236.1 478.1,1235.5 480,1235 481.8,1234.4 483.7,1233.8 485.6,1233.3 487.5,1232.7 489.4,1232.2 491.3,1231.6 493.1,1231 495,1230.5 496.9,1229.9 498.8,1229.3 500.7,1228.8 502.5,1228.2 504.4,1227.6 506.3,1227 508.2,1226.4 510.1,1225.9 512,1225.3 513.8,1224.7 515.7,1224.1 517.6,1223.5 519.5,1222.9 521.4,1222.3 523.3,1221.7 525.1,1221.1 527,1220.5 528.9,1219.9 530.8,1219.3 532.7,1218.7 534.6,1218.1 536.4,1217.5 538.3,1216.9 540.2,1216.3 542.1,1215.7 544,1215.1 545.8,1214.4 547.7,1213.8 549.6,1213.2 551.5,1212.6 553.4,1211.9 555.3,1211.3 557.1,1210.7 559,1210 560.9,1209.4 562.8,1208.8 564.7,1208.1 566.6,1207.5 568.4,1206.9 570.3,1206.2 572.2,1205.6 574.1,1204.9 576,1204.3 577.9,1203.6 579.7,1202.9 581.6,1202.3 583.5,1201.6" fill="none" stroke="#1b4d89" stroke-width="2.05" stroke-linejoin="round"/>
<path d="M378.3,1266.6 380.2,1266 382.1,1265.4 383.9,1264.8 385.8,1264.2 387.7,1263.6 389.6,1263 391.5,1262.4 393.4,1261.9 395.2,1261.3 397.1,1260.7 399,1260.1 400.9,1259.5 402.8,1258.9 404.7,1258.3 406.5,1257.7 408.4,1257.1 410.3,1256.5 412.2,1255.9 414.1,1255.3 416,1254.7 417.8,1254.1 419.7,1253.5 421.6,1252.8 423.5,1252.2 425.4,1251.6 427.2,1251 429.1,1250.4 431,1249.8 432.9,1249.2 434.8,1248.5 436.7,1247.9 438.5,1247.3 440.4,1246.7 442.3,1246 444.2,1245.4 446.1,1244.8 448,1244.1 449.8,1243.5 451.7,1242.9 453.6,1242.2 455.5,1241.6 457.4,1241 459.3,1240.3 461.1,1239.7 463,1239 464.9,1238.4 466.8,1237.7 468.7,1237 470.5,1236.4 472.4,1235.7 474.3,1235 476.2,1234.4 478.1,1233.7 480,1233 481.8,1232.4 483.7,1231.7 485.6,1231 487.5,1230.3 489.4,1229.6 491.3,1228.9 493.1,1228.2 495,1227.5 496.9,1226.8 498.8,1226.1 500.7,1225.4 502.5,1224.7 504.4,1224 506.3,1223.3 508.2,1222.6 510.1,1221.8 512,1221.1 513.8,1220.4 515.7,1219.7 517.6,1218.9 519.5,1218.2 521.4,1217.4 523.3,1216.7 525.1,1215.9 527,1215.2 528.9,1214.4 530.8,1213.6 532.7,1212.9 534.6,1212.1 536.4,1211.3 538.3,1210.5 540.2,1209.8 542.1,1209 544,1208.2 545.8,1207.4 547.7,1206.6 549.6,1205.8 551.5,1205 553.4,1204.1 555.3,1203.3 557.1,1202.5 559,1201.7 560.9,1200.8 562.8,1200 564.7,1199.2 566.6,1198.3 568.4,1197.5 570.3,1196.6 572.2,1195.7 574.1,1194.9 576,1194 577.9,1193.1 579.7,1192.2 581.6,1191.3 583.5,1190.4" fill="none" stroke="#d4161c" stroke-width="2.05" stroke-linejoin="round"/>
</g>
<rect x="381.3" y="1135.5" width="199.2" height="195.8" fill="none" stroke="#969696" stroke-width="1.05"/>
<line x1="378.7" y1="1311.1" x2="381.3" y2="1311.1" stroke="#4a4a4a" stroke-width="1.15"/>
<text x="376" y="1314.6" class="tk" text-anchor="end">0.6</text>
<line x1="378.7" y1="1273.15" x2="381.3" y2="1273.15" stroke="#4a4a4a" stroke-width="1.15"/>
<text x="376" y="1276.65" class="tk" text-anchor="end">0.8</text>
<line x1="378.7" y1="1235.2" x2="381.3" y2="1235.2" stroke="#4a4a4a" stroke-width="1.15"/>
<text x="376" y="1238.7" class="tk" text-anchor="end">1.0</text>
<line x1="378.7" y1="1197.25" x2="381.3" y2="1197.25" stroke="#4a4a4a" stroke-width="1.15"/>
<text x="376" y="1200.75" class="tk" text-anchor="end">1.2</text>
<line x1="378.7" y1="1159.3" x2="381.3" y2="1159.3" stroke="#4a4a4a" stroke-width="1.15"/>
<text x="376" y="1162.8" class="tk" text-anchor="end">1.4</text>
<line x1="390.4" y1="1331.3" x2="390.4" y2="1333.9" stroke="#4a4a4a" stroke-width="1.15"/>
<text x="390.4" y="1342.5" class="tk" text-anchor="middle">500</text>
<line x1="435.8" y1="1331.3" x2="435.8" y2="1333.9" stroke="#4a4a4a" stroke-width="1.15"/>
<text x="435.8" y="1342.5" class="tk" text-anchor="middle">575</text>
<line x1="481.2" y1="1331.3" x2="481.2" y2="1333.9" stroke="#4a4a4a" stroke-width="1.15"/>
<text x="481.2" y="1342.5" class="tk" text-anchor="middle">650</text>
<line x1="526.6" y1="1331.3" x2="526.6" y2="1333.9" stroke="#4a4a4a" stroke-width="1.15"/>
<text x="526.6" y="1342.5" class="tk" text-anchor="middle">725</text>
<line x1="572" y1="1331.3" x2="572" y2="1333.9" stroke="#4a4a4a" stroke-width="1.15"/>
<text x="572" y="1342.5" class="tk" text-anchor="middle">800</text>
<text x="480.9" y="1356.3" class="at" text-anchor="middle">SB (min/day)</text>
<text transform="translate(358.7,1233.4) rotate(-90)" class="at" text-anchor="middle">HR (95%CI)</text>
<text x="480.9" y="1167.3" class="pt" text-anchor="middle">P for interaction: 0.543</text>
<text x="350.1" y="1128.1" class="lt">B</text>
<text x="596.4" y="1219.5" class="lg">Group</text>
<rect x="596.7" y="1226.4" width="14.2" height="13.8" fill="#3b6fb6" fill-opacity="0.15"/>
<line x1="597.5" y1="1233.3" x2="610.1" y2="1233.3" stroke="#1b4d89" stroke-width="1.9"/>
<text x="616.7" y="1236.8" class="lg">Chronic pain</text>
<rect x="596.7" y="1241.4" width="14.2" height="13.8" fill="#e8202a" fill-opacity="0.13"/>
<line x1="597.5" y1="1248.3" x2="610.1" y2="1248.3" stroke="#d4161c" stroke-width="1.9"/>
<text x="616.7" y="1251.8" class="lg">No chronic pain</text>
<line x1="33" y1="1551.44" x2="232.7" y2="1551.44" stroke="#f3f3f3" stroke-width="0.7"/>
<line x1="33" y1="1507.51" x2="232.7" y2="1507.51" stroke="#f3f3f3" stroke-width="0.7"/>
<line x1="33" y1="1463.59" x2="232.7" y2="1463.59" stroke="#f3f3f3" stroke-width="0.7"/>
<line x1="33" y1="1419.66" x2="232.7" y2="1419.66" stroke="#f3f3f3" stroke-width="0.7"/>
<line x1="41.6" y1="1384.2" x2="41.6" y2="1580.2" stroke="#ebebeb" stroke-width="1"/>
<line x1="87.22" y1="1384.2" x2="87.22" y2="1580.2" stroke="#ebebeb" stroke-width="1"/>
<line x1="132.85" y1="1384.2" x2="132.85" y2="1580.2" stroke="#ebebeb" stroke-width="1"/>
<line x1="178.47" y1="1384.2" x2="178.47" y2="1580.2" stroke="#ebebeb" stroke-width="1"/>
<line x1="224.1" y1="1384.2" x2="224.1" y2="1580.2" stroke="#ebebeb" stroke-width="1"/>
<line x1="33" y1="1573.4" x2="232.7" y2="1573.4" stroke="#ebebeb" stroke-width="1"/>
<line x1="33" y1="1529.48" x2="232.7" y2="1529.48" stroke="#ebebeb" stroke-width="1"/>
<line x1="33" y1="1485.55" x2="232.7" y2="1485.55" stroke="#ebebeb" stroke-width="1"/>
<line x1="33" y1="1441.62" x2="232.7" y2="1441.62" stroke="#ebebeb" stroke-width="1"/>
<line x1="33" y1="1397.7" x2="232.7" y2="1397.7" stroke="#ebebeb" stroke-width="1"/>
<g clip-path="url(#c3C)">
<path d="M30,1450.4 31.9,1451.4 33.8,1452.3 35.7,1453.2 37.5,1454.1 39.4,1455 41.3,1455.8 43.2,1456.7 45.1,1457.6 47,1458.4 48.9,1459.3 50.8,1460.1 52.6,1461 54.5,1461.8 56.4,1462.6 58.3,1463.4 60.2,1464.2 62.1,1465 64,1465.7 65.9,1466.5 67.7,1467.2 69.6,1468 71.5,1468.7 73.4,1469.5 75.3,1470.2 77.2,1470.9 79.1,1471.6 81,1472.3 82.8,1473 84.7,1473.7 86.6,1474.3 88.5,1475 90.4,1475.7 92.3,1476.4 94.2,1477.1 96.1,1477.8 97.9,1478.5 99.8,1479.1 101.7,1479.8 103.6,1480.4 105.5,1481 107.4,1481.6 109.3,1482.1 111.1,1482.6 113,1483 114.9,1483.3 116.8,1483.6 118.7,1483.9 120.6,1484.3 122.5,1484.6 124.4,1484.9 126.2,1485.1 128.1,1485.4 130,1485.7 131.9,1485.9 133.8,1485.9 135.7,1485.6 137.6,1485.3 139.5,1485.1 141.3,1484.8 143.2,1484.5 145.1,1484.3 147,1484 148.9,1483.8 150.8,1483.5 152.7,1483.3 154.6,1483 156.4,1482.8 158.3,1482.5 160.2,1482.3 162.1,1482 164,1481.8 165.9,1481.6 167.8,1481.3 169.6,1481.1 171.5,1480.9 173.4,1480.7 175.3,1480.4 177.2,1480.2 179.1,1480 181,1479.8 182.9,1479.5 184.7,1479.3 186.6,1479.1 188.5,1478.9 190.4,1478.7 192.3,1478.5 194.2,1478.3 196.1,1478.1 198,1477.9 199.8,1477.7 201.7,1477.5 203.6,1477.3 205.5,1477.1 207.4,1476.8 209.3,1476.6 211.2,1476.3 213.1,1476.1 214.9,1475.8 216.8,1475.5 218.7,1475.3 220.6,1475 222.5,1474.7 224.4,1474.4 226.3,1474.1 228.2,1473.8 230,1473.5 231.9,1473.2 233.8,1472.9 235.7,1472.6 L235.7,1514.8 233.8,1514.4 231.9,1514 230,1513.6 228.2,1513.2 226.3,1512.8 224.4,1512.4 222.5,1512 220.6,1511.6 218.7,1511.2 216.8,1510.8 214.9,1510.4 213.1,1510 211.2,1509.6 209.3,1509.2 207.4,1508.8 205.5,1508.4 203.6,1508 201.7,1507.6 199.8,1507.3 198,1506.9 196.1,1506.5 194.2,1506.1 192.3,1505.8 190.4,1505.4 188.5,1505 186.6,1504.6 184.7,1504.2 182.9,1503.8 181,1503.3 179.1,1502.8 177.2,1502.4 175.3,1501.9 173.4,1501.4 171.5,1500.8 169.6,1500.3 167.8,1499.7 165.9,1499.2 164,1498.6 162.1,1498 160.2,1497.4 158.3,1496.8 156.4,1496.2 154.6,1495.5 152.7,1494.9 150.8,1494.2 148.9,1493.5 147,1492.9 145.1,1492.2 143.2,1491.4 141.3,1490.7 139.5,1490 137.6,1489.2 135.7,1488.5 133.8,1487.7 131.9,1487.3 130,1487.1 128.1,1486.9 126.2,1486.8 124.4,1486.7 122.5,1486.6 120.6,1486.5 118.7,1486.4 116.8,1486.3 114.9,1486.3 113,1486.2 111.1,1486.2 109.3,1486.2 107.4,1486.3 105.5,1486.4 103.6,1486.5 101.7,1486.7 99.8,1486.9 97.9,1487.2 96.1,1487.4 94.2,1487.7 92.3,1487.9 90.4,1488.2 88.5,1488.4 86.6,1488.6 84.7,1488.9 82.8,1489.2 81,1489.5 79.1,1489.8 77.2,1490.1 75.3,1490.4 73.4,1490.8 71.5,1491.1 69.6,1491.5 67.7,1491.8 65.9,1492.2 64,1492.5 62.1,1492.8 60.2,1493.1 58.3,1493.5 56.4,1493.8 54.5,1494.1 52.6,1494.4 50.8,1494.8 48.9,1495.1 47,1495.4 45.1,1495.8 43.2,1496.1 41.3,1496.4 39.4,1496.8 37.5,1497.1 35.7,1497.4 33.8,1497.8 31.9,1498.1 30,1498.4Z" fill="#3b6fb6" fill-opacity="0.15"/>
<path d="M30,1430.4 31.9,1431.5 33.8,1432.7 35.7,1433.8 37.5,1435 39.4,1436.2 41.3,1437.4 43.2,1438.5 45.1,1439.7 47,1440.9 48.9,1442.1 50.8,1443.2 52.6,1444.4 54.5,1445.6 56.4,1446.8 58.3,1448 60.2,1449.1 62.1,1450.3 64,1451.5 65.9,1452.7 67.7,1454 69.6,1455.2 71.5,1456.4 73.4,1457.7 75.3,1458.9 77.2,1460.2 79.1,1461.4 81,1462.6 82.8,1463.8 84.7,1464.9 86.6,1466.1 88.5,1467.2 90.4,1468.3 92.3,1469.4 94.2,1470.5 96.1,1471.6 97.9,1472.7 99.8,1473.7 101.7,1474.8 103.6,1475.8 105.5,1476.8 107.4,1477.7 109.3,1478.6 111.1,1479.5 113,1480.3 114.9,1481.1 116.8,1481.8 118.7,1482.6 120.6,1483.3 122.5,1484 124.4,1484.7 126.2,1485.4 128.1,1486 130,1486.6 131.9,1487.2 133.8,1487.7 135.7,1488.1 137.6,1488.6 139.5,1489 141.3,1489.3 143.2,1489.7 145.1,1490 147,1490.3 148.9,1490.6 150.8,1490.9 152.7,1491.2 154.6,1491.4 156.4,1491.6 158.3,1491.9 160.2,1492 162.1,1492.2 164,1492.4 165.9,1492.6 167.8,1492.7 169.6,1492.9 171.5,1493 173.4,1493.1 175.3,1493.2 177.2,1493.4 179.1,1493.5 181,1493.6 182.9,1493.6 184.7,1493.6 186.6,1493.5 188.5,1493.5 190.4,1493.3 192.3,1493.2 194.2,1493 196.1,1492.9 198,1492.7 199.8,1492.5 201.7,1492.3 203.6,1492.2 205.5,1492 207.4,1491.9 209.3,1491.8 211.2,1491.7 213.1,1491.5 214.9,1491.4 216.8,1491.3 218.7,1491.1 220.6,1491 222.5,1490.9 224.4,1490.7 226.3,1490.6 228.2,1490.4 230,1490.3 231.9,1490.2 233.8,1490 235.7,1489.9 L235.7,1528.5 233.8,1527.8 231.9,1527.1 230,1526.4 228.2,1525.7 226.3,1525 224.4,1524.2 222.5,1523.5 220.6,1522.8 218.7,1522.1 216.8,1521.4 214.9,1520.6 213.1,1519.9 211.2,1519.2 209.3,1518.5 207.4,1517.7 205.5,1517 203.6,1516.3 201.7,1515.5 199.8,1514.8 198,1514.1 196.1,1513.3 194.2,1512.6 192.3,1511.8 190.4,1511.1 188.5,1510.3 186.6,1509.6 184.7,1508.8 182.9,1508.1 181,1507.4 179.1,1506.7 177.2,1505.9 175.3,1505.2 173.4,1504.5 171.5,1503.8 169.6,1503.1 167.8,1502.3 165.9,1501.6 164,1500.9 162.1,1500.2 160.2,1499.4 158.3,1498.7 156.4,1498 154.6,1497.3 152.7,1496.5 150.8,1495.8 148.9,1495.1 147,1494.4 145.1,1493.6 143.2,1492.9 141.3,1492.2 139.5,1491.5 137.6,1490.7 135.7,1490 133.8,1489.3 131.9,1488.9 130,1488.7 128.1,1488.5 126.2,1488.3 124.4,1488.1 122.5,1487.9 120.6,1487.7 118.7,1487.5 116.8,1487.3 114.9,1487.1 113,1487 111.1,1486.8 109.3,1486.7 107.4,1486.5 105.5,1486.4 103.6,1486.2 101.7,1486.1 99.8,1486 97.9,1485.8 96.1,1485.7 94.2,1485.6 92.3,1485.5 90.4,1485.3 88.5,1485.2 86.6,1485.1 84.7,1485 82.8,1484.8 81,1484.7 79.1,1484.6 77.2,1484.5 75.3,1484.4 73.4,1484.3 71.5,1484.2 69.6,1484 67.7,1483.9 65.9,1483.8 64,1483.6 62.1,1483.5 60.2,1483.3 58.3,1483.2 56.4,1483 54.5,1482.8 52.6,1482.6 50.8,1482.4 48.9,1482.3 47,1482.1 45.1,1481.8 43.2,1481.6 41.3,1481.4 39.4,1481.2 37.5,1481 35.7,1480.7 33.8,1480.5 31.9,1480.3 30,1480Z" fill="#e8202a" fill-opacity="0.13"/>
<path d="M30,1475 31.9,1475.2 33.8,1475.4 35.7,1475.7 37.5,1475.9 39.4,1476.1 41.3,1476.3 43.2,1476.5 45.1,1476.7 47,1477 48.9,1477.2 50.8,1477.4 52.6,1477.6 54.5,1477.9 56.4,1478.1 58.3,1478.3 60.2,1478.5 62.1,1478.7 64,1479 65.9,1479.2 67.7,1479.4 69.6,1479.6 71.5,1479.9 73.4,1480.1 75.3,1480.3 77.2,1480.5 79.1,1480.7 81,1481 82.8,1481.2 84.7,1481.4 86.6,1481.6 88.5,1481.9 90.4,1482.1 92.3,1482.3 94.2,1482.5 96.1,1482.7 97.9,1483 99.8,1483.2 101.7,1483.4 103.6,1483.6 105.5,1483.8 107.4,1484 109.3,1484.3 111.1,1484.5 113,1484.7 114.9,1484.9 116.8,1485.1 118.7,1485.3 120.6,1485.5 122.5,1485.8 124.4,1486 126.2,1486.2 128.1,1486.4 130,1486.6 131.9,1486.8 133.8,1487 135.7,1487.2 137.6,1487.4 139.5,1487.6 141.3,1487.8 143.2,1488 145.1,1488.2 147,1488.4 148.9,1488.6 150.8,1488.8 152.7,1489 154.6,1489.2 156.4,1489.3 158.3,1489.5 160.2,1489.7 162.1,1489.9 164,1490.1 165.9,1490.3 167.8,1490.4 169.6,1490.6 171.5,1490.8 173.4,1491 175.3,1491.1 177.2,1491.3 179.1,1491.5 181,1491.6 182.9,1491.8 184.7,1492 186.6,1492.1 188.5,1492.3 190.4,1492.4 192.3,1492.6 194.2,1492.7 196.1,1492.9 198,1493 199.8,1493.2 201.7,1493.3 203.6,1493.5 205.5,1493.6 207.4,1493.7 209.3,1493.9 211.2,1494 213.1,1494.1 214.9,1494.2 216.8,1494.4 218.7,1494.5 220.6,1494.6 222.5,1494.7 224.4,1494.8 226.3,1494.9 228.2,1495 230,1495.1 231.9,1495.2 233.8,1495.3 235.7,1495.4" fill="none" stroke="#1b4d89" stroke-width="2.05" stroke-linejoin="round"/>
<path d="M30,1455.5 31.9,1456.2 33.8,1456.9 35.7,1457.7 37.5,1458.4 39.4,1459.1 41.3,1459.8 43.2,1460.6 45.1,1461.3 47,1462 48.9,1462.7 50.8,1463.3 52.6,1464 54.5,1464.7 56.4,1465.4 58.3,1466 60.2,1466.7 62.1,1467.4 64,1468 65.9,1468.7 67.7,1469.3 69.6,1469.9 71.5,1470.6 73.4,1471.2 75.3,1471.8 77.2,1472.4 79.1,1473 81,1473.7 82.8,1474.3 84.7,1474.9 86.6,1475.4 88.5,1476 90.4,1476.6 92.3,1477.2 94.2,1477.8 96.1,1478.3 97.9,1478.9 99.8,1479.5 101.7,1480 103.6,1480.6 105.5,1481.1 107.4,1481.7 109.3,1482.2 111.1,1482.7 113,1483.3 114.9,1483.8 116.8,1484.3 118.7,1484.8 120.6,1485.4 122.5,1485.9 124.4,1486.4 126.2,1486.9 128.1,1487.4 130,1487.9 131.9,1488.4 133.8,1488.9 135.7,1489.3 137.6,1489.8 139.5,1490.3 141.3,1490.8 143.2,1491.2 145.1,1491.7 147,1492.2 148.9,1492.6 150.8,1493.1 152.7,1493.5 154.6,1494 156.4,1494.4 158.3,1494.9 160.2,1495.3 162.1,1495.8 164,1496.2 165.9,1496.6 167.8,1497 169.6,1497.5 171.5,1497.9 173.4,1498.3 175.3,1498.7 177.2,1499.1 179.1,1499.6 181,1500 182.9,1500.4 184.7,1500.8 186.6,1501.2 188.5,1501.6 190.4,1502 192.3,1502.4 194.2,1502.7 196.1,1503.1 198,1503.5 199.8,1503.9 201.7,1504.3 203.6,1504.7 205.5,1505 207.4,1505.4 209.3,1505.8 211.2,1506.2 213.1,1506.5 214.9,1506.9 216.8,1507.3 218.7,1507.6 220.6,1508 222.5,1508.3 224.4,1508.7 226.3,1509 228.2,1509.4 230,1509.7 231.9,1510.1 233.8,1510.4 235.7,1510.8" fill="none" stroke="#d4161c" stroke-width="2.05" stroke-linejoin="round"/>
</g>
<rect x="33" y="1384.2" width="199.7" height="196" fill="none" stroke="#969696" stroke-width="1.05"/>
<line x1="30.4" y1="1573.4" x2="33" y2="1573.4" stroke="#4a4a4a" stroke-width="1.15"/>
<text x="27.7" y="1576.9" class="tk" text-anchor="end">0.6</text>
<line x1="30.4" y1="1529.48" x2="33" y2="1529.48" stroke="#4a4a4a" stroke-width="1.15"/>
<text x="27.7" y="1532.98" class="tk" text-anchor="end">0.8</text>
<line x1="30.4" y1="1485.55" x2="33" y2="1485.55" stroke="#4a4a4a" stroke-width="1.15"/>
<text x="27.7" y="1489.05" class="tk" text-anchor="end">1.0</text>
<line x1="30.4" y1="1441.62" x2="33" y2="1441.62" stroke="#4a4a4a" stroke-width="1.15"/>
<text x="27.7" y="1445.12" class="tk" text-anchor="end">1.2</text>
<line x1="30.4" y1="1397.7" x2="33" y2="1397.7" stroke="#4a4a4a" stroke-width="1.15"/>
<text x="27.7" y="1401.2" class="tk" text-anchor="end">1.4</text>
<line x1="41.6" y1="1580.2" x2="41.6" y2="1582.8" stroke="#4a4a4a" stroke-width="1.15"/>
<text x="41.6" y="1591.4" class="tk" text-anchor="middle">210</text>
<line x1="87.22" y1="1580.2" x2="87.22" y2="1582.8" stroke="#4a4a4a" stroke-width="1.15"/>
<text x="87.22" y="1591.4" class="tk" text-anchor="middle">255</text>
<line x1="132.85" y1="1580.2" x2="132.85" y2="1582.8" stroke="#4a4a4a" stroke-width="1.15"/>
<text x="132.85" y="1591.4" class="tk" text-anchor="middle">300</text>
<line x1="178.47" y1="1580.2" x2="178.47" y2="1582.8" stroke="#4a4a4a" stroke-width="1.15"/>
<text x="178.47" y="1591.4" class="tk" text-anchor="middle">345</text>
<line x1="224.1" y1="1580.2" x2="224.1" y2="1582.8" stroke="#4a4a4a" stroke-width="1.15"/>
<text x="224.1" y="1591.4" class="tk" text-anchor="middle">390</text>
<text x="132.85" y="1605.2" class="at" text-anchor="middle">LPA (min/day)</text>
<text transform="translate(10.4,1482.2) rotate(-90)" class="at" text-anchor="middle">HR (95%CI)</text>
<text x="132.85" y="1418.3" class="pt" text-anchor="middle">P for interaction: 0.261</text>
<text x="1.8" y="1376.8" class="lt">C</text>
<text x="248.1" y="1468.3" class="lg">Group</text>
<rect x="248.4" y="1475.2" width="14.2" height="13.8" fill="#3b6fb6" fill-opacity="0.15"/>
<line x1="249.2" y1="1482.1" x2="261.8" y2="1482.1" stroke="#1b4d89" stroke-width="1.9"/>
<text x="268.4" y="1485.6" class="lg">Chronic pain</text>
<rect x="248.4" y="1490.2" width="14.2" height="13.8" fill="#e8202a" fill-opacity="0.13"/>
<line x1="249.2" y1="1497.1" x2="261.8" y2="1497.1" stroke="#d4161c" stroke-width="1.9"/>
<text x="268.4" y="1500.6" class="lg">No chronic pain</text>
<line x1="381.3" y1="1571.71" x2="580.7" y2="1571.71" stroke="#f3f3f3" stroke-width="0.7"/>
<line x1="381.3" y1="1538.49" x2="580.7" y2="1538.49" stroke="#f3f3f3" stroke-width="0.7"/>
<line x1="381.3" y1="1505.27" x2="580.7" y2="1505.27" stroke="#f3f3f3" stroke-width="0.7"/>
<line x1="381.3" y1="1472.05" x2="580.7" y2="1472.05" stroke="#f3f3f3" stroke-width="0.7"/>
<line x1="381.3" y1="1438.83" x2="580.7" y2="1438.83" stroke="#f3f3f3" stroke-width="0.7"/>
<line x1="381.3" y1="1405.61" x2="580.7" y2="1405.61" stroke="#f3f3f3" stroke-width="0.7"/>
<line x1="390.7" y1="1384.2" x2="390.7" y2="1580.2" stroke="#ebebeb" stroke-width="1"/>
<line x1="436.02" y1="1384.2" x2="436.02" y2="1580.2" stroke="#ebebeb" stroke-width="1"/>
<line x1="481.35" y1="1384.2" x2="481.35" y2="1580.2" stroke="#ebebeb" stroke-width="1"/>
<line x1="526.67" y1="1384.2" x2="526.67" y2="1580.2" stroke="#ebebeb" stroke-width="1"/>
<line x1="572" y1="1384.2" x2="572" y2="1580.2" stroke="#ebebeb" stroke-width="1"/>
<line x1="381.3" y1="1555.1" x2="580.7" y2="1555.1" stroke="#ebebeb" stroke-width="1"/>
<line x1="381.3" y1="1521.88" x2="580.7" y2="1521.88" stroke="#ebebeb" stroke-width="1"/>
<line x1="381.3" y1="1488.66" x2="580.7" y2="1488.66" stroke="#ebebeb" stroke-width="1"/>
<line x1="381.3" y1="1455.44" x2="580.7" y2="1455.44" stroke="#ebebeb" stroke-width="1"/>
<line x1="381.3" y1="1422.22" x2="580.7" y2="1422.22" stroke="#ebebeb" stroke-width="1"/>
<line x1="381.3" y1="1389" x2="580.7" y2="1389" stroke="#ebebeb" stroke-width="1"/>
<g clip-path="url(#c3D)">
<path d="M378.3,1391.2 380.2,1393.2 382.1,1395.2 384,1397.3 385.8,1399.3 387.7,1401.4 389.6,1403.4 391.5,1405.5 393.4,1407.6 395.3,1409.7 397.1,1411.8 399,1413.9 400.9,1416 402.8,1418.1 404.7,1420.2 406.6,1422.4 408.5,1424.6 410.3,1426.9 412.2,1429.2 414.1,1431.5 416,1433.8 417.9,1436 419.8,1438.1 421.6,1440.1 423.5,1442.1 425.4,1444 427.3,1445.8 429.2,1447.6 431.1,1449.4 432.9,1451.1 434.8,1452.7 436.7,1454.3 438.6,1455.8 440.5,1457.3 442.4,1458.8 444.3,1460.2 446.1,1461.6 448,1462.9 449.9,1464.3 451.8,1465.5 453.7,1466.7 455.6,1467.9 457.4,1469.1 459.3,1470.2 461.2,1471.4 463.1,1472.7 465,1474 466.9,1475.4 468.8,1476.8 470.6,1478.2 472.5,1479.7 474.4,1481.2 476.3,1482.8 478.2,1484.4 480.1,1486 481.9,1487.1 483.8,1487.7 485.7,1488.3 487.6,1488.8 489.5,1489.4 491.4,1489.9 493.2,1490.4 495.1,1490.9 497,1491.5 498.9,1491.9 500.8,1492.4 502.7,1492.9 504.6,1493.4 506.4,1493.8 508.3,1494.3 510.2,1494.7 512.1,1495.1 514,1495.6 515.9,1496 517.7,1496.4 519.6,1496.8 521.5,1497.2 523.4,1497.5 525.3,1497.9 527.2,1498.3 529.1,1498.7 530.9,1499 532.8,1499.4 534.7,1499.7 536.6,1500 538.5,1500.4 540.4,1500.7 542.2,1501 544.1,1501.3 546,1501.6 547.9,1501.9 549.8,1502.2 551.7,1502.5 553.5,1502.7 555.4,1503 557.3,1503.3 559.2,1503.6 561.1,1503.8 563,1504.1 564.9,1504.3 566.7,1504.6 568.6,1504.8 570.5,1505.1 572.4,1505.3 574.3,1505.6 576.2,1505.8 578,1506.1 579.9,1506.3 581.8,1506.5 583.7,1506.8 L583.7,1538.7 581.8,1537.7 579.9,1536.7 578,1535.7 576.2,1534.7 574.3,1533.7 572.4,1532.7 570.5,1531.7 568.6,1530.7 566.7,1529.7 564.9,1528.7 563,1527.8 561.1,1526.8 559.2,1525.8 557.3,1524.9 555.4,1523.9 553.5,1523 551.7,1522 549.8,1521.1 547.9,1520.1 546,1519.1 544.1,1518.2 542.2,1517.2 540.4,1516.3 538.5,1515.3 536.6,1514.4 534.7,1513.5 532.8,1512.5 530.9,1511.6 529.1,1510.7 527.2,1509.9 525.3,1509 523.4,1508.1 521.5,1507.2 519.6,1506.3 517.7,1505.4 515.9,1504.5 514,1503.6 512.1,1502.7 510.2,1501.8 508.3,1500.9 506.4,1500 504.6,1499.1 502.7,1498.2 500.8,1497.3 498.9,1496.4 497,1495.5 495.1,1494.6 493.2,1493.7 491.4,1492.8 489.5,1491.9 487.6,1491 485.7,1490.1 483.8,1489.2 481.9,1488.3 480.1,1487.5 478.2,1486.8 476.3,1486.1 474.4,1485.5 472.5,1484.8 470.6,1484.2 468.8,1483.6 466.9,1483 465,1482.4 463.1,1481.8 461.2,1481.2 459.3,1480.6 457.4,1480 455.6,1479.5 453.7,1479 451.8,1478.5 449.9,1478 448,1477.6 446.1,1477.1 444.3,1476.7 442.4,1476.2 440.5,1475.7 438.6,1475.3 436.7,1474.8 434.8,1474.2 432.9,1473.7 431.1,1473.2 429.2,1472.7 427.3,1472.2 425.4,1471.6 423.5,1471.1 421.6,1470.6 419.8,1470.1 417.9,1469.6 416,1469.1 414.1,1468.6 412.2,1468.1 410.3,1467.7 408.5,1467.3 406.6,1466.8 404.7,1466.5 402.8,1466.1 400.9,1465.7 399,1465.4 397.1,1465.1 395.3,1464.8 393.4,1464.5 391.5,1464.2 389.6,1464 387.7,1463.7 385.8,1463.5 384,1463.2 382.1,1463 380.2,1462.8 378.3,1462.5Z" fill="#3b6fb6" fill-opacity="0.15"/>
<path d="M378.3,1434.3 380.2,1434.9 382.1,1435.6 384,1436.2 385.8,1436.9 387.7,1437.6 389.6,1438.4 391.5,1439.1 393.4,1439.8 395.3,1440.6 397.1,1441.4 399,1442.1 400.9,1442.9 402.8,1443.7 404.7,1444.5 406.6,1445.3 408.5,1446.1 410.3,1447 412.2,1447.8 414.1,1448.6 416,1449.5 417.9,1450.4 419.8,1451.3 421.6,1452.2 423.5,1453.2 425.4,1454.2 427.3,1455.1 429.2,1456.1 431.1,1457.1 432.9,1458.1 434.8,1459.2 436.7,1460.2 438.6,1461.3 440.5,1462.4 442.4,1463.6 444.3,1464.9 446.1,1466.1 448,1467.4 449.9,1468.7 451.8,1469.9 453.7,1471.2 455.6,1472.5 457.4,1473.7 459.3,1474.9 461.2,1476 463.1,1477.2 465,1478.3 466.9,1479.4 468.8,1480.5 470.6,1481.5 472.5,1482.6 474.4,1483.6 476.3,1484.7 478.2,1485.7 480.1,1486.7 481.9,1487.1 483.8,1487 485.7,1486.9 487.6,1486.8 489.5,1486.6 491.4,1486.5 493.2,1486.4 495.1,1486.3 497,1486.1 498.9,1486 500.8,1485.9 502.7,1485.7 504.6,1485.6 506.4,1485.4 508.3,1485.3 510.2,1485.2 512.1,1485 514,1484.9 515.9,1484.7 517.7,1484.6 519.6,1484.4 521.5,1484.3 523.4,1484.1 525.3,1484 527.2,1483.8 529.1,1483.7 530.9,1483.5 532.8,1483.4 534.7,1483.2 536.6,1483.1 538.5,1482.9 540.4,1482.8 542.2,1482.6 544.1,1482.5 546,1482.3 547.9,1482.1 549.8,1482 551.7,1481.8 553.5,1481.6 555.4,1481.5 557.3,1481.3 559.2,1481.1 561.1,1481 563,1480.8 564.9,1480.6 566.7,1480.4 568.6,1480.3 570.5,1480.1 572.4,1479.9 574.3,1479.7 576.2,1479.5 578,1479.4 579.9,1479.2 581.8,1479 583.7,1478.8 L583.7,1519.8 581.8,1519.2 579.9,1518.6 578,1517.9 576.2,1517.3 574.3,1516.7 572.4,1516.1 570.5,1515.5 568.6,1514.9 566.7,1514.3 564.9,1513.7 563,1513 561.1,1512.4 559.2,1511.8 557.3,1511.2 555.4,1510.6 553.5,1510 551.7,1509.3 549.8,1508.7 547.9,1508 546,1507.4 544.1,1506.7 542.2,1506.1 540.4,1505.4 538.5,1504.8 536.6,1504.2 534.7,1503.5 532.8,1502.9 530.9,1502.3 529.1,1501.7 527.2,1501.1 525.3,1500.6 523.4,1500 521.5,1499.4 519.6,1498.9 517.7,1498.3 515.9,1497.7 514,1497.2 512.1,1496.6 510.2,1496.1 508.3,1495.5 506.4,1495 504.6,1494.4 502.7,1493.9 500.8,1493.3 498.9,1492.8 497,1492.3 495.1,1491.8 493.2,1491.2 491.4,1490.7 489.5,1490.2 487.6,1489.7 485.7,1489.2 483.8,1488.7 481.9,1488.2 480.1,1488.1 478.2,1488.3 476.3,1488.5 474.4,1488.6 472.5,1488.8 470.6,1489 468.8,1489.2 466.9,1489.4 465,1489.6 463.1,1489.8 461.2,1490 459.3,1490.2 457.4,1490.4 455.6,1490.6 453.7,1490.8 451.8,1491.1 449.9,1491.3 448,1491.5 446.1,1491.7 444.3,1491.9 442.4,1492.2 440.5,1492.4 438.6,1492.6 436.7,1492.9 434.8,1493.1 432.9,1493.4 431.1,1493.6 429.2,1493.9 427.3,1494.1 425.4,1494.4 423.5,1494.7 421.6,1494.9 419.8,1495.2 417.9,1495.5 416,1495.8 414.1,1496 412.2,1496.3 410.3,1496.6 408.5,1496.9 406.6,1497.1 404.7,1497.4 402.8,1497.7 400.9,1498 399,1498.3 397.1,1498.5 395.3,1498.8 393.4,1499.1 391.5,1499.4 389.6,1499.7 387.7,1500 385.8,1500.3 384,1500.6 382.1,1500.9 380.2,1501.2 378.3,1501.5Z" fill="#e8202a" fill-opacity="0.13"/>
<path d="M378.3,1425.7 380.2,1427.3 382.1,1428.8 384,1430.4 385.8,1431.9 387.7,1433.4 389.6,1434.9 391.5,1436.4 393.4,1437.9 395.3,1439.3 397.1,1440.7 399,1442.1 400.9,1443.5 402.8,1444.9 404.7,1446.2 406.6,1447.6 408.5,1448.9 410.3,1450.2 412.2,1451.5 414.1,1452.7 416,1454 417.9,1455.2 419.8,1456.4 421.6,1457.6 423.5,1458.8 425.4,1460 427.3,1461.1 429.2,1462.3 431.1,1463.4 432.9,1464.5 434.8,1465.6 436.7,1466.7 438.6,1467.8 440.5,1468.8 442.4,1469.9 444.3,1470.9 446.1,1471.9 448,1472.9 449.9,1473.9 451.8,1474.9 453.7,1475.8 455.6,1476.8 457.4,1477.7 459.3,1478.7 461.2,1479.6 463.1,1480.5 465,1481.4 466.9,1482.3 468.8,1483.1 470.6,1484 472.5,1484.8 474.4,1485.7 476.3,1486.5 478.2,1487.3 480.1,1488.2 481.9,1489 483.8,1489.8 485.7,1490.5 487.6,1491.3 489.5,1492.1 491.4,1492.9 493.2,1493.6 495.1,1494.4 497,1495.1 498.9,1495.8 500.8,1496.5 502.7,1497.3 504.6,1498 506.4,1498.7 508.3,1499.4 510.2,1500.1 512.1,1500.7 514,1501.4 515.9,1502.1 517.7,1502.8 519.6,1503.4 521.5,1504.1 523.4,1504.7 525.3,1505.4 527.2,1506 529.1,1506.7 530.9,1507.3 532.8,1507.9 534.7,1508.6 536.6,1509.2 538.5,1509.8 540.4,1510.4 542.2,1511 544.1,1511.7 546,1512.3 547.9,1512.9 549.8,1513.5 551.7,1514.1 553.5,1514.7 555.4,1515.3 557.3,1515.9 559.2,1516.5 561.1,1517.1 563,1517.7 564.9,1518.3 566.7,1518.9 568.6,1519.5 570.5,1520.1 572.4,1520.7 574.3,1521.3 576.2,1521.9 578,1522.5 579.9,1523.1 581.8,1523.7 583.7,1524.3" fill="none" stroke="#1b4d89" stroke-width="2.05" stroke-linejoin="round"/>
<path d="M378.3,1469.4 380.2,1469.8 382.1,1470.2 384,1470.6 385.8,1471.1 387.7,1471.5 389.6,1471.8 391.5,1472.2 393.4,1472.6 395.3,1473 397.1,1473.4 399,1473.8 400.9,1474.2 402.8,1474.5 404.7,1474.9 406.6,1475.3 408.5,1475.7 410.3,1476 412.2,1476.4 414.1,1476.7 416,1477.1 417.9,1477.5 419.8,1477.8 421.6,1478.2 423.5,1478.5 425.4,1478.8 427.3,1479.2 429.2,1479.5 431.1,1479.9 432.9,1480.2 434.8,1480.5 436.7,1480.8 438.6,1481.2 440.5,1481.5 442.4,1481.8 444.3,1482.1 446.1,1482.4 448,1482.8 449.9,1483.1 451.8,1483.4 453.7,1483.7 455.6,1484 457.4,1484.3 459.3,1484.6 461.2,1484.9 463.1,1485.2 465,1485.5 466.9,1485.8 468.8,1486 470.6,1486.3 472.5,1486.6 474.4,1486.9 476.3,1487.2 478.2,1487.4 480.1,1487.7 481.9,1488 483.8,1488.3 485.7,1488.5 487.6,1488.8 489.5,1489.1 491.4,1489.3 493.2,1489.6 495.1,1489.8 497,1490.1 498.9,1490.3 500.8,1490.6 502.7,1490.8 504.6,1491.1 506.4,1491.3 508.3,1491.6 510.2,1491.8 512.1,1492.1 514,1492.3 515.9,1492.6 517.7,1492.8 519.6,1493 521.5,1493.3 523.4,1493.5 525.3,1493.7 527.2,1493.9 529.1,1494.2 530.9,1494.4 532.8,1494.6 534.7,1494.8 536.6,1495.1 538.5,1495.3 540.4,1495.5 542.2,1495.7 544.1,1495.9 546,1496.1 547.9,1496.4 549.8,1496.6 551.7,1496.8 553.5,1497 555.4,1497.2 557.3,1497.4 559.2,1497.6 561.1,1497.8 563,1498 564.9,1498.2 566.7,1498.4 568.6,1498.6 570.5,1498.8 572.4,1499 574.3,1499.2 576.2,1499.4 578,1499.6 579.9,1499.8 581.8,1500 583.7,1500.1" fill="none" stroke="#d4161c" stroke-width="2.05" stroke-linejoin="round"/>
</g>
<rect x="381.3" y="1384.2" width="199.4" height="196" fill="none" stroke="#969696" stroke-width="1.05"/>
<line x1="378.7" y1="1555.1" x2="381.3" y2="1555.1" stroke="#4a4a4a" stroke-width="1.15"/>
<text x="376" y="1558.6" class="tk" text-anchor="end">0.6</text>
<line x1="378.7" y1="1521.88" x2="381.3" y2="1521.88" stroke="#4a4a4a" stroke-width="1.15"/>
<text x="376" y="1525.38" class="tk" text-anchor="end">0.8</text>
<line x1="378.7" y1="1488.66" x2="381.3" y2="1488.66" stroke="#4a4a4a" stroke-width="1.15"/>
<text x="376" y="1492.16" class="tk" text-anchor="end">1.0</text>
<line x1="378.7" y1="1455.44" x2="381.3" y2="1455.44" stroke="#4a4a4a" stroke-width="1.15"/>
<text x="376" y="1458.94" class="tk" text-anchor="end">1.2</text>
<line x1="378.7" y1="1422.22" x2="381.3" y2="1422.22" stroke="#4a4a4a" stroke-width="1.15"/>
<text x="376" y="1425.72" class="tk" text-anchor="end">1.4</text>
<line x1="378.7" y1="1389" x2="381.3" y2="1389" stroke="#4a4a4a" stroke-width="1.15"/>
<text x="376" y="1392.5" class="tk" text-anchor="end">1.6</text>
<line x1="390.7" y1="1580.2" x2="390.7" y2="1582.8" stroke="#4a4a4a" stroke-width="1.15"/>
<text x="390.7" y="1591.4" class="tk" text-anchor="middle">300</text>
<line x1="436.02" y1="1580.2" x2="436.02" y2="1582.8" stroke="#4a4a4a" stroke-width="1.15"/>
<text x="436.02" y="1591.4" class="tk" text-anchor="middle">360</text>
<line x1="481.35" y1="1580.2" x2="481.35" y2="1582.8" stroke="#4a4a4a" stroke-width="1.15"/>
<text x="481.35" y="1591.4" class="tk" text-anchor="middle">420</text>
<line x1="526.67" y1="1580.2" x2="526.67" y2="1582.8" stroke="#4a4a4a" stroke-width="1.15"/>
<text x="526.67" y="1591.4" class="tk" text-anchor="middle">480</text>
<line x1="572" y1="1580.2" x2="572" y2="1582.8" stroke="#4a4a4a" stroke-width="1.15"/>
<text x="572" y="1591.4" class="tk" text-anchor="middle">540</text>
<text x="481" y="1605.2" class="at" text-anchor="middle">Sleep (min/day)</text>
<text transform="translate(358.7,1482.2) rotate(-90)" class="at" text-anchor="middle">HR (95%CI)</text>
<text x="481" y="1413.2" class="pt" text-anchor="middle">P for interaction: 0.081</text>
<text x="350.1" y="1376.8" class="lt">D</text>
<text x="596.4" y="1468.3" class="lg">Group</text>
<rect x="596.7" y="1475.2" width="14.2" height="13.8" fill="#3b6fb6" fill-opacity="0.15"/>
<line x1="597.5" y1="1482.1" x2="610.1" y2="1482.1" stroke="#1b4d89" stroke-width="1.9"/>
<text x="616.7" y="1485.6" class="lg">Chronic pain</text>
<rect x="596.7" y="1490.2" width="14.2" height="13.8" fill="#e8202a" fill-opacity="0.13"/>
<line x1="597.5" y1="1497.1" x2="610.1" y2="1497.1" stroke="#d4161c" stroke-width="1.9"/>
<text x="616.7" y="1500.6" class="lg">No chronic pain</text>
<text x="332.7" y="525.2" class="cap" text-anchor="middle">3.1 Overall mental disorders</text>
<text x="338.8" y="1099.5" class="cap" text-anchor="middle">3.2 Depression</text>
<text x="343.9" y="1657" class="cap" text-anchor="middle">3.3 Anxiety</text>
</svg>
</body></html>
